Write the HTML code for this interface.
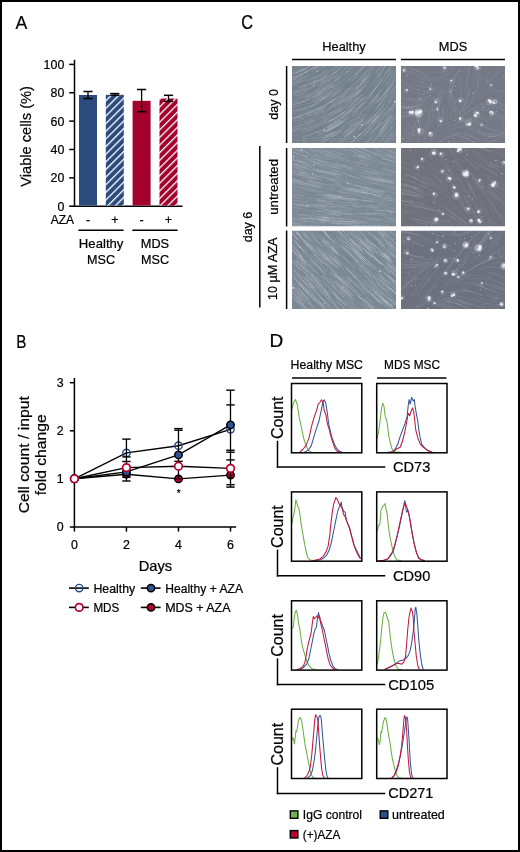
<!DOCTYPE html>
<html><head><meta charset="utf-8"><style>
html,body{margin:0;padding:0;background:#fff;}
body{width:520px;height:852px;overflow:hidden;position:relative;font-family:"Liberation Sans", sans-serif;}
svg{position:absolute;left:0;top:0;will-change:transform;}
.frame{position:absolute;left:0;top:0;width:516px;height:848px;border:2px solid #000;}
</style></head><body>
<svg width="520" height="852" viewBox="0 0 520 852" font-family='"Liberation Sans", sans-serif'>
<text x="15.6" y="28.8" font-size="19" text-anchor="start" fill="#000" stroke="#000" stroke-width="0.22" textLength="11.8" lengthAdjust="spacingAndGlyphs" >A</text>
<line x1="74.5" y1="59.8" x2="74.5" y2="206.95" stroke="#000" stroke-width="1.5" />
<line x1="73.75" y1="206.2" x2="182.5" y2="206.2" stroke="#000" stroke-width="1.5" />
<line x1="69.2" y1="206.2" x2="74.5" y2="206.2" stroke="#000" stroke-width="1.5" />
<text x="64.3" y="210.6" font-size="12.4" text-anchor="end" fill="#000" stroke="#000" stroke-width="0.22" >0</text>
<line x1="69.2" y1="177.83999999999997" x2="74.5" y2="177.83999999999997" stroke="#000" stroke-width="1.5" />
<text x="64.3" y="182.23999999999998" font-size="12.4" text-anchor="end" fill="#000" stroke="#000" stroke-width="0.22" >20</text>
<line x1="69.2" y1="149.48" x2="74.5" y2="149.48" stroke="#000" stroke-width="1.5" />
<text x="64.3" y="153.88" font-size="12.4" text-anchor="end" fill="#000" stroke="#000" stroke-width="0.22" >40</text>
<line x1="69.2" y1="121.11999999999999" x2="74.5" y2="121.11999999999999" stroke="#000" stroke-width="1.5" />
<text x="64.3" y="125.52" font-size="12.4" text-anchor="end" fill="#000" stroke="#000" stroke-width="0.22" >60</text>
<line x1="69.2" y1="92.75999999999999" x2="74.5" y2="92.75999999999999" stroke="#000" stroke-width="1.5" />
<text x="64.3" y="97.16" font-size="12.4" text-anchor="end" fill="#000" stroke="#000" stroke-width="0.22" >80</text>
<line x1="69.2" y1="64.4" x2="74.5" y2="64.4" stroke="#000" stroke-width="1.5" />
<text x="64.3" y="68.80000000000001" font-size="12.4" text-anchor="end" fill="#000" stroke="#000" stroke-width="0.22" >100</text>
<text transform="translate(31,136.4) rotate(-90)" x="0" y="0" font-size="15.5" text-anchor="middle" fill="#000" stroke="#000" stroke-width="0.22" textLength="100.7" lengthAdjust="spacingAndGlyphs" >Viable cells (%)</text>
<defs>
<pattern id="hb" patternUnits="userSpaceOnUse" width="5.4" height="5.4" patternTransform="translate(0,-0.6) rotate(45)">
<rect width="5.4" height="5.4" fill="#2b4a7e"/><rect x="0" y="0" width="1.3" height="5.4" fill="#fff"/></pattern>
<pattern id="hr" patternUnits="userSpaceOnUse" width="5.4" height="5.4" patternTransform="translate(0,-1.7) rotate(45)">
<rect width="5.4" height="5.4" fill="#a3002b"/><rect x="0" y="0" width="1.3" height="5.4" fill="#fff"/></pattern>
<filter id="soft" x="-5%" y="-5%" width="110%" height="110%"><feGaussianBlur stdDeviation="0.45"/></filter>
<radialGradient id="blob"><stop offset="0" stop-color="#ffffff" stop-opacity="1"/><stop offset="0.55" stop-color="#eef2f7" stop-opacity="0.8"/><stop offset="1" stop-color="#dde3ea" stop-opacity="0"/></radialGradient>
</defs>
<rect x="79.0" y="95.0" width="18" height="110.44999999999999" fill="#2b4a7e"/>
<line x1="88.0" y1="91.5" x2="88.0" y2="98.5" stroke="#000" stroke-width="1.3" />
<line x1="83.4" y1="91.5" x2="92.6" y2="91.5" stroke="#000" stroke-width="1.5" />
<line x1="83.4" y1="98.5" x2="92.6" y2="98.5" stroke="#000" stroke-width="1.5" />
<rect x="105.8" y="94.8" width="18" height="110.64999999999999" fill="url(#hb)"/>
<line x1="114.8" y1="93.6" x2="114.8" y2="95.3" stroke="#000" stroke-width="1.3" />
<line x1="110.2" y1="93.6" x2="119.39999999999999" y2="93.6" stroke="#000" stroke-width="1.5" />
<line x1="110.2" y1="95.3" x2="119.39999999999999" y2="95.3" stroke="#000" stroke-width="1.5" />
<rect x="132.6" y="100.8" width="18" height="104.64999999999999" fill="#a3002b"/>
<line x1="141.6" y1="89.5" x2="141.6" y2="111.7" stroke="#000" stroke-width="1.3" />
<line x1="137.0" y1="89.5" x2="146.2" y2="89.5" stroke="#000" stroke-width="1.5" />
<line x1="137.0" y1="111.7" x2="146.2" y2="111.7" stroke="#000" stroke-width="1.5" />
<rect x="159.5" y="98.5" width="18" height="106.94999999999999" fill="url(#hr)"/>
<line x1="168.5" y1="95.3" x2="168.5" y2="101.3" stroke="#000" stroke-width="1.3" />
<line x1="163.9" y1="95.3" x2="173.1" y2="95.3" stroke="#000" stroke-width="1.5" />
<line x1="163.9" y1="101.3" x2="173.1" y2="101.3" stroke="#000" stroke-width="1.5" />
<text x="50.7" y="223.6" font-size="12" text-anchor="start" fill="#000" stroke="#000" stroke-width="0.22" textLength="23.3" lengthAdjust="spacingAndGlyphs" >AZA</text>
<text x="88.0" y="223.6" font-size="12.5" text-anchor="middle" fill="#000" stroke="#000" stroke-width="0.22" >-</text>
<text x="114.8" y="223.6" font-size="12.5" text-anchor="middle" fill="#000" stroke="#000" stroke-width="0.22" >+</text>
<text x="141.6" y="223.6" font-size="12.5" text-anchor="middle" fill="#000" stroke="#000" stroke-width="0.22" >-</text>
<text x="168.5" y="223.6" font-size="12.5" text-anchor="middle" fill="#000" stroke="#000" stroke-width="0.22" >+</text>
<line x1="78.4" y1="230.3" x2="123.6" y2="230.3" stroke="#000" stroke-width="1.5" />
<line x1="132.3" y1="230.3" x2="177.6" y2="230.3" stroke="#000" stroke-width="1.5" />
<text x="101.15" y="248.2" font-size="12.6" text-anchor="middle" fill="#000" stroke="#000" stroke-width="0.22" textLength="44.6" lengthAdjust="spacingAndGlyphs" >Healthy</text>
<text x="101.1" y="264.3" font-size="12.6" text-anchor="middle" fill="#000" stroke="#000" stroke-width="0.22" >MSC</text>
<text x="154.95" y="248.2" font-size="12.6" text-anchor="middle" fill="#000" stroke="#000" stroke-width="0.22" textLength="28.4" lengthAdjust="spacingAndGlyphs" >MDS</text>
<text x="155" y="264.3" font-size="12.6" text-anchor="middle" fill="#000" stroke="#000" stroke-width="0.22" >MSC</text>
<text x="16.2" y="347.5" font-size="19" text-anchor="start" fill="#000" stroke="#000" stroke-width="0.22" textLength="10.2" lengthAdjust="spacingAndGlyphs" >B</text>
<line x1="74.4" y1="378" x2="74.4" y2="527.75" stroke="#000" stroke-width="1.5" />
<line x1="73.65" y1="527.0" x2="236.1" y2="527.0" stroke="#000" stroke-width="1.5" />
<line x1="69.8" y1="527.0" x2="74.4" y2="527.0" stroke="#000" stroke-width="1.5" />
<text x="63.6" y="531.4" font-size="12.4" text-anchor="end" fill="#000" stroke="#000" stroke-width="0.22" >0</text>
<line x1="69.8" y1="478.9" x2="74.4" y2="478.9" stroke="#000" stroke-width="1.5" />
<text x="63.6" y="483.29999999999995" font-size="12.4" text-anchor="end" fill="#000" stroke="#000" stroke-width="0.22" >1</text>
<line x1="69.8" y1="430.8" x2="74.4" y2="430.8" stroke="#000" stroke-width="1.5" />
<text x="63.6" y="435.2" font-size="12.4" text-anchor="end" fill="#000" stroke="#000" stroke-width="0.22" >2</text>
<line x1="69.8" y1="382.7" x2="74.4" y2="382.7" stroke="#000" stroke-width="1.5" />
<text x="63.6" y="387.09999999999997" font-size="12.4" text-anchor="end" fill="#000" stroke="#000" stroke-width="0.22" >3</text>
<line x1="74.4" y1="527.0" x2="74.4" y2="531.6" stroke="#000" stroke-width="1.5" />
<text x="74.4" y="549.0" font-size="12.4" text-anchor="middle" fill="#000" stroke="#000" stroke-width="0.22" >0</text>
<line x1="126.434" y1="527.0" x2="126.434" y2="531.6" stroke="#000" stroke-width="1.5" />
<text x="126.434" y="549.0" font-size="12.4" text-anchor="middle" fill="#000" stroke="#000" stroke-width="0.22" >2</text>
<line x1="178.46800000000002" y1="527.0" x2="178.46800000000002" y2="531.6" stroke="#000" stroke-width="1.5" />
<text x="178.46800000000002" y="549.0" font-size="12.4" text-anchor="middle" fill="#000" stroke="#000" stroke-width="0.22" >4</text>
<line x1="230.502" y1="527.0" x2="230.502" y2="531.6" stroke="#000" stroke-width="1.5" />
<text x="230.502" y="549.0" font-size="12.4" text-anchor="middle" fill="#000" stroke="#000" stroke-width="0.22" >6</text>
<text transform="translate(29.1,454.7) rotate(-90)" x="0" y="0" font-size="15.5" text-anchor="middle" fill="#000" stroke="#000" stroke-width="0.22" textLength="117.2" lengthAdjust="spacingAndGlyphs" >Cell count / input</text>
<text transform="translate(46.3,454.85) rotate(-90)" x="0" y="0" font-size="15.5" text-anchor="middle" fill="#000" stroke="#000" stroke-width="0.22" textLength="80.9" lengthAdjust="spacingAndGlyphs" >fold change</text>
<text x="155.35" y="571.3" font-size="14.2" text-anchor="middle" fill="#000" stroke="#000" stroke-width="0.22" textLength="33.4" lengthAdjust="spacingAndGlyphs" >Days</text>
<polyline points="74.40,478.80 126.43,452.90 178.47,445.70 230.50,429.30" fill="none" stroke="#000" stroke-width="1.4"/>
<polyline points="74.40,478.80 126.43,471.90 178.47,454.90 230.50,424.90" fill="none" stroke="#000" stroke-width="1.4"/>
<polyline points="74.40,478.80 126.43,467.60 178.47,466.20 230.50,468.40" fill="none" stroke="#000" stroke-width="1.4"/>
<polyline points="74.40,478.80 126.43,474.20 178.47,478.90 230.50,475.10" fill="none" stroke="#000" stroke-width="1.4"/>
<circle cx="74.40" cy="478.80" r="3.7" fill="none" stroke="#26498c" stroke-width="1.4"/>
<circle cx="126.43" cy="452.90" r="3.7" fill="none" stroke="#26498c" stroke-width="1.4"/>
<circle cx="178.47" cy="445.70" r="3.7" fill="none" stroke="#26498c" stroke-width="1.4"/>
<circle cx="230.50" cy="429.30" r="3.7" fill="none" stroke="#26498c" stroke-width="1.4"/>
<circle cx="74.40" cy="478.80" r="3.7" fill="#b3002d" stroke="#000" stroke-width="1.5"/>
<circle cx="126.43" cy="474.20" r="3.7" fill="#b3002d" stroke="#000" stroke-width="1.5"/>
<circle cx="178.47" cy="478.90" r="3.7" fill="#b3002d" stroke="#000" stroke-width="1.5"/>
<circle cx="230.50" cy="475.10" r="3.7" fill="#b3002d" stroke="#000" stroke-width="1.5"/>
<line x1="126.434" y1="439.1" x2="126.434" y2="481.0" stroke="#000" stroke-width="1.3" />
<line x1="122.234" y1="439.1" x2="130.634" y2="439.1" stroke="#000" stroke-width="1.4" />
<line x1="122.234" y1="456.9" x2="130.634" y2="456.9" stroke="#000" stroke-width="1.4" />
<line x1="122.234" y1="461.5" x2="130.634" y2="461.5" stroke="#000" stroke-width="1.4" />
<line x1="122.234" y1="477.3" x2="130.634" y2="477.3" stroke="#000" stroke-width="1.4" />
<line x1="122.234" y1="481.0" x2="130.634" y2="481.0" stroke="#000" stroke-width="1.4" />
<line x1="178.46800000000002" y1="429.4" x2="178.46800000000002" y2="479.0" stroke="#000" stroke-width="1.3" />
<line x1="174.26800000000003" y1="428.6" x2="182.668" y2="428.6" stroke="#000" stroke-width="1.4" />
<line x1="174.26800000000003" y1="430.2" x2="182.668" y2="430.2" stroke="#000" stroke-width="1.4" />
<line x1="174.26800000000003" y1="461.3" x2="182.668" y2="461.3" stroke="#000" stroke-width="1.4" />
<line x1="230.502" y1="390.2" x2="230.502" y2="487.1" stroke="#000" stroke-width="1.3" />
<line x1="226.30200000000002" y1="390.2" x2="234.702" y2="390.2" stroke="#000" stroke-width="1.4" />
<line x1="226.30200000000002" y1="404.9" x2="234.702" y2="404.9" stroke="#000" stroke-width="1.4" />
<line x1="226.30200000000002" y1="450.2" x2="234.702" y2="450.2" stroke="#000" stroke-width="1.4" />
<line x1="226.30200000000002" y1="452.2" x2="234.702" y2="452.2" stroke="#000" stroke-width="1.4" />
<line x1="226.30200000000002" y1="459.9" x2="234.702" y2="459.9" stroke="#000" stroke-width="1.4" />
<line x1="226.30200000000002" y1="484.7" x2="234.702" y2="484.7" stroke="#000" stroke-width="1.4" />
<line x1="226.30200000000002" y1="487.1" x2="234.702" y2="487.1" stroke="#000" stroke-width="1.4" />
<line x1="175.8" y1="479.0" x2="181.4" y2="479.0" stroke="#2a0008" stroke-width="0.9" />
<circle cx="74.40" cy="478.80" r="3.7" fill="#2f5597" stroke="#000" stroke-width="1.5"/>
<circle cx="126.43" cy="471.90" r="3.7" fill="#2f5597" stroke="#000" stroke-width="1.5"/>
<circle cx="178.47" cy="454.90" r="3.7" fill="#2f5597" stroke="#000" stroke-width="1.5"/>
<circle cx="230.50" cy="424.90" r="3.7" fill="#2f5597" stroke="#000" stroke-width="1.5"/>
<circle cx="74.40" cy="478.80" r="3.8" fill="#fff" stroke="#b8002e" stroke-width="1.7"/>
<circle cx="126.43" cy="467.60" r="3.8" fill="#fff" stroke="#b8002e" stroke-width="1.7"/>
<circle cx="178.47" cy="466.20" r="3.8" fill="#fff" stroke="#b8002e" stroke-width="1.7"/>
<circle cx="230.50" cy="468.40" r="3.8" fill="#fff" stroke="#b8002e" stroke-width="1.7"/>
<text x="178.6" y="496.6" font-size="10" text-anchor="middle" fill="#000" stroke="#000" stroke-width="0.22" >*</text>
<line x1="69" y1="588.1" x2="88.8" y2="588.1" stroke="#000" stroke-width="1.6" />
<circle cx="79.20" cy="588.10" r="3.7" fill="none" stroke="#26498c" stroke-width="1.4"/>
<text x="93.4" y="592.5" font-size="12.2" text-anchor="start" fill="#000" stroke="#000" stroke-width="0.22" textLength="41.8" lengthAdjust="spacingAndGlyphs" >Healthy</text>
<line x1="140.8" y1="588.1" x2="160.60000000000002" y2="588.1" stroke="#000" stroke-width="1.6" />
<circle cx="151.00" cy="588.10" r="3.7" fill="#2f5597" stroke="#000" stroke-width="1.5"/>
<text x="165.20000000000002" y="592.5" font-size="12.2" text-anchor="start" fill="#000" stroke="#000" stroke-width="0.22" textLength="77.8" lengthAdjust="spacingAndGlyphs" >Healthy + AZA</text>
<line x1="69" y1="607.4" x2="88.8" y2="607.4" stroke="#000" stroke-width="1.6" />
<circle cx="79.20" cy="607.40" r="3.8" fill="#fff" stroke="#b8002e" stroke-width="1.7"/>
<text x="93.4" y="611.8" font-size="12.2" text-anchor="start" fill="#000" stroke="#000" stroke-width="0.22" textLength="25.900000000000002" lengthAdjust="spacingAndGlyphs" >MDS</text>
<line x1="140.8" y1="607.4" x2="160.60000000000002" y2="607.4" stroke="#000" stroke-width="1.6" />
<circle cx="151.00" cy="607.40" r="3.7" fill="#b3002d" stroke="#000" stroke-width="1.5"/>
<text x="165.20000000000002" y="611.8" font-size="12.2" text-anchor="start" fill="#000" stroke="#000" stroke-width="0.22" textLength="65.3" lengthAdjust="spacingAndGlyphs" >MDS + AZA</text>
<text x="241.2" y="29.4" font-size="19.5" text-anchor="start" fill="#000" stroke="#000" stroke-width="0.22" textLength="11.8" lengthAdjust="spacingAndGlyphs" >C</text>
<text x="344" y="51" font-size="12.8" text-anchor="middle" fill="#000" stroke="#000" stroke-width="0.22" textLength="43.3" lengthAdjust="spacingAndGlyphs" >Healthy</text>
<text x="453" y="51" font-size="12.8" text-anchor="middle" fill="#000" stroke="#000" stroke-width="0.22" textLength="28.4" lengthAdjust="spacingAndGlyphs" >MDS</text>
<line x1="292" y1="59.6" x2="396" y2="59.6" stroke="#000" stroke-width="1.5" />
<line x1="401" y1="59.6" x2="505" y2="59.6" stroke="#000" stroke-width="1.5" />
<line x1="286.6" y1="66" x2="286.6" y2="143" stroke="#000" stroke-width="1.5" />
<text transform="translate(278.1,104.35) rotate(-90)" x="0" y="0" font-size="13.2" text-anchor="middle" fill="#000" stroke="#000" stroke-width="0.22" textLength="30.7" lengthAdjust="spacingAndGlyphs" >day 0</text>
<clipPath id="c00"><rect x="292" y="66" width="104" height="77"/></clipPath><g clip-path="url(#c00)"><rect x="292" y="66" width="104" height="77" fill="#77828f"/><g fill="none" stroke="#e0e9ef" stroke-linecap="round" filter="url(#soft)"><path d="M345.5,103.9Q351.5,99.1 357.2,94.0" stroke-opacity="0.13" stroke-width="0.8"/><path d="M374.9,119.6Q377.7,116.3 380.4,113.0" stroke-opacity="0.20" stroke-width="0.6"/><path d="M307.7,143.2Q318.1,139.7 328.0,134.8" stroke-opacity="0.09" stroke-width="0.8"/><path d="M350.8,98.9Q354.8,95.4 358.6,91.8" stroke-opacity="0.24" stroke-width="0.7"/><path d="M360.4,119.8Q363.4,117.0 366.2,114.1" stroke-opacity="0.26" stroke-width="0.9"/><path d="M391.0,116.0Q392.8,113.2 394.6,110.4" stroke-opacity="0.08" stroke-width="0.6"/><path d="M386.5,94.2Q389.9,89.3 393.2,84.4" stroke-opacity="0.30" stroke-width="0.6"/><path d="M346.4,101.8Q349.1,99.6 351.8,97.3" stroke-opacity="0.22" stroke-width="0.8"/><path d="M302.5,85.9Q308.3,83.4 313.9,80.5" stroke-opacity="0.09" stroke-width="0.7"/><path d="M372.3,122.2Q377.1,116.7 381.7,111.0" stroke-opacity="0.29" stroke-width="0.6"/><path d="M345.0,99.8Q351.1,94.9 356.8,89.6" stroke-opacity="0.11" stroke-width="0.8"/><path d="M293.3,82.4Q302.1,79.0 310.6,74.8" stroke-opacity="0.31" stroke-width="0.7"/><path d="M330.8,87.8Q335.1,85.0 339.3,81.9" stroke-opacity="0.23" stroke-width="0.6"/><path d="M300.4,102.6Q304.4,101.1 308.4,99.5" stroke-opacity="0.24" stroke-width="0.8"/><path d="M369.0,107.3Q372.9,103.0 376.6,98.6" stroke-opacity="0.18" stroke-width="0.5"/><path d="M362.2,95.5Q366.2,91.6 369.9,87.5" stroke-opacity="0.10" stroke-width="0.7"/><path d="M345.0,102.4Q352.8,96.2 360.0,89.4" stroke-opacity="0.24" stroke-width="0.6"/><path d="M340.7,140.2Q346.7,136.2 352.4,131.8" stroke-opacity="0.22" stroke-width="0.5"/><path d="M337.9,105.2Q343.0,101.6 347.8,97.7" stroke-opacity="0.18" stroke-width="0.7"/><path d="M344.6,106.4Q348.0,103.8 351.4,101.0" stroke-opacity="0.19" stroke-width="0.9"/><path d="M332.7,70.5Q335.2,68.7 337.6,66.9" stroke-opacity="0.21" stroke-width="0.5"/><path d="M295.5,77.0Q301.7,74.5 307.7,71.6" stroke-opacity="0.32" stroke-width="0.7"/><path d="M333.9,103.6Q339.8,99.7 345.3,95.4" stroke-opacity="0.19" stroke-width="0.8"/><path d="M381.5,124.8Q385.4,119.8 389.1,114.6" stroke-opacity="0.24" stroke-width="0.9"/><path d="M300.7,87.5Q308.0,84.4 315.1,80.8" stroke-opacity="0.24" stroke-width="0.8"/><path d="M347.8,134.1Q353.3,130.0 358.4,125.5" stroke-opacity="0.27" stroke-width="0.9"/><path d="M329.7,136.6Q337.4,132.3 344.6,127.3" stroke-opacity="0.29" stroke-width="0.5"/><path d="M380.5,133.6Q387.1,125.2 393.1,116.3" stroke-opacity="0.32" stroke-width="0.6"/><path d="M356.2,82.3Q361.8,77.0 367.0,71.3" stroke-opacity="0.30" stroke-width="0.6"/><path d="M324.6,74.6Q328.4,72.2 332.1,69.6" stroke-opacity="0.13" stroke-width="0.5"/><path d="M392.4,140.0Q396.0,134.4 399.5,128.6" stroke-opacity="0.26" stroke-width="0.8"/><path d="M339.7,103.6Q346.4,98.7 352.8,93.3" stroke-opacity="0.21" stroke-width="0.6"/><path d="M322.9,118.2Q330.0,114.4 336.7,110.1" stroke-opacity="0.13" stroke-width="0.7"/><path d="M377.9,139.5Q383.1,133.2 387.9,126.5" stroke-opacity="0.10" stroke-width="0.7"/><path d="M296.7,72.3Q301.3,70.3 305.8,68.1" stroke-opacity="0.19" stroke-width="0.8"/><path d="M351.1,93.5Q357.5,87.9 363.5,81.8" stroke-opacity="0.20" stroke-width="0.7"/><path d="M314.3,102.6Q319.5,100.1 324.5,97.3" stroke-opacity="0.25" stroke-width="0.7"/><path d="M332.8,106.5Q338.5,102.8 344.0,98.7" stroke-opacity="0.25" stroke-width="0.8"/><path d="M369.2,104.2Q375.4,97.3 381.2,90.0" stroke-opacity="0.31" stroke-width="0.9"/><path d="M360.2,78.2Q367.1,71.2 373.4,63.7" stroke-opacity="0.28" stroke-width="0.5"/><path d="M318.3,95.2Q326.2,91.0 333.6,86.0" stroke-opacity="0.23" stroke-width="0.6"/><path d="M308.0,80.7Q311.4,79.0 314.7,77.2" stroke-opacity="0.27" stroke-width="0.9"/><path d="M305.0,127.2Q315.0,123.7 324.5,118.9" stroke-opacity="0.13" stroke-width="0.7"/><path d="M329.0,146.0Q337.8,141.3 346.0,135.7" stroke-opacity="0.08" stroke-width="0.6"/><path d="M375.6,115.8Q380.3,110.3 384.6,104.5" stroke-opacity="0.27" stroke-width="0.8"/><path d="M389.4,94.0Q391.3,91.2 393.2,88.3" stroke-opacity="0.25" stroke-width="0.5"/><path d="M345.8,135.9Q350.8,132.3 355.6,128.3" stroke-opacity="0.22" stroke-width="0.6"/><path d="M299.1,116.0Q308.5,112.9 317.5,108.8" stroke-opacity="0.32" stroke-width="0.5"/><path d="M384.4,110.1Q387.8,105.4 391.1,100.6" stroke-opacity="0.18" stroke-width="0.7"/><path d="M319.7,82.5Q328.3,77.4 336.3,71.6" stroke-opacity="0.25" stroke-width="0.7"/><path d="M364.0,145.0Q367.2,142.0 370.2,138.8" stroke-opacity="0.28" stroke-width="0.8"/><path d="M321.9,112.3Q327.8,109.1 333.4,105.6" stroke-opacity="0.13" stroke-width="0.7"/><path d="M303.6,139.1Q307.9,137.8 312.1,136.3" stroke-opacity="0.23" stroke-width="0.7"/><path d="M390.1,132.0Q393.4,127.1 396.5,122.2" stroke-opacity="0.17" stroke-width="0.5"/><path d="M287.4,93.3Q297.5,90.2 307.2,86.0" stroke-opacity="0.09" stroke-width="0.6"/><path d="M354.9,96.8Q358.2,93.8 361.4,90.6" stroke-opacity="0.31" stroke-width="0.5"/><path d="M349.8,102.8Q354.2,99.1 358.5,95.1" stroke-opacity="0.13" stroke-width="0.6"/><path d="M328.4,127.3Q334.2,124.0 339.9,120.3" stroke-opacity="0.27" stroke-width="0.9"/><path d="M302.7,136.1Q310.1,133.9 317.2,131.0" stroke-opacity="0.18" stroke-width="0.7"/><path d="M382.3,99.2Q384.6,96.2 386.8,93.1" stroke-opacity="0.31" stroke-width="0.5"/><path d="M297.9,123.2Q303.1,121.7 308.3,119.8" stroke-opacity="0.15" stroke-width="0.8"/><path d="M378.5,100.8Q384.8,92.7 390.7,84.3" stroke-opacity="0.23" stroke-width="0.7"/><path d="M344.1,69.7Q347.4,67.0 350.6,64.1" stroke-opacity="0.24" stroke-width="0.8"/><path d="M295.6,117.1Q302.1,115.2 308.5,112.8" stroke-opacity="0.22" stroke-width="0.7"/><path d="M304.9,97.9Q314.8,93.6 324.1,88.3" stroke-opacity="0.13" stroke-width="0.8"/><path d="M339.9,77.8Q347.4,71.9 354.3,65.4" stroke-opacity="0.08" stroke-width="0.8"/><path d="M319.2,140.5Q327.3,136.9 335.0,132.5" stroke-opacity="0.17" stroke-width="0.8"/><path d="M392.1,83.1Q394.6,79.2 397.1,75.2" stroke-opacity="0.15" stroke-width="0.8"/><path d="M310.7,88.6Q317.8,85.1 324.6,81.0" stroke-opacity="0.22" stroke-width="0.7"/><path d="M347.0,70.4Q349.3,68.4 351.6,66.4" stroke-opacity="0.09" stroke-width="0.5"/><path d="M369.4,144.3Q372.2,141.4 374.9,138.4" stroke-opacity="0.17" stroke-width="0.5"/><path d="M330.3,121.2Q337.2,117.1 343.7,112.4" stroke-opacity="0.30" stroke-width="0.7"/><path d="M291.2,97.1Q297.5,95.1 303.7,92.6" stroke-opacity="0.16" stroke-width="0.5"/><path d="M350.7,109.4Q357.4,103.8 363.6,97.7" stroke-opacity="0.17" stroke-width="0.5"/><path d="M313.7,82.8Q319.6,79.7 325.3,76.1" stroke-opacity="0.12" stroke-width="0.5"/><path d="M343.6,79.3Q346.6,76.9 349.5,74.3" stroke-opacity="0.11" stroke-width="0.8"/><path d="M370.8,134.0Q376.0,128.4 380.8,122.5" stroke-opacity="0.23" stroke-width="0.8"/><path d="M329.1,109.9Q336.6,105.4 343.6,100.2" stroke-opacity="0.23" stroke-width="0.7"/><path d="M355.7,110.4Q359.2,107.3 362.6,104.0" stroke-opacity="0.15" stroke-width="0.8"/><path d="M330.4,135.1Q335.6,132.2 340.6,128.9" stroke-opacity="0.24" stroke-width="0.5"/><path d="M319.2,133.4Q323.2,131.6 327.1,129.6" stroke-opacity="0.23" stroke-width="0.5"/><path d="M347.6,107.4Q355.5,100.9 362.8,93.8" stroke-opacity="0.28" stroke-width="0.8"/><path d="M323.5,119.5Q327.2,117.6 330.9,115.4" stroke-opacity="0.20" stroke-width="0.7"/><path d="M337.1,89.9Q340.9,87.1 344.6,84.2" stroke-opacity="0.20" stroke-width="0.8"/><path d="M344.5,143.8Q350.6,139.5 356.4,134.8" stroke-opacity="0.12" stroke-width="0.8"/><path d="M321.3,140.0Q324.9,138.3 328.5,136.5" stroke-opacity="0.19" stroke-width="0.8"/><path d="M389.5,111.2Q392.9,106.2 396.1,101.1" stroke-opacity="0.27" stroke-width="0.8"/><path d="M384.6,124.8Q387.0,121.6 389.4,118.3" stroke-opacity="0.32" stroke-width="0.9"/><path d="M329.0,121.9Q337.4,117.0 345.2,111.3" stroke-opacity="0.30" stroke-width="0.8"/><path d="M296.0,73.6Q301.5,71.3 306.8,68.7" stroke-opacity="0.19" stroke-width="0.6"/><path d="M365.6,129.3Q370.0,124.9 374.1,120.2" stroke-opacity="0.25" stroke-width="0.6"/><path d="M388.6,88.1Q391.0,84.6 393.3,81.1" stroke-opacity="0.17" stroke-width="0.8"/><path d="M346.8,124.8Q354.4,119.0 361.4,112.5" stroke-opacity="0.17" stroke-width="0.9"/><path d="M389.7,114.7Q394.8,107.3 399.4,99.6" stroke-opacity="0.28" stroke-width="0.7"/><path d="M299.2,118.7Q305.6,116.7 311.7,114.2" stroke-opacity="0.29" stroke-width="0.6"/><path d="M289.1,81.2Q293.2,79.8 297.3,78.2" stroke-opacity="0.17" stroke-width="0.6"/><path d="M323.0,113.4Q326.8,111.4 330.4,109.2" stroke-opacity="0.20" stroke-width="0.6"/><path d="M285.7,119.5Q292.5,118.1 299.3,116.1" stroke-opacity="0.27" stroke-width="0.9"/><path d="M290.5,122.6Q297.0,121.1 303.4,119.1" stroke-opacity="0.29" stroke-width="0.5"/><path d="M376.9,102.0Q379.3,99.1 381.6,96.1" stroke-opacity="0.19" stroke-width="0.9"/><path d="M296.2,96.4Q299.6,95.2 303.0,93.9" stroke-opacity="0.08" stroke-width="0.8"/><path d="M341.2,116.1Q349.4,110.1 357.1,103.4" stroke-opacity="0.10" stroke-width="0.9"/><path d="M363.6,138.3Q370.5,131.7 376.7,124.5" stroke-opacity="0.17" stroke-width="0.5"/><path d="M391.0,122.0Q395.8,114.8 400.3,107.3" stroke-opacity="0.25" stroke-width="0.6"/><path d="M356.8,104.0Q360.4,100.7 363.8,97.3" stroke-opacity="0.20" stroke-width="0.7"/><path d="M314.1,128.0Q323.5,124.0 332.4,118.8" stroke-opacity="0.22" stroke-width="0.5"/><path d="M341.0,120.3Q348.8,114.8 356.0,108.5" stroke-opacity="0.15" stroke-width="0.6"/><path d="M323.1,83.4Q331.0,78.5 338.4,73.0" stroke-opacity="0.09" stroke-width="0.7"/><path d="M376.0,71.9Q378.7,68.5 381.3,65.1" stroke-opacity="0.32" stroke-width="0.6"/><path d="M367.4,73.3Q371.9,68.2 376.2,63.0" stroke-opacity="0.09" stroke-width="0.6"/><path d="M287.3,119.9Q293.8,118.4 300.2,116.5" stroke-opacity="0.16" stroke-width="0.7"/><path d="M359.7,88.9Q362.8,86.0 365.7,82.9" stroke-opacity="0.09" stroke-width="0.8"/><path d="M356.0,89.4Q361.2,84.5 366.1,79.3" stroke-opacity="0.31" stroke-width="0.7"/><path d="M366.7,98.5Q371.8,93.1 376.5,87.4" stroke-opacity="0.27" stroke-width="0.8"/><path d="M351.5,91.0Q354.1,88.7 356.7,86.4" stroke-opacity="0.20" stroke-width="0.8"/><path d="M323.5,125.1Q329.5,122.1 335.2,118.5" stroke-opacity="0.10" stroke-width="0.7"/><path d="M345.6,93.7Q349.1,90.8 352.6,87.8" stroke-opacity="0.32" stroke-width="0.7"/><path d="M361.3,75.7Q367.4,69.3 373.2,62.6" stroke-opacity="0.12" stroke-width="0.7"/><path d="M325.0,100.9Q333.1,96.1 340.6,90.6" stroke-opacity="0.13" stroke-width="0.9"/><path d="M374.1,111.6Q380.5,103.9 386.5,95.9" stroke-opacity="0.21" stroke-width="0.9"/><path d="M335.2,146.0Q342.9,141.5 350.1,136.1" stroke-opacity="0.24" stroke-width="0.9"/><path d="M358.6,90.7Q364.4,84.9 369.9,78.9" stroke-opacity="0.12" stroke-width="0.7"/><path d="M360.7,85.3Q365.2,80.7 369.5,76.0" stroke-opacity="0.14" stroke-width="0.7"/><path d="M307.1,123.8Q316.2,120.4 324.8,116.0" stroke-opacity="0.20" stroke-width="0.8"/><path d="M363.9,134.9Q370.6,128.3 376.8,121.2" stroke-opacity="0.24" stroke-width="0.8"/><path d="M361.3,112.9Q368.0,106.4 374.2,99.3" stroke-opacity="0.13" stroke-width="0.8"/><path d="M352.5,112.8Q358.5,107.7 364.1,102.2" stroke-opacity="0.30" stroke-width="0.8"/><path d="M356.4,142.0Q364.0,135.5 370.9,128.3" stroke-opacity="0.16" stroke-width="0.8"/><path d="M377.8,119.0Q384.3,111.0 390.3,102.4" stroke-opacity="0.12" stroke-width="0.8"/><path d="M310.9,99.9Q317.3,96.9 323.5,93.4" stroke-opacity="0.18" stroke-width="0.7"/><path d="M293.6,74.0Q301.7,70.7 309.5,66.7" stroke-opacity="0.14" stroke-width="0.6"/><path d="M359.6,129.3Q364.9,124.3 369.9,119.1" stroke-opacity="0.28" stroke-width="0.6"/><path d="M378.6,122.9Q384.7,115.2 390.3,107.2" stroke-opacity="0.28" stroke-width="0.8"/><path d="M384.2,129.4Q388.2,124.1 391.9,118.7" stroke-opacity="0.11" stroke-width="0.7"/><path d="M350.2,73.1Q355.9,67.9 361.3,62.3" stroke-opacity="0.18" stroke-width="0.7"/><path d="M291.3,75.1Q299.0,72.2 306.3,68.6" stroke-opacity="0.14" stroke-width="0.6"/><path d="M376.9,77.2Q382.2,70.5 387.2,63.4" stroke-opacity="0.28" stroke-width="0.9"/><path d="M356.0,74.7Q360.6,70.2 365.1,65.4" stroke-opacity="0.29" stroke-width="0.7"/><path d="M341.5,127.7Q347.8,123.3 353.7,118.5" stroke-opacity="0.17" stroke-width="0.7"/><path d="M337.4,93.7Q340.3,91.6 343.1,89.5" stroke-opacity="0.14" stroke-width="0.9"/><path d="M312.9,97.9Q322.6,93.1 331.7,87.2" stroke-opacity="0.10" stroke-width="0.6"/><path d="M325.8,105.0Q331.2,101.8 336.4,98.3" stroke-opacity="0.15" stroke-width="0.6"/><path d="M347.5,81.0Q349.8,79.0 352.0,77.0" stroke-opacity="0.26" stroke-width="0.8"/><path d="M325.8,135.9Q329.6,134.0 333.3,131.8" stroke-opacity="0.30" stroke-width="0.8"/><path d="M355.3,76.3Q361.8,70.0 367.9,63.2" stroke-opacity="0.12" stroke-width="0.7"/><path d="M345.2,74.2Q349.3,70.7 353.2,67.1" stroke-opacity="0.30" stroke-width="0.8"/><path d="M320.8,142.7Q324.0,141.3 327.2,139.7" stroke-opacity="0.24" stroke-width="0.8"/><path d="M374.5,122.7Q380.3,115.9 385.6,108.8" stroke-opacity="0.14" stroke-width="0.8"/><path d="M359.1,113.7Q362.8,110.2 366.4,106.6" stroke-opacity="0.24" stroke-width="0.5"/><path d="M339.6,119.9Q344.3,116.7 348.8,113.2" stroke-opacity="0.22" stroke-width="0.5"/><path d="M318.3,108.4Q326.9,104.0 335.0,98.8" stroke-opacity="0.21" stroke-width="0.9"/><path d="M324.0,138.2Q330.9,134.8 337.4,130.9" stroke-opacity="0.19" stroke-width="0.6"/><path d="M374.0,131.9Q378.0,127.3 381.8,122.5" stroke-opacity="0.16" stroke-width="0.6"/><path d="M319.1,78.2Q327.5,73.2 335.5,67.4" stroke-opacity="0.18" stroke-width="0.6"/><path d="M355.8,86.6Q363.0,79.6 369.7,72.2" stroke-opacity="0.08" stroke-width="0.7"/><path d="M355.3,95.5Q358.6,92.4 361.9,89.2" stroke-opacity="0.30" stroke-width="0.7"/><path d="M362.2,81.0Q364.3,78.8 366.4,76.5" stroke-opacity="0.30" stroke-width="0.6"/><path d="M290.4,127.7Q297.8,126.0 304.9,123.7" stroke-opacity="0.08" stroke-width="0.7"/><path d="M338.5,141.4Q345.0,137.2 351.2,132.5" stroke-opacity="0.12" stroke-width="0.8"/><path d="M371.6,144.6Q375.3,140.5 378.8,136.4" stroke-opacity="0.22" stroke-width="0.5"/><path d="M386.7,83.8Q391.4,77.1 395.8,70.1" stroke-opacity="0.29" stroke-width="0.7"/><path d="M389.5,103.6Q393.8,97.4 397.7,91.0" stroke-opacity="0.28" stroke-width="0.5"/><path d="M379.1,134.5Q381.8,131.2 384.4,127.7" stroke-opacity="0.25" stroke-width="0.6"/><path d="M303.9,108.7Q312.0,105.5 319.8,101.6" stroke-opacity="0.17" stroke-width="0.6"/><path d="M308.3,113.3Q315.4,110.4 322.2,106.9" stroke-opacity="0.29" stroke-width="0.8"/><path d="M289.0,78.7Q292.9,77.3 296.6,75.8" stroke-opacity="0.15" stroke-width="0.8"/><path d="M334.8,127.6Q343.0,122.4 350.7,116.4" stroke-opacity="0.17" stroke-width="0.5"/><path d="M307.2,116.4Q314.2,113.7 321.0,110.3" stroke-opacity="0.13" stroke-width="0.8"/><path d="M288.3,80.4Q295.1,78.0 301.6,75.2" stroke-opacity="0.23" stroke-width="0.9"/><path d="M326.0,131.8Q332.0,128.7 337.8,125.1" stroke-opacity="0.15" stroke-width="0.9"/><path d="M339.2,123.5Q343.6,120.5 347.9,117.3" stroke-opacity="0.29" stroke-width="0.7"/><path d="M291.5,73.4Q296.9,71.3 302.2,68.8" stroke-opacity="0.18" stroke-width="0.5"/><path d="M373.5,117.0Q380.4,109.0 386.7,100.5" stroke-opacity="0.24" stroke-width="0.8"/><path d="M305.4,71.6Q309.8,69.4 314.0,67.1" stroke-opacity="0.18" stroke-width="0.5"/><path d="M383.0,96.6Q388.6,89.1 393.7,81.3" stroke-opacity="0.09" stroke-width="0.8"/><path d="M319.8,109.4Q326.7,105.8 333.4,101.6" stroke-opacity="0.23" stroke-width="0.6"/><path d="M311.8,99.2Q318.5,96.0 324.9,92.3" stroke-opacity="0.08" stroke-width="0.6"/><path d="M290.9,132.2Q299.3,130.4 307.5,127.7" stroke-opacity="0.28" stroke-width="0.8"/><path d="M286.1,94.3Q295.8,91.5 305.0,87.6" stroke-opacity="0.19" stroke-width="0.6"/><path d="M304.9,137.4Q308.5,136.3 312.0,135.1" stroke-opacity="0.17" stroke-width="0.6"/><path d="M351.4,141.9Q358.4,136.3 364.9,130.2" stroke-opacity="0.31" stroke-width="0.6"/><path d="M367.2,123.4Q369.6,120.9 371.9,118.4" stroke-opacity="0.22" stroke-width="0.9"/><path d="M288.3,85.9Q295.2,83.6 301.9,80.8" stroke-opacity="0.23" stroke-width="0.7"/><path d="M378.8,101.8Q383.9,95.3 388.7,88.5" stroke-opacity="0.21" stroke-width="0.8"/><path d="M324.0,141.3Q332.8,137.0 341.0,131.7" stroke-opacity="0.25" stroke-width="0.9"/><path d="M353.2,96.0Q361.1,88.8 368.4,81.0" stroke-opacity="0.16" stroke-width="0.6"/><path d="M348.9,111.7Q357.4,104.7 365.1,97.0" stroke-opacity="0.18" stroke-width="0.9"/><path d="M333.0,87.6Q338.9,83.5 344.6,78.9" stroke-opacity="0.24" stroke-width="0.6"/><path d="M350.6,101.7Q353.1,99.7 355.4,97.6" stroke-opacity="0.10" stroke-width="0.7"/><path d="M357.4,85.8Q365.0,78.3 372.1,70.3" stroke-opacity="0.17" stroke-width="0.5"/><path d="M302.1,139.9Q311.5,137.2 320.5,133.3" stroke-opacity="0.24" stroke-width="0.5"/><path d="M355.3,71.2Q358.8,67.8 362.2,64.3" stroke-opacity="0.10" stroke-width="0.8"/><path d="M370.1,94.5Q377.4,86.3 384.0,77.5" stroke-opacity="0.21" stroke-width="0.8"/><path d="M304.9,130.1Q312.5,127.5 319.9,124.2" stroke-opacity="0.10" stroke-width="0.8"/><path d="M368.0,98.9Q371.5,95.1 374.8,91.2" stroke-opacity="0.10" stroke-width="0.7"/><path d="M317.4,87.3Q323.2,84.1 328.7,80.5" stroke-opacity="0.11" stroke-width="0.8"/><path d="M320.1,91.9Q325.8,88.7 331.2,85.2" stroke-opacity="0.18" stroke-width="0.7"/><path d="M309.0,127.9Q318.5,124.3 327.5,119.5" stroke-opacity="0.22" stroke-width="0.8"/><path d="M369.8,95.6Q376.4,88.1 382.5,80.2" stroke-opacity="0.22" stroke-width="0.8"/><path d="M343.9,138.2Q349.6,134.2 355.0,129.8" stroke-opacity="0.25" stroke-width="0.6"/><path d="M299.7,110.9Q308.7,107.8 317.4,103.6" stroke-opacity="0.11" stroke-width="0.8"/><path d="M312.2,79.3Q320.6,74.8 328.5,69.5" stroke-opacity="0.09" stroke-width="0.7"/><path d="M353.4,126.1Q360.3,120.2 366.8,113.8" stroke-opacity="0.10" stroke-width="0.6"/><path d="M314.6,135.1Q324.0,131.2 332.8,126.2" stroke-opacity="0.18" stroke-width="0.6"/><path d="M353.6,101.2Q355.9,99.1 358.3,97.0" stroke-opacity="0.23" stroke-width="0.9"/><path d="M358.6,124.2Q361.3,121.8 363.9,119.3" stroke-opacity="0.23" stroke-width="0.9"/><path d="M315.9,93.1Q320.3,90.7 324.6,88.2" stroke-opacity="0.22" stroke-width="0.6"/><path d="M375.6,123.8Q380.4,118.1 384.8,112.3" stroke-opacity="0.26" stroke-width="0.6"/><path d="M312.6,101.3Q318.1,98.7 323.5,95.7" stroke-opacity="0.19" stroke-width="0.9"/><path d="M316.9,135.4Q325.8,131.6 334.2,126.7" stroke-opacity="0.16" stroke-width="0.7"/><path d="M287.7,121.1Q294.4,119.7 301.0,117.6" stroke-opacity="0.12" stroke-width="0.9"/><path d="M333.1,88.6Q338.7,84.7 344.1,80.5" stroke-opacity="0.12" stroke-width="0.6"/><path d="M356.3,119.1Q359.2,116.5 362.0,113.9" stroke-opacity="0.26" stroke-width="0.8"/><path d="M341.6,117.6Q348.0,113.0 354.0,107.9" stroke-opacity="0.27" stroke-width="0.8"/><path d="M369.2,110.8Q373.7,105.8 378.0,100.6" stroke-opacity="0.11" stroke-width="0.8"/><path d="M352.6,130.7Q358.9,125.5 364.7,119.8" stroke-opacity="0.20" stroke-width="0.5"/><path d="M356.5,120.7Q359.6,118.0 362.5,115.2" stroke-opacity="0.14" stroke-width="0.7"/><path d="M300.7,143.5Q304.2,142.6 307.6,141.5" stroke-opacity="0.25" stroke-width="0.8"/><path d="M292.1,104.9Q298.4,103.0 304.5,100.7" stroke-opacity="0.31" stroke-width="0.9"/><path d="M344.8,129.8Q352.8,123.9 360.2,117.3" stroke-opacity="0.11" stroke-width="0.5"/><path d="M351.9,141.4Q358.7,136.0 365.0,130.0" stroke-opacity="0.30" stroke-width="0.6"/><path d="M314.2,84.1Q320.7,80.7 326.8,76.8" stroke-opacity="0.31" stroke-width="0.6"/><path d="M332.3,106.1Q338.5,102.1 344.4,97.6" stroke-opacity="0.15" stroke-width="0.7"/><path d="M285.3,68.8Q292.1,66.3 298.7,63.4" stroke-opacity="0.11" stroke-width="0.7"/><path d="M330.2,102.1Q334.8,99.3 339.2,96.2" stroke-opacity="0.29" stroke-width="0.6"/><path d="M377.0,77.5Q382.0,71.1 386.7,64.6" stroke-opacity="0.12" stroke-width="0.9"/><path d="M287.7,132.1Q296.7,130.3 305.4,127.6" stroke-opacity="0.18" stroke-width="0.5"/><path d="M358.8,128.3Q365.7,122.0 372.0,115.1" stroke-opacity="0.24" stroke-width="0.8"/><path d="M324.5,121.0Q333.5,116.1 341.9,110.3" stroke-opacity="0.15" stroke-width="0.6"/><path d="M315.2,72.5Q323.7,67.6 331.6,61.9" stroke-opacity="0.12" stroke-width="0.5"/><path d="M310.1,106.6Q319.4,102.4 328.2,97.3" stroke-opacity="0.16" stroke-width="0.8"/><path d="M384.2,148.3Q388.9,142.1 393.1,135.7" stroke-opacity="0.24" stroke-width="0.7"/><path d="M371.5,121.8Q374.0,119.0 376.5,116.0" stroke-opacity="0.18" stroke-width="0.8"/><path d="M327.4,131.6Q335.9,126.9 344.0,121.4" stroke-opacity="0.27" stroke-width="0.8"/><path d="M318.1,109.3Q326.8,104.9 334.9,99.6" stroke-opacity="0.18" stroke-width="0.7"/><path d="M290.5,101.8Q297.2,99.8 303.7,97.3" stroke-opacity="0.12" stroke-width="0.7"/><path d="M296.0,141.5Q300.0,140.6 304.0,139.5" stroke-opacity="0.25" stroke-width="0.6"/><path d="M390.0,138.3Q394.1,132.3 397.9,126.2" stroke-opacity="0.14" stroke-width="0.5"/><path d="M332.5,94.5Q336.4,91.8 340.2,89.1" stroke-opacity="0.30" stroke-width="0.7"/><path d="M298.9,103.7Q304.2,101.8 309.4,99.6" stroke-opacity="0.27" stroke-width="0.7"/><path d="M287.2,108.7Q293.8,107.0 300.3,104.8" stroke-opacity="0.14" stroke-width="0.7"/><path d="M314.4,78.8Q319.1,76.3 323.7,73.4" stroke-opacity="0.32" stroke-width="0.5"/><path d="M343.5,135.0Q351.6,129.3 359.1,122.7" stroke-opacity="0.19" stroke-width="0.8"/><path d="M337.9,112.1Q341.4,109.7 344.8,107.2" stroke-opacity="0.28" stroke-width="0.8"/><path d="M315.6,114.8Q319.8,112.9 323.9,110.7" stroke-opacity="0.27" stroke-width="0.6"/><path d="M307.4,104.3Q312.5,102.2 317.5,99.7" stroke-opacity="0.19" stroke-width="0.5"/><path d="M362.7,81.1Q365.3,78.4 367.9,75.6" stroke-opacity="0.21" stroke-width="0.8"/><path d="M357.0,125.6Q360.8,122.2 364.4,118.7" stroke-opacity="0.17" stroke-width="0.7"/><path d="M315.8,98.6Q324.0,94.4 331.7,89.5" stroke-opacity="0.10" stroke-width="0.8"/><path d="M314.4,90.9Q322.8,86.5 330.8,81.4" stroke-opacity="0.28" stroke-width="0.5"/><path d="M295.4,95.9Q301.6,93.8 307.6,91.2" stroke-opacity="0.18" stroke-width="0.8"/><path d="M321.6,89.5Q330.9,84.0 339.6,77.5" stroke-opacity="0.32" stroke-width="0.8"/><path d="M373.8,148.5Q380.0,141.6 385.6,134.2" stroke-opacity="0.22" stroke-width="0.5"/><path d="M307.0,114.3Q313.5,111.7 319.7,108.7" stroke-opacity="0.28" stroke-width="0.5"/><path d="M331.6,75.1Q335.8,72.0 340.0,68.8" stroke-opacity="0.17" stroke-width="0.8"/><path d="M366.1,124.3Q370.6,119.7 374.9,114.8" stroke-opacity="0.21" stroke-width="0.8"/><path d="M357.4,87.6Q364.5,80.7 371.0,73.3" stroke-opacity="0.28" stroke-width="0.8"/><path d="M356.1,110.8Q359.4,107.8 362.6,104.7" stroke-opacity="0.10" stroke-width="0.5"/><path d="M285.9,86.9Q296.3,83.6 306.3,79.1" stroke-opacity="0.22" stroke-width="0.5"/><path d="M375.2,75.2Q379.2,70.3 383.0,65.2" stroke-opacity="0.22" stroke-width="0.6"/><path d="M377.0,107.5Q382.0,101.4 386.6,95.0" stroke-opacity="0.29" stroke-width="0.6"/><path d="M367.8,129.4Q372.9,124.1 377.6,118.6" stroke-opacity="0.16" stroke-width="0.9"/><path d="M332.3,103.2Q338.9,98.9 345.2,94.1" stroke-opacity="0.14" stroke-width="0.7"/><path d="M317.3,110.6Q321.0,108.7 324.6,106.8" stroke-opacity="0.09" stroke-width="0.8"/><path d="M313.7,69.1Q317.4,67.1 321.0,64.8" stroke-opacity="0.27" stroke-width="0.9"/><path d="M388.0,102.3Q391.8,96.9 395.4,91.3" stroke-opacity="0.22" stroke-width="0.9"/><path d="M366.8,132.7Q369.4,130.0 372.0,127.3" stroke-opacity="0.21" stroke-width="0.8"/><path d="M314.3,97.2Q317.6,95.6 320.7,93.9" stroke-opacity="0.26" stroke-width="0.7"/><path d="M294.3,127.2Q304.6,124.5 314.4,120.6" stroke-opacity="0.19" stroke-width="0.9"/><path d="M349.6,97.8Q354.7,93.5 359.6,88.8" stroke-opacity="0.31" stroke-width="0.8"/><path d="M332.3,114.5Q337.1,111.5 341.7,108.2" stroke-opacity="0.28" stroke-width="0.8"/><path d="M318.0,98.3Q327.4,93.3 336.1,87.3" stroke-opacity="0.21" stroke-width="0.5"/><path d="M296.5,135.3Q306.6,132.7 316.3,128.9" stroke-opacity="0.11" stroke-width="0.8"/><path d="M294.0,93.4Q300.1,91.3 306.1,88.8" stroke-opacity="0.29" stroke-width="0.7"/><path d="M328.5,107.7Q331.5,105.9 334.5,104.0" stroke-opacity="0.20" stroke-width="0.6"/><path d="M299.1,74.8Q308.4,70.7 317.2,65.6" stroke-opacity="0.14" stroke-width="0.8"/><path d="M325.5,101.6Q333.7,96.7 341.5,91.0" stroke-opacity="0.14" stroke-width="0.7"/><path d="M329.6,130.5Q338.6,125.4 346.9,119.3" stroke-opacity="0.17" stroke-width="0.5"/><path d="M290.9,118.9Q299.3,116.8 307.5,113.8" stroke-opacity="0.09" stroke-width="0.9"/><path d="M346.5,82.3Q348.9,80.3 351.3,78.2" stroke-opacity="0.17" stroke-width="0.6"/><path d="M382.2,84.1Q387.3,77.2 392.1,70.1" stroke-opacity="0.19" stroke-width="0.9"/><path d="M333.1,122.0Q342.4,116.2 350.9,109.4" stroke-opacity="0.17" stroke-width="0.7"/><path d="M335.5,125.6Q339.7,122.9 343.7,120.0" stroke-opacity="0.10" stroke-width="0.8"/><path d="M350.4,106.4Q355.5,102.2 360.2,97.7" stroke-opacity="0.29" stroke-width="0.6"/><path d="M315.2,133.1Q320.3,131.0 325.2,128.6" stroke-opacity="0.28" stroke-width="0.5"/><path d="M317.0,94.6Q325.6,90.0 333.7,84.5" stroke-opacity="0.19" stroke-width="0.9"/><path d="M367.5,123.6Q371.5,119.5 375.3,115.1" stroke-opacity="0.21" stroke-width="0.7"/><path d="M334.9,77.8Q339.4,74.5 343.7,71.0" stroke-opacity="0.20" stroke-width="0.6"/><path d="M343.0,93.7Q350.6,87.7 357.6,81.1" stroke-opacity="0.13" stroke-width="0.8"/><path d="M363.0,146.1Q369.8,139.7 375.9,132.8" stroke-opacity="0.20" stroke-width="0.6"/><path d="M287.4,112.5Q296.9,110.2 306.0,106.8" stroke-opacity="0.23" stroke-width="0.7"/><path d="M382.2,128.3Q387.2,121.8 391.9,114.9" stroke-opacity="0.29" stroke-width="0.7"/><path d="M384.2,74.2Q389.5,66.8 394.4,59.2" stroke-opacity="0.14" stroke-width="0.9"/><path d="M378.8,136.3Q384.9,128.8 390.4,120.9" stroke-opacity="0.10" stroke-width="0.5"/><path d="M324.4,74.0Q333.4,68.1 341.8,61.3" stroke-opacity="0.10" stroke-width="0.6"/><path d="M312.1,111.3Q320.8,107.4 329.1,102.6" stroke-opacity="0.10" stroke-width="0.7"/><path d="M297.9,114.9Q304.9,112.7 311.6,109.9" stroke-opacity="0.11" stroke-width="0.8"/><path d="M301.4,82.1Q309.8,78.3 317.9,73.8" stroke-opacity="0.11" stroke-width="0.7"/><path d="M360.5,81.5Q367.4,74.4 373.8,66.8" stroke-opacity="0.15" stroke-width="0.7"/><path d="M322.5,146.5Q331.7,142.2 340.4,136.8" stroke-opacity="0.17" stroke-width="0.6"/><path d="M381.2,141.3Q387.1,133.7 392.5,125.8" stroke-opacity="0.30" stroke-width="0.9"/><path d="M310.2,141.2Q317.3,138.7 324.2,135.5" stroke-opacity="0.20" stroke-width="0.6"/><path d="M373.6,121.6Q375.6,119.3 377.6,116.9" stroke-opacity="0.30" stroke-width="0.7"/><path d="M311.1,115.3Q317.0,112.8 322.8,109.8" stroke-opacity="0.16" stroke-width="0.7"/><path d="M387.1,86.9Q391.2,81.0 395.1,74.9" stroke-opacity="0.19" stroke-width="0.5"/><path d="M341.6,114.5Q348.5,109.5 355.0,104.0" stroke-opacity="0.22" stroke-width="0.6"/><path d="M293.4,129.5Q303.0,127.2 312.2,123.7" stroke-opacity="0.15" stroke-width="0.7"/><path d="M366.7,109.8Q373.0,103.2 378.7,96.1" stroke-opacity="0.30" stroke-width="0.7"/><path d="M389.0,90.6Q391.5,87.0 393.9,83.3" stroke-opacity="0.14" stroke-width="0.5"/><path d="M345.5,134.1Q354.3,127.6 362.3,120.2" stroke-opacity="0.19" stroke-width="0.8"/><path d="M358.7,103.9Q362.7,100.1 366.5,96.2" stroke-opacity="0.18" stroke-width="0.8"/><path d="M318.4,86.2Q322.4,84.0 326.4,81.5" stroke-opacity="0.16" stroke-width="0.6"/><path d="M311.6,71.9Q319.8,67.4 327.5,62.1" stroke-opacity="0.16" stroke-width="0.6"/><path d="M315.9,76.7Q320.8,74.0 325.5,70.9" stroke-opacity="0.19" stroke-width="0.9"/><path d="M320.3,101.0Q325.7,98.0 330.9,94.7" stroke-opacity="0.19" stroke-width="0.7"/><path d="M356.9,94.1Q361.4,89.9 365.7,85.5" stroke-opacity="0.24" stroke-width="0.8"/><path d="M312.7,73.6Q322.2,68.3 331.1,62.0" stroke-opacity="0.22" stroke-width="0.7"/><path d="M325.7,127.2Q331.1,124.3 336.2,121.1" stroke-opacity="0.31" stroke-width="0.6"/><path d="M386.5,73.7Q390.0,68.7 393.3,63.6" stroke-opacity="0.19" stroke-width="0.7"/><path d="M304.7,123.0Q308.7,121.6 312.6,120.0" stroke-opacity="0.11" stroke-width="0.9"/><path d="M332.5,136.4Q337.6,133.5 342.5,130.2" stroke-opacity="0.29" stroke-width="0.5"/><path d="M382.6,147.2Q387.6,140.7 392.3,133.9" stroke-opacity="0.13" stroke-width="0.9"/><path d="M313.9,113.1Q320.1,110.3 326.0,107.0" stroke-opacity="0.31" stroke-width="0.8"/><path d="M372.6,101.5Q376.0,97.6 379.2,93.6" stroke-opacity="0.16" stroke-width="0.7"/><path d="M364.5,131.2Q371.6,124.1 378.0,116.5" stroke-opacity="0.22" stroke-width="0.7"/><path d="M329.0,93.7Q336.5,88.8 343.6,83.3" stroke-opacity="0.10" stroke-width="0.8"/><path d="M303.6,73.0Q310.0,69.9 316.1,66.4" stroke-opacity="0.26" stroke-width="0.7"/><path d="M380.6,136.5Q386.0,129.7 391.0,122.5" stroke-opacity="0.25" stroke-width="0.8"/><path d="M326.4,128.0Q329.3,126.5 332.1,124.9" stroke-opacity="0.32" stroke-width="0.6"/><path d="M329.7,97.0Q334.2,94.1 338.6,91.0" stroke-opacity="0.10" stroke-width="0.9"/><path d="M385.1,143.8Q389.8,137.5 394.1,130.9" stroke-opacity="0.12" stroke-width="0.8"/><path d="M383.7,94.5Q385.9,91.6 388.0,88.6" stroke-opacity="0.25" stroke-width="0.8"/><path d="M328.6,114.4Q336.0,110.0 342.9,105.0" stroke-opacity="0.21" stroke-width="0.9"/><path d="M311.4,84.5Q319.3,80.5 326.7,75.8" stroke-opacity="0.29" stroke-width="0.9"/><path d="M302.0,96.5Q306.5,94.7 310.9,92.7" stroke-opacity="0.21" stroke-width="0.6"/><path d="M358.1,109.0Q364.7,102.8 370.8,96.2" stroke-opacity="0.23" stroke-width="0.9"/><path d="M321.0,124.9Q327.8,121.5 334.3,117.6" stroke-opacity="0.20" stroke-width="0.6"/><path d="M324.6,132.2Q332.1,128.4 339.2,123.9" stroke-opacity="0.24" stroke-width="0.8"/><path d="M326.0,130.9Q333.9,126.7 341.3,121.8" stroke-opacity="0.29" stroke-width="0.8"/><path d="M350.0,125.7Q352.8,123.5 355.5,121.2" stroke-opacity="0.31" stroke-width="0.7"/><path d="M302.0,73.7Q309.6,70.1 316.9,65.9" stroke-opacity="0.13" stroke-width="0.8"/><path d="M321.0,99.6Q326.2,96.7 331.1,93.6" stroke-opacity="0.26" stroke-width="0.9"/><path d="M384.9,74.9Q387.2,71.7 389.5,68.5" stroke-opacity="0.22" stroke-width="0.8"/><path d="M371.1,123.8Q377.7,116.5 383.7,108.7" stroke-opacity="0.22" stroke-width="0.7"/><path d="M289.7,130.5Q294.1,129.6 298.4,128.5" stroke-opacity="0.16" stroke-width="0.7"/><path d="M312.3,143.4Q322.5,139.5 332.1,134.4" stroke-opacity="0.11" stroke-width="0.8"/><path d="M324.6,96.6Q329.7,93.6 334.6,90.3" stroke-opacity="0.29" stroke-width="0.6"/><path d="M382.9,124.6Q385.7,120.9 388.5,117.0" stroke-opacity="0.08" stroke-width="0.8"/><path d="M350.5,81.9Q353.4,79.3 356.2,76.7" stroke-opacity="0.31" stroke-width="0.7"/><path d="M368.6,71.4Q372.0,67.5 375.3,63.6" stroke-opacity="0.18" stroke-width="0.6"/><path d="M350.4,142.9Q356.1,138.5 361.4,133.8" stroke-opacity="0.30" stroke-width="0.7"/><path d="M369.4,87.1Q373.6,82.4 377.6,77.5" stroke-opacity="0.21" stroke-width="0.5"/><path d="M366.9,89.9Q374.1,81.9 380.7,73.5" stroke-opacity="0.12" stroke-width="0.7"/><path d="M385.9,116.3Q389.8,110.8 393.5,105.2" stroke-opacity="0.28" stroke-width="0.7"/><path d="M345.8,131.4Q349.2,129.0 352.4,126.4" stroke-opacity="0.13" stroke-width="0.5"/><path d="M352.1,134.8Q358.2,129.8 364.0,124.4" stroke-opacity="0.21" stroke-width="0.8"/><path d="M287.3,73.1Q292.1,71.4 296.7,69.5" stroke-opacity="0.14" stroke-width="0.5"/><path d="M391.1,124.4Q395.9,117.2 400.4,109.7" stroke-opacity="0.26" stroke-width="0.5"/><path d="M293.7,74.0Q303.4,70.0 312.6,65.0" stroke-opacity="0.28" stroke-width="0.8"/><path d="M339.4,144.6Q346.6,140.1 353.2,134.9" stroke-opacity="0.09" stroke-width="0.7"/><path d="M323.6,89.0Q332.9,83.3 341.5,76.7" stroke-opacity="0.19" stroke-width="0.8"/><path d="M298.5,87.3Q301.6,86.1 304.6,84.8" stroke-opacity="0.25" stroke-width="0.8"/><path d="M323.9,137.6Q330.1,134.6 336.0,131.0" stroke-opacity="0.23" stroke-width="0.6"/><path d="M289.8,135.9Q300.2,133.8 310.2,130.4" stroke-opacity="0.12" stroke-width="0.6"/><path d="M328.4,128.0Q334.5,124.6 340.3,120.8" stroke-opacity="0.31" stroke-width="0.8"/><path d="M333.3,73.4Q340.6,68.1 347.4,62.2" stroke-opacity="0.21" stroke-width="0.9"/><path d="M304.0,86.9Q311.2,83.7 318.1,79.9" stroke-opacity="0.19" stroke-width="0.8"/><path d="M304.5,97.4Q312.6,94.0 320.4,89.8" stroke-opacity="0.29" stroke-width="0.7"/><path d="M358.7,81.0Q363.7,76.1 368.4,70.9" stroke-opacity="0.09" stroke-width="0.6"/><path d="M373.3,101.5Q376.1,98.2 378.8,94.8" stroke-opacity="0.18" stroke-width="0.7"/><path d="M373.9,86.4Q378.2,81.3 382.3,75.9" stroke-opacity="0.30" stroke-width="0.7"/><path d="M341.4,104.1Q345.0,101.5 348.4,98.7" stroke-opacity="0.10" stroke-width="0.8"/><path d="M303.2,141.0Q313.1,138.1 322.5,133.9" stroke-opacity="0.21" stroke-width="0.6"/><path d="M368.9,146.1Q376.1,138.6 382.6,130.4" stroke-opacity="0.21" stroke-width="0.7"/><path d="M325.1,77.1Q328.7,74.8 332.2,72.3" stroke-opacity="0.09" stroke-width="0.7"/><path d="M299.7,132.4Q306.5,130.4 313.1,127.9" stroke-opacity="0.13" stroke-width="0.7"/><path d="M328.0,117.7Q335.4,113.4 342.4,108.5" stroke-opacity="0.11" stroke-width="0.7"/><path d="M355.1,142.9Q362.4,136.8 369.1,130.0" stroke-opacity="0.08" stroke-width="0.7"/><path d="M294.3,112.4Q304.6,109.3 314.4,104.9" stroke-opacity="0.13" stroke-width="0.7"/><path d="M318.9,100.4Q322.4,98.5 325.8,96.6" stroke-opacity="0.16" stroke-width="0.6"/><path d="M295.5,72.7Q300.3,70.8 304.9,68.5" stroke-opacity="0.25" stroke-width="0.5"/><path d="M372.6,107.1Q378.7,100.1 384.3,92.7" stroke-opacity="0.13" stroke-width="0.8"/><path d="M283.1,83.6Q293.2,80.6 302.8,76.4" stroke-opacity="0.20" stroke-width="0.7"/><path d="M317.6,72.9Q320.6,71.2 323.5,69.3" stroke-opacity="0.08" stroke-width="0.8"/><path d="M339.7,98.3Q343.9,95.3 347.9,92.0" stroke-opacity="0.32" stroke-width="0.5"/><path d="M306.0,99.6Q313.7,96.3 321.1,92.3" stroke-opacity="0.25" stroke-width="0.9"/><path d="M344.9,98.7Q351.6,93.3 357.8,87.5" stroke-opacity="0.17" stroke-width="0.7"/><path d="M368.4,137.3Q373.9,131.6 378.9,125.6" stroke-opacity="0.11" stroke-width="0.8"/><path d="M370.9,133.0Q375.3,128.2 379.5,123.2" stroke-opacity="0.21" stroke-width="0.6"/><path d="M286.0,104.6Q292.1,103.0 298.1,101.0" stroke-opacity="0.14" stroke-width="0.8"/><path d="M311.1,117.4Q314.3,116.1 317.3,114.6" stroke-opacity="0.21" stroke-width="0.6"/><path d="M387.6,97.9Q391.5,92.4 395.1,86.8" stroke-opacity="0.11" stroke-width="0.8"/><path d="M324.5,117.0Q332.6,112.6 340.3,107.3" stroke-opacity="0.18" stroke-width="0.5"/><path d="M372.8,90.4Q379.8,82.0 386.2,73.2" stroke-opacity="0.12" stroke-width="0.5"/><path d="M353.2,76.6Q358.3,71.8 363.1,66.7" stroke-opacity="0.29" stroke-width="0.9"/><path d="M302.7,137.1Q312.9,134.0 322.6,129.5" stroke-opacity="0.19" stroke-width="0.7"/><path d="M303.3,90.6Q310.5,87.5 317.4,83.8" stroke-opacity="0.18" stroke-width="0.9"/><path d="M328.1,81.5Q332.5,78.6 336.8,75.5" stroke-opacity="0.31" stroke-width="0.5"/><path d="M308.4,120.7Q317.3,117.1 325.8,112.7" stroke-opacity="0.14" stroke-width="0.6"/><path d="M332.8,94.7Q338.0,91.2 343.0,87.4" stroke-opacity="0.15" stroke-width="0.7"/><path d="M334.1,80.3Q338.8,76.8 343.4,73.1" stroke-opacity="0.22" stroke-width="0.7"/><path d="M334.1,122.7Q343.0,117.1 351.2,110.6" stroke-opacity="0.26" stroke-width="0.6"/><path d="M351.9,116.6Q355.1,113.9 358.2,111.1" stroke-opacity="0.26" stroke-width="0.9"/><path d="M378.1,129.9Q383.5,123.3 388.5,116.3" stroke-opacity="0.22" stroke-width="0.6"/><path d="M357.7,71.9Q360.6,69.0 363.4,66.1" stroke-opacity="0.10" stroke-width="0.6"/><path d="M305.5,132.3Q312.5,129.9 319.4,126.9" stroke-opacity="0.14" stroke-width="0.7"/><path d="M373.1,140.5Q379.2,133.7 384.7,126.5" stroke-opacity="0.19" stroke-width="0.6"/><path d="M381.1,146.5Q386.6,139.4 391.7,132.0" stroke-opacity="0.19" stroke-width="0.8"/><path d="M323.8,82.0Q327.6,79.7 331.3,77.2" stroke-opacity="0.19" stroke-width="0.9"/><path d="M343.2,133.3Q351.1,127.7 358.5,121.3" stroke-opacity="0.32" stroke-width="0.9"/><path d="M304.0,91.3Q307.8,89.7 311.5,87.9" stroke-opacity="0.23" stroke-width="0.9"/><path d="M332.1,145.1Q336.6,142.6 341.0,139.8" stroke-opacity="0.24" stroke-width="0.7"/><path d="M339.6,140.3Q347.2,135.3 354.4,129.6" stroke-opacity="0.10" stroke-width="0.8"/><path d="M381.1,129.9Q386.5,123.0 391.5,115.7" stroke-opacity="0.30" stroke-width="0.7"/><path d="M379.1,77.1Q381.4,74.1 383.7,71.1" stroke-opacity="0.13" stroke-width="0.6"/><path d="M379.8,131.6Q382.0,128.8 384.2,126.0" stroke-opacity="0.31" stroke-width="0.8"/><path d="M319.1,134.4Q325.9,131.3 332.4,127.6" stroke-opacity="0.13" stroke-width="0.6"/><path d="M337.2,97.7Q344.6,92.3 351.6,86.4" stroke-opacity="0.23" stroke-width="0.6"/><path d="M392.3,92.1Q395.5,87.1 398.6,82.1" stroke-opacity="0.20" stroke-width="0.8"/><path d="M368.0,125.4Q373.1,120.1 377.8,114.5" stroke-opacity="0.17" stroke-width="0.6"/></g><g fill="none" stroke="#55606c" stroke-linecap="round" filter="url(#soft)"><path d="M381.2,125.5Q386.3,118.9 391.0,112.0" stroke-opacity="0.21" stroke-width="0.6"/><path d="M351.1,141.5Q358.2,135.8 364.9,129.6" stroke-opacity="0.16" stroke-width="0.6"/><path d="M331.5,144.3Q334.8,142.6 338.0,140.6" stroke-opacity="0.12" stroke-width="0.9"/><path d="M334.5,85.1Q338.8,82.1 342.9,78.9" stroke-opacity="0.21" stroke-width="0.6"/><path d="M329.1,118.9Q336.6,114.5 343.6,109.5" stroke-opacity="0.15" stroke-width="0.5"/><path d="M348.9,71.2Q351.6,68.7 354.3,66.2" stroke-opacity="0.11" stroke-width="0.8"/><path d="M317.7,120.9Q321.5,119.2 325.2,117.3" stroke-opacity="0.10" stroke-width="0.5"/><path d="M362.1,135.3Q365.4,132.2 368.6,128.9" stroke-opacity="0.11" stroke-width="0.5"/><path d="M356.2,91.9Q359.1,89.2 361.9,86.4" stroke-opacity="0.17" stroke-width="0.7"/><path d="M332.5,82.2Q338.6,77.9 344.4,73.2" stroke-opacity="0.16" stroke-width="0.7"/><path d="M300.5,140.2Q309.2,137.8 317.6,134.4" stroke-opacity="0.18" stroke-width="0.9"/><path d="M349.5,95.0Q352.4,92.6 355.2,90.0" stroke-opacity="0.17" stroke-width="0.7"/><path d="M329.7,146.8Q337.5,142.6 344.9,137.7" stroke-opacity="0.10" stroke-width="0.9"/><path d="M287.1,117.4Q292.2,116.2 297.2,114.8" stroke-opacity="0.18" stroke-width="0.9"/><path d="M344.4,126.7Q347.2,124.8 349.8,122.7" stroke-opacity="0.17" stroke-width="0.5"/><path d="M336.5,93.7Q339.4,91.7 342.2,89.6" stroke-opacity="0.18" stroke-width="0.5"/><path d="M312.1,76.4Q318.8,72.7 325.3,68.6" stroke-opacity="0.12" stroke-width="0.5"/><path d="M288.6,85.1Q294.9,83.0 300.9,80.5" stroke-opacity="0.08" stroke-width="0.5"/><path d="M358.5,109.3Q361.3,106.6 364.1,103.8" stroke-opacity="0.12" stroke-width="0.6"/><path d="M316.6,98.0Q320.6,95.9 324.6,93.7" stroke-opacity="0.11" stroke-width="0.6"/><path d="M315.1,112.9Q323.5,108.9 331.3,104.2" stroke-opacity="0.17" stroke-width="0.7"/><path d="M285.3,82.9Q292.4,80.7 299.3,77.9" stroke-opacity="0.14" stroke-width="0.8"/><path d="M383.2,93.3Q386.6,88.9 389.7,84.3" stroke-opacity="0.12" stroke-width="0.8"/><path d="M293.7,90.6Q302.3,87.5 310.6,83.6" stroke-opacity="0.13" stroke-width="0.9"/><path d="M327.7,133.5Q333.2,130.5 338.5,127.2" stroke-opacity="0.09" stroke-width="0.7"/><path d="M306.5,139.3Q314.0,136.9 321.3,133.7" stroke-opacity="0.15" stroke-width="0.9"/><path d="M342.4,145.0Q349.0,140.6 355.2,135.5" stroke-opacity="0.11" stroke-width="0.6"/><path d="M373.8,81.4Q380.1,73.8 385.9,65.8" stroke-opacity="0.09" stroke-width="0.8"/><path d="M350.9,102.0Q356.4,97.4 361.5,92.3" stroke-opacity="0.16" stroke-width="0.6"/><path d="M314.9,73.7Q321.5,70.0 327.8,65.7" stroke-opacity="0.20" stroke-width="0.7"/><path d="M378.3,100.3Q381.3,96.6 384.1,92.8" stroke-opacity="0.19" stroke-width="0.9"/><path d="M296.5,134.4Q301.6,133.2 306.5,131.6" stroke-opacity="0.19" stroke-width="0.6"/><path d="M392.6,95.7Q395.0,91.9 397.3,88.2" stroke-opacity="0.09" stroke-width="0.6"/><path d="M298.5,130.0Q301.5,129.2 304.5,128.2" stroke-opacity="0.10" stroke-width="0.6"/><path d="M303.8,126.7Q306.7,125.7 309.6,124.7" stroke-opacity="0.18" stroke-width="0.6"/><path d="M301.1,86.4Q307.3,83.8 313.3,80.8" stroke-opacity="0.11" stroke-width="0.7"/><path d="M325.6,111.3Q332.5,107.4 339.0,102.9" stroke-opacity="0.12" stroke-width="0.7"/><path d="M360.5,94.8Q366.4,88.9 372.0,82.7" stroke-opacity="0.09" stroke-width="0.7"/><path d="M322.3,79.8Q328.7,75.8 334.9,71.3" stroke-opacity="0.20" stroke-width="0.7"/><path d="M319.8,140.0Q328.9,135.9 337.4,130.8" stroke-opacity="0.17" stroke-width="0.7"/><path d="M352.6,125.2Q358.6,120.2 364.2,114.8" stroke-opacity="0.16" stroke-width="0.8"/><path d="M365.0,120.5Q369.7,115.8 374.1,110.7" stroke-opacity="0.13" stroke-width="0.6"/><path d="M339.8,93.5Q344.9,89.7 349.7,85.7" stroke-opacity="0.11" stroke-width="0.9"/><path d="M298.7,135.7Q305.4,133.9 312.0,131.5" stroke-opacity="0.21" stroke-width="0.9"/><path d="M300.6,91.2Q309.9,87.4 318.7,82.6" stroke-opacity="0.17" stroke-width="0.5"/><path d="M315.0,75.9Q319.5,73.4 323.8,70.7" stroke-opacity="0.09" stroke-width="0.5"/><path d="M289.0,104.7Q296.7,102.6 304.1,99.7" stroke-opacity="0.15" stroke-width="0.8"/><path d="M354.3,81.9Q360.1,76.5 365.5,70.7" stroke-opacity="0.15" stroke-width="0.7"/><path d="M387.6,107.5Q392.1,101.1 396.2,94.5" stroke-opacity="0.19" stroke-width="0.7"/><path d="M303.4,82.7Q308.0,80.7 312.4,78.4" stroke-opacity="0.11" stroke-width="0.7"/><path d="M291.0,127.3Q299.1,125.4 307.1,122.7" stroke-opacity="0.17" stroke-width="0.5"/><path d="M306.0,138.3Q314.7,135.4 323.0,131.7" stroke-opacity="0.18" stroke-width="0.8"/><path d="M308.1,90.9Q313.6,88.3 318.9,85.4" stroke-opacity="0.15" stroke-width="0.6"/><path d="M313.5,130.2Q317.5,128.6 321.4,126.8" stroke-opacity="0.16" stroke-width="0.8"/><path d="M302.5,94.0Q307.7,91.9 312.8,89.4" stroke-opacity="0.12" stroke-width="0.9"/><path d="M381.3,78.7Q383.4,75.9 385.4,73.1" stroke-opacity="0.16" stroke-width="0.7"/><path d="M286.9,134.4Q295.9,132.8 304.6,130.2" stroke-opacity="0.16" stroke-width="0.5"/><path d="M304.6,133.0Q312.0,130.6 319.2,127.5" stroke-opacity="0.14" stroke-width="0.9"/><path d="M288.0,120.8Q296.6,118.9 304.9,116.0" stroke-opacity="0.20" stroke-width="0.5"/><path d="M360.0,114.6Q365.3,109.5 370.4,104.1" stroke-opacity="0.10" stroke-width="0.9"/><path d="M388.9,80.7Q392.7,75.1 396.4,69.3" stroke-opacity="0.16" stroke-width="0.7"/><path d="M320.0,88.5Q327.0,84.4 333.7,79.8" stroke-opacity="0.15" stroke-width="0.7"/><path d="M337.4,93.6Q344.9,88.2 351.9,82.1" stroke-opacity="0.19" stroke-width="0.6"/><path d="M317.4,110.5Q324.0,107.2 330.4,103.4" stroke-opacity="0.21" stroke-width="0.9"/><path d="M295.6,133.4Q298.6,132.7 301.6,131.9" stroke-opacity="0.16" stroke-width="0.8"/><path d="M307.4,85.1Q310.5,83.6 313.7,82.0" stroke-opacity="0.14" stroke-width="0.8"/><path d="M286.5,125.4Q292.1,124.3 297.6,122.8" stroke-opacity="0.21" stroke-width="0.7"/><path d="M332.8,93.3Q340.2,88.2 347.1,82.6" stroke-opacity="0.15" stroke-width="0.8"/><path d="M357.0,132.4Q360.8,129.1 364.4,125.6" stroke-opacity="0.09" stroke-width="0.6"/><path d="M354.3,77.4Q356.7,75.2 359.0,72.9" stroke-opacity="0.13" stroke-width="0.8"/><path d="M307.3,90.2Q310.8,88.6 314.2,86.8" stroke-opacity="0.22" stroke-width="0.9"/><path d="M391.5,119.7Q394.7,115.0 397.6,110.2" stroke-opacity="0.12" stroke-width="0.6"/><path d="M370.6,110.8Q373.2,107.9 375.7,104.9" stroke-opacity="0.20" stroke-width="0.8"/><path d="M287.0,75.4Q293.2,73.2 299.2,70.7" stroke-opacity="0.15" stroke-width="0.8"/><path d="M308.7,143.5Q313.9,141.8 318.9,139.8" stroke-opacity="0.10" stroke-width="0.9"/><path d="M368.4,130.1Q371.3,127.1 374.1,124.0" stroke-opacity="0.22" stroke-width="0.6"/><path d="M337.3,135.2Q340.5,133.2 343.7,131.0" stroke-opacity="0.08" stroke-width="0.7"/><path d="M336.8,144.4Q345.1,139.2 352.9,133.2" stroke-opacity="0.13" stroke-width="0.8"/><path d="M288.5,122.7Q294.5,121.4 300.3,119.6" stroke-opacity="0.12" stroke-width="0.6"/><path d="M336.7,103.9Q340.9,101.0 345.0,97.8" stroke-opacity="0.08" stroke-width="0.5"/><path d="M288.3,132.5Q294.1,131.4 299.9,129.9" stroke-opacity="0.14" stroke-width="0.9"/><path d="M291.9,131.2Q300.9,129.2 309.6,126.1" stroke-opacity="0.14" stroke-width="0.8"/><path d="M291.6,97.3Q294.6,96.4 297.5,95.3" stroke-opacity="0.18" stroke-width="0.9"/><path d="M383.3,113.6Q388.5,106.6 393.3,99.3" stroke-opacity="0.17" stroke-width="0.5"/><path d="M319.6,77.0Q324.8,73.9 329.8,70.5" stroke-opacity="0.13" stroke-width="0.5"/><path d="M286.7,77.4Q293.3,75.1 299.7,72.4" stroke-opacity="0.20" stroke-width="0.8"/><path d="M380.4,87.5Q383.3,83.7 386.1,79.9" stroke-opacity="0.13" stroke-width="0.5"/><path d="M343.7,77.2Q346.4,75.0 349.0,72.8" stroke-opacity="0.20" stroke-width="0.6"/><path d="M336.1,103.5Q338.8,101.6 341.5,99.7" stroke-opacity="0.09" stroke-width="0.8"/><path d="M383.1,129.3Q386.9,124.3 390.4,119.2" stroke-opacity="0.11" stroke-width="0.6"/><path d="M340.6,87.3Q346.4,82.8 351.9,77.9" stroke-opacity="0.22" stroke-width="0.9"/><path d="M314.6,85.9Q317.5,84.4 320.4,82.8" stroke-opacity="0.21" stroke-width="0.9"/><path d="M373.9,127.4Q378.6,122.0 383.0,116.3" stroke-opacity="0.21" stroke-width="0.6"/><path d="M337.1,140.7Q343.3,136.9 349.1,132.6" stroke-opacity="0.13" stroke-width="0.6"/><path d="M314.9,135.2Q321.5,132.5 327.9,129.2" stroke-opacity="0.18" stroke-width="0.8"/><path d="M365.7,109.3Q368.1,106.8 370.4,104.3" stroke-opacity="0.19" stroke-width="0.6"/><path d="M304.9,71.6Q310.7,68.7 316.4,65.4" stroke-opacity="0.17" stroke-width="0.5"/><path d="M296.8,103.5Q303.1,101.4 309.2,98.8" stroke-opacity="0.11" stroke-width="0.9"/><path d="M330.2,90.1Q337.4,85.3 344.1,80.0" stroke-opacity="0.19" stroke-width="0.6"/><path d="M325.3,100.6Q328.3,98.9 331.2,97.1" stroke-opacity="0.21" stroke-width="0.6"/><path d="M308.8,123.9Q314.6,121.7 320.3,119.0" stroke-opacity="0.17" stroke-width="0.6"/><path d="M353.2,146.3Q360.8,140.1 367.8,133.2" stroke-opacity="0.08" stroke-width="0.6"/><path d="M308.6,113.4Q314.7,110.9 320.6,108.0" stroke-opacity="0.15" stroke-width="0.6"/><path d="M299.1,103.2Q303.4,101.6 307.6,99.9" stroke-opacity="0.17" stroke-width="0.9"/><path d="M296.8,137.5Q306.1,135.2 315.0,131.8" stroke-opacity="0.13" stroke-width="0.5"/><path d="M320.8,90.0Q327.8,85.9 334.4,81.4" stroke-opacity="0.22" stroke-width="0.9"/><path d="M309.3,86.2Q314.7,83.6 319.8,80.7" stroke-opacity="0.12" stroke-width="0.8"/><path d="M352.7,70.1Q356.1,66.9 359.4,63.6" stroke-opacity="0.14" stroke-width="0.7"/><path d="M366.8,74.9Q369.2,72.2 371.6,69.5" stroke-opacity="0.14" stroke-width="0.6"/><path d="M297.5,142.8Q305.1,141.0 312.5,138.4" stroke-opacity="0.09" stroke-width="0.8"/><path d="M300.0,139.6Q304.3,138.5 308.6,137.1" stroke-opacity="0.13" stroke-width="0.5"/><path d="M308.8,80.3Q315.9,76.7 322.8,72.6" stroke-opacity="0.21" stroke-width="0.5"/><path d="M311.8,132.8Q318.3,130.3 324.5,127.3" stroke-opacity="0.20" stroke-width="0.6"/><path d="M293.8,102.0Q299.4,100.2 304.9,98.0" stroke-opacity="0.10" stroke-width="0.8"/><path d="M363.1,115.3Q368.6,109.8 373.8,103.9" stroke-opacity="0.18" stroke-width="0.8"/><path d="M359.1,96.7Q365.6,90.3 371.7,83.4" stroke-opacity="0.20" stroke-width="0.8"/><path d="M382.4,73.8Q387.8,66.5 392.8,58.9" stroke-opacity="0.20" stroke-width="0.6"/><path d="M300.9,129.4Q309.6,126.7 317.9,123.1" stroke-opacity="0.14" stroke-width="0.5"/><path d="M300.8,92.2Q307.8,89.3 314.7,85.9" stroke-opacity="0.19" stroke-width="0.5"/><path d="M293.8,116.4Q299.8,114.7 305.6,112.7" stroke-opacity="0.15" stroke-width="0.9"/><path d="M287.9,117.8Q293.5,116.6 298.9,114.9" stroke-opacity="0.16" stroke-width="0.6"/><path d="M373.2,101.9Q377.3,97.1 381.3,92.0" stroke-opacity="0.17" stroke-width="0.7"/><path d="M302.4,107.4Q306.1,106.0 309.7,104.5" stroke-opacity="0.15" stroke-width="0.8"/><path d="M379.6,111.1Q383.8,105.8 387.7,100.3" stroke-opacity="0.16" stroke-width="0.7"/><path d="M314.9,97.2Q318.0,95.6 321.0,93.9" stroke-opacity="0.09" stroke-width="0.8"/><path d="M296.5,73.2Q305.5,69.3 314.1,64.5" stroke-opacity="0.10" stroke-width="0.5"/><path d="M298.8,105.1Q305.3,102.8 311.6,100.0" stroke-opacity="0.12" stroke-width="0.8"/><path d="M369.9,105.1Q372.8,101.9 375.6,98.6" stroke-opacity="0.10" stroke-width="0.9"/><path d="M306.9,138.1Q312.1,136.4 317.2,134.3" stroke-opacity="0.22" stroke-width="0.6"/><path d="M363.6,73.7Q367.2,69.9 370.7,65.9" stroke-opacity="0.19" stroke-width="0.9"/><path d="M378.4,144.8Q384.5,137.4 390.1,129.5" stroke-opacity="0.18" stroke-width="0.7"/><path d="M302.9,117.9Q310.8,115.1 318.5,111.5" stroke-opacity="0.16" stroke-width="0.6"/><path d="M351.3,118.7Q355.9,114.9 360.3,110.8" stroke-opacity="0.11" stroke-width="0.8"/><path d="M302.0,72.9Q309.0,69.6 315.8,65.7" stroke-opacity="0.16" stroke-width="0.9"/><path d="M315.6,97.2Q323.6,93.1 331.1,88.3" stroke-opacity="0.16" stroke-width="0.8"/><path d="M373.6,119.0Q376.7,115.5 379.7,111.8" stroke-opacity="0.15" stroke-width="0.9"/><path d="M284.0,118.9Q293.2,117.1 302.1,114.3" stroke-opacity="0.18" stroke-width="0.7"/><path d="M354.4,108.4Q358.6,104.8 362.5,100.9" stroke-opacity="0.22" stroke-width="0.9"/><path d="M308.6,76.2Q316.2,72.2 323.5,67.7" stroke-opacity="0.15" stroke-width="0.7"/><path d="M304.4,143.9Q313.4,141.2 322.1,137.4" stroke-opacity="0.17" stroke-width="0.9"/><path d="M297.6,113.6Q301.2,112.5 304.7,111.2" stroke-opacity="0.20" stroke-width="0.7"/><path d="M367.6,101.9Q370.3,99.0 372.9,95.9" stroke-opacity="0.12" stroke-width="0.7"/><path d="M358.4,143.8Q364.9,138.1 370.8,131.9" stroke-opacity="0.19" stroke-width="0.8"/><path d="M326.5,112.4Q330.1,110.3 333.7,108.1" stroke-opacity="0.13" stroke-width="0.8"/><path d="M315.9,85.0Q320.6,82.5 325.1,79.7" stroke-opacity="0.08" stroke-width="0.6"/><path d="M301.7,103.9Q306.0,102.4 310.1,100.6" stroke-opacity="0.20" stroke-width="0.7"/><path d="M365.2,94.1Q370.0,89.0 374.5,83.7" stroke-opacity="0.22" stroke-width="0.9"/><path d="M332.1,119.4Q338.4,115.5 344.3,111.2" stroke-opacity="0.10" stroke-width="0.8"/><path d="M318.8,105.3Q322.0,103.7 325.1,101.9" stroke-opacity="0.18" stroke-width="0.8"/><path d="M389.7,90.4Q391.9,87.1 394.1,83.8" stroke-opacity="0.09" stroke-width="0.5"/><path d="M373.4,92.2Q376.0,89.0 378.6,85.9" stroke-opacity="0.15" stroke-width="0.6"/><path d="M381.9,75.8Q387.2,68.7 392.1,61.4" stroke-opacity="0.18" stroke-width="0.9"/><path d="M315.3,119.5Q318.3,118.1 321.3,116.7" stroke-opacity="0.18" stroke-width="0.6"/><path d="M287.1,111.0Q296.1,108.7 304.8,105.5" stroke-opacity="0.18" stroke-width="0.8"/><path d="M359.3,124.8Q365.7,118.8 371.7,112.3" stroke-opacity="0.08" stroke-width="0.6"/><path d="M294.9,74.2Q303.6,70.6 311.9,66.1" stroke-opacity="0.09" stroke-width="0.9"/><path d="M317.0,108.0Q321.7,105.7 326.2,103.2" stroke-opacity="0.17" stroke-width="0.7"/><path d="M307.3,75.3Q315.3,71.1 323.0,66.4" stroke-opacity="0.08" stroke-width="0.8"/><path d="M376.6,70.8Q378.7,68.1 380.8,65.5" stroke-opacity="0.13" stroke-width="0.8"/><path d="M303.1,79.5Q310.2,76.2 317.0,72.4" stroke-opacity="0.20" stroke-width="0.6"/></g><circle cx="348.1" cy="88.3" r="0.72" fill="url(#blob)" opacity="0.66"/><circle cx="313.8" cy="85.8" r="0.94" fill="url(#blob)" opacity="0.66"/><circle cx="394.8" cy="101.5" r="1.3" fill="url(#blob)" opacity="0.8"/><circle cx="317.2" cy="71.6" r="0.8" fill="url(#blob)" opacity="0.74"/><circle cx="354.4" cy="136.6" r="1.28" fill="url(#blob)" opacity="0.66"/><circle cx="347.7" cy="71.2" r="0.71" fill="url(#blob)" opacity="0.72"/><circle cx="361.9" cy="124.8" r="1.04" fill="url(#blob)" opacity="0.67"/><circle cx="358.4" cy="134.9" r="0.77" fill="url(#blob)" opacity="0.6"/><circle cx="324.2" cy="129.9" r="1.23" fill="url(#blob)" opacity="0.5"/></g>
<clipPath id="c01"><rect x="401" y="66" width="104" height="77"/></clipPath><g clip-path="url(#c01)"><rect x="401" y="66" width="104" height="77" fill="#757885"/><g fill="none" stroke="#c0c3cc" stroke-linecap="round" filter="url(#soft)"><path d="M451.3,97.7Q451.7,86.2 456.4,75.8" stroke-opacity="0.13" stroke-width="0.6"/><path d="M495.6,77.8Q501.7,72.3 508.7,68.0" stroke-opacity="0.22" stroke-width="0.5"/><path d="M416.2,144.3Q415.4,129.3 420.8,115.3" stroke-opacity="0.14" stroke-width="0.6"/><path d="M491.3,90.8Q502.5,89.4 512.2,95.7" stroke-opacity="0.20" stroke-width="0.7"/><path d="M484.8,143.4Q496.9,141.6 506.3,133.8" stroke-opacity="0.24" stroke-width="0.7"/><path d="M464.9,105.7Q468.3,99.3 470.1,92.2" stroke-opacity="0.13" stroke-width="0.8"/><path d="M473.3,88.2Q473.5,74.1 475.0,60.1" stroke-opacity="0.13" stroke-width="0.7"/><path d="M446.6,93.5Q448.5,86.6 451.8,80.3" stroke-opacity="0.20" stroke-width="0.6"/><path d="M454.2,125.3Q465.3,117.0 478.9,119.0" stroke-opacity="0.25" stroke-width="0.7"/><path d="M488.7,99.1Q501.6,103.9 514.1,109.9" stroke-opacity="0.24" stroke-width="0.7"/><path d="M404.3,112.6Q414.5,111.1 422.8,104.9" stroke-opacity="0.10" stroke-width="0.6"/><path d="M450.2,68.8Q454.9,66.7 459.1,63.8" stroke-opacity="0.20" stroke-width="0.6"/><path d="M489.8,133.6Q503.5,133.7 514.2,124.9" stroke-opacity="0.24" stroke-width="0.6"/><path d="M476.4,79.9Q476.5,73.5 476.5,67.2" stroke-opacity="0.16" stroke-width="0.6"/><path d="M391.2,99.8Q404.0,109.1 418.8,105.6" stroke-opacity="0.10" stroke-width="0.6"/><path d="M488.5,102.9Q497.5,106.2 505.8,111.3" stroke-opacity="0.16" stroke-width="0.7"/><path d="M449.8,105.7Q449.5,97.0 450.8,88.5" stroke-opacity="0.24" stroke-width="0.5"/><path d="M446.2,120.2Q447.3,115.3 447.6,110.2" stroke-opacity="0.14" stroke-width="0.6"/><path d="M461.6,113.6Q468.1,106.1 474.4,98.3" stroke-opacity="0.14" stroke-width="0.6"/><path d="M493.3,78.9Q497.3,74.6 501.4,70.4" stroke-opacity="0.11" stroke-width="0.5"/><path d="M404.9,84.3Q415.4,91.9 427.9,91.7" stroke-opacity="0.27" stroke-width="0.5"/><path d="M450.7,98.3Q451.4,84.1 458.5,71.7" stroke-opacity="0.28" stroke-width="0.7"/><path d="M395.4,99.9Q403.4,105.2 412.8,105.8" stroke-opacity="0.19" stroke-width="0.6"/><path d="M391.1,109.2Q403.7,115.7 416.5,109.7" stroke-opacity="0.15" stroke-width="0.6"/><path d="M393.5,102.3Q405.3,110.0 418.5,106.0" stroke-opacity="0.18" stroke-width="0.5"/><path d="M411.5,143.5Q411.6,131.2 416.6,120.0" stroke-opacity="0.13" stroke-width="0.7"/><path d="M408.7,110.5Q413.9,109.5 418.6,106.9" stroke-opacity="0.14" stroke-width="0.6"/><path d="M447.4,100.1Q448.3,88.4 453.7,77.9" stroke-opacity="0.13" stroke-width="0.7"/><path d="M473.2,109.2Q488.0,107.4 500.5,116.6" stroke-opacity="0.13" stroke-width="0.8"/><path d="M399.4,107.9Q406.1,110.1 412.9,108.8" stroke-opacity="0.10" stroke-width="0.6"/><path d="M433.3,63.2Q440.3,67.1 448.2,67.0" stroke-opacity="0.26" stroke-width="0.7"/><path d="M461.5,135.8Q470.3,140.2 479.1,144.6" stroke-opacity="0.23" stroke-width="0.8"/><path d="M454.6,110.6Q455.9,104.1 455.9,97.5" stroke-opacity="0.27" stroke-width="0.6"/><path d="M410.1,78.0Q421.0,85.9 434.0,85.5" stroke-opacity="0.14" stroke-width="0.7"/><path d="M454.5,134.8Q467.4,137.3 478.6,144.5" stroke-opacity="0.27" stroke-width="0.6"/><path d="M398.3,70.2Q404.8,67.5 411.9,68.0" stroke-opacity="0.10" stroke-width="0.5"/><path d="M469.1,105.5Q474.2,99.9 479.3,94.3" stroke-opacity="0.18" stroke-width="0.6"/><path d="M436.2,100.9Q438.4,95.8 441.3,91.0" stroke-opacity="0.27" stroke-width="0.8"/><path d="M438.4,119.3Q438.4,114.1 438.5,108.8" stroke-opacity="0.16" stroke-width="0.7"/><path d="M435.6,77.4Q445.5,76.2 453.6,70.3" stroke-opacity="0.13" stroke-width="0.7"/><path d="M461.7,115.8Q472.2,106.4 486.0,104.6" stroke-opacity="0.24" stroke-width="0.5"/><path d="M493.4,112.9Q502.4,118.8 513.0,118.0" stroke-opacity="0.17" stroke-width="0.7"/><path d="M432.0,126.3Q431.8,117.4 432.9,108.6" stroke-opacity="0.19" stroke-width="0.7"/><path d="M453.9,116.6Q456.2,111.7 457.5,106.5" stroke-opacity="0.12" stroke-width="0.6"/><path d="M431.2,101.2Q436.0,94.6 441.2,88.4" stroke-opacity="0.14" stroke-width="0.6"/><path d="M403.9,70.1Q417.4,73.2 429.6,80.5" stroke-opacity="0.21" stroke-width="0.7"/><path d="M431.9,143.0Q436.5,134.8 438.5,125.6" stroke-opacity="0.17" stroke-width="0.5"/><path d="M418.9,126.5Q421.8,114.1 429.0,103.5" stroke-opacity="0.14" stroke-width="0.7"/><path d="M467.9,75.8Q468.6,68.3 471.2,61.3" stroke-opacity="0.28" stroke-width="0.7"/><path d="M392.6,116.9Q401.3,119.1 409.6,115.7" stroke-opacity="0.10" stroke-width="0.8"/><path d="M441.5,126.2Q443.2,118.0 443.1,109.6" stroke-opacity="0.26" stroke-width="0.7"/><path d="M423.7,93.7Q437.4,89.2 447.8,79.0" stroke-opacity="0.21" stroke-width="0.8"/><path d="M407.9,98.4Q420.0,101.4 430.7,94.9" stroke-opacity="0.28" stroke-width="0.7"/><path d="M438.1,142.5Q448.2,134.2 461.0,133.3" stroke-opacity="0.15" stroke-width="0.6"/><path d="M450.3,140.0Q461.7,141.7 471.4,148.4" stroke-opacity="0.16" stroke-width="0.7"/><path d="M400.3,106.6Q411.5,109.6 421.8,104.1" stroke-opacity="0.23" stroke-width="0.8"/><path d="M397.6,116.8Q407.6,116.8 416.0,111.3" stroke-opacity="0.13" stroke-width="0.6"/><path d="M415.6,76.1Q428.0,84.5 442.0,80.2" stroke-opacity="0.20" stroke-width="0.5"/><path d="M428.4,68.3Q436.2,72.7 445.1,72.0" stroke-opacity="0.15" stroke-width="0.5"/><path d="M395.2,93.2Q407.9,102.7 423.0,100.3" stroke-opacity="0.14" stroke-width="0.8"/><path d="M411.7,134.9Q412.7,128.7 415.2,122.9" stroke-opacity="0.22" stroke-width="0.5"/><path d="M488.2,137.2Q495.6,137.5 502.4,134.3" stroke-opacity="0.28" stroke-width="0.7"/><path d="M402.7,141.7Q405.4,132.8 410.4,124.9" stroke-opacity="0.16" stroke-width="0.6"/><path d="M422.9,148.9Q425.9,137.2 425.3,124.9" stroke-opacity="0.23" stroke-width="0.7"/><path d="M427.8,133.1Q427.3,120.5 430.0,108.3" stroke-opacity="0.15" stroke-width="0.7"/><path d="M452.4,133.7Q462.6,132.0 471.6,137.2" stroke-opacity="0.16" stroke-width="0.7"/><path d="M472.5,116.3Q481.4,117.2 489.0,122.3" stroke-opacity="0.20" stroke-width="0.8"/><path d="M462.9,123.1Q469.8,121.9 476.3,124.3" stroke-opacity="0.18" stroke-width="0.7"/><path d="M428.6,114.6Q429.9,108.7 432.3,103.3" stroke-opacity="0.11" stroke-width="0.6"/><path d="M478.3,131.0Q485.0,135.2 492.9,136.1" stroke-opacity="0.26" stroke-width="0.8"/><path d="M440.7,103.7Q441.8,96.3 444.8,89.4" stroke-opacity="0.10" stroke-width="0.7"/><path d="M424.4,76.9Q437.1,81.3 448.8,74.7" stroke-opacity="0.23" stroke-width="0.6"/><path d="M468.0,127.7Q477.3,132.1 486.6,136.8" stroke-opacity="0.24" stroke-width="0.6"/><path d="M472.1,121.2Q483.8,127.3 496.2,131.7" stroke-opacity="0.19" stroke-width="0.6"/><path d="M485.0,127.1Q492.8,131.4 501.7,130.4" stroke-opacity="0.23" stroke-width="0.7"/><path d="M464.7,120.2Q477.0,119.1 487.4,126.3" stroke-opacity="0.17" stroke-width="0.8"/><path d="M463.5,111.7Q468.9,105.8 474.3,99.9" stroke-opacity="0.16" stroke-width="0.8"/><path d="M439.8,102.2Q441.1,96.1 443.7,90.5" stroke-opacity="0.15" stroke-width="0.5"/><path d="M423.4,107.0Q430.5,99.4 437.6,91.6" stroke-opacity="0.10" stroke-width="0.6"/><path d="M491.4,115.9Q504.4,123.6 518.1,117.7" stroke-opacity="0.22" stroke-width="0.6"/><path d="M441.9,90.4Q448.1,81.2 455.3,72.7" stroke-opacity="0.09" stroke-width="0.7"/><path d="M472.9,102.3Q481.7,93.7 492.4,87.7" stroke-opacity="0.11" stroke-width="0.7"/><path d="M470.5,134.7Q481.9,142.8 495.3,140.4" stroke-opacity="0.18" stroke-width="0.6"/><path d="M448.4,104.7Q448.2,96.3 449.9,88.1" stroke-opacity="0.17" stroke-width="0.5"/><path d="M401.8,81.7Q407.3,83.9 412.4,87.0" stroke-opacity="0.10" stroke-width="0.7"/><path d="M414.7,114.3Q422.2,107.7 429.1,100.5" stroke-opacity="0.11" stroke-width="0.7"/><path d="M438.7,109.2Q439.9,96.8 446.0,85.9" stroke-opacity="0.16" stroke-width="0.7"/><path d="M492.8,83.0Q498.3,79.1 504.7,77.0" stroke-opacity="0.16" stroke-width="0.7"/><path d="M470.9,100.8Q478.0,89.9 480.2,77.2" stroke-opacity="0.14" stroke-width="0.8"/><path d="M419.9,95.4Q429.5,94.0 437.4,88.3" stroke-opacity="0.18" stroke-width="0.6"/><path d="M452.8,106.1Q453.0,100.4 452.9,94.7" stroke-opacity="0.25" stroke-width="0.6"/><path d="M461.3,99.6Q461.8,92.3 461.7,85.0" stroke-opacity="0.17" stroke-width="0.6"/><path d="M453.5,128.7Q463.7,123.9 474.4,127.5" stroke-opacity="0.18" stroke-width="0.6"/><path d="M465.3,71.3Q466.8,66.4 469.0,61.8" stroke-opacity="0.10" stroke-width="0.6"/><path d="M471.5,124.9Q481.0,130.0 490.9,134.2" stroke-opacity="0.10" stroke-width="0.6"/><path d="M452.1,137.2Q465.1,139.6 476.5,147.0" stroke-opacity="0.16" stroke-width="0.5"/><path d="M458.9,114.7Q467.3,102.4 469.7,87.7" stroke-opacity="0.28" stroke-width="0.8"/><path d="M487.8,82.8Q493.7,74.5 497.6,65.2" stroke-opacity="0.09" stroke-width="0.6"/><path d="M487.8,136.6Q499.6,136.7 509.1,129.7" stroke-opacity="0.27" stroke-width="0.7"/><path d="M467.8,134.4Q473.9,137.9 480.2,141.0" stroke-opacity="0.24" stroke-width="0.6"/><path d="M403.2,106.5Q415.8,108.0 426.3,100.6" stroke-opacity="0.23" stroke-width="0.7"/><path d="M459.9,93.1Q459.6,84.9 461.0,76.8" stroke-opacity="0.20" stroke-width="0.6"/><path d="M484.9,83.1Q487.6,77.8 489.2,72.0" stroke-opacity="0.23" stroke-width="0.7"/><path d="M411.2,104.8Q426.0,101.5 437.0,90.8" stroke-opacity="0.11" stroke-width="0.7"/><path d="M466.4,127.5Q476.0,131.2 485.1,136.4" stroke-opacity="0.12" stroke-width="0.5"/><path d="M428.7,122.9Q429.2,110.1 435.0,98.7" stroke-opacity="0.16" stroke-width="0.7"/><path d="M476.8,73.7Q476.8,68.7 477.1,63.6" stroke-opacity="0.09" stroke-width="0.7"/><path d="M418.5,149.9Q419.7,141.1 419.5,132.2" stroke-opacity="0.09" stroke-width="0.6"/><path d="M464.4,114.1Q474.8,106.5 487.5,107.6" stroke-opacity="0.13" stroke-width="0.7"/><path d="M418.2,151.4Q419.4,138.1 419.6,124.7" stroke-opacity="0.19" stroke-width="0.8"/><path d="M397.2,117.3Q407.6,117.2 416.3,111.4" stroke-opacity="0.18" stroke-width="0.6"/><path d="M448.1,130.0Q457.2,121.1 468.5,115.5" stroke-opacity="0.15" stroke-width="0.5"/><path d="M472.6,97.9Q479.7,84.5 479.5,69.4" stroke-opacity="0.19" stroke-width="0.7"/><path d="M393.9,79.9Q405.5,80.2 415.2,87.1" stroke-opacity="0.09" stroke-width="0.6"/><path d="M478.4,130.5Q490.7,137.9 504.0,132.9" stroke-opacity="0.14" stroke-width="0.7"/><path d="M436.6,123.1Q436.3,112.8 437.7,102.5" stroke-opacity="0.17" stroke-width="0.6"/><path d="M493.8,102.9Q502.1,107.7 510.9,111.3" stroke-opacity="0.16" stroke-width="0.6"/><path d="M410.9,68.4Q419.6,71.5 427.6,76.4" stroke-opacity="0.24" stroke-width="0.8"/><path d="M479.1,93.9Q484.8,87.0 490.2,79.9" stroke-opacity="0.18" stroke-width="0.7"/><path d="M407.1,147.0Q407.3,139.9 408.9,133.1" stroke-opacity="0.16" stroke-width="0.5"/><path d="M399.5,85.5Q410.9,93.3 424.1,94.8" stroke-opacity="0.15" stroke-width="0.8"/><path d="M450.4,117.1Q452.1,110.6 452.4,103.9" stroke-opacity="0.20" stroke-width="0.6"/><path d="M399.8,107.1Q406.0,109.3 412.4,108.4" stroke-opacity="0.28" stroke-width="0.8"/><path d="M409.1,142.4Q409.7,134.0 412.6,126.1" stroke-opacity="0.25" stroke-width="0.5"/><path d="M434.4,72.4Q445.6,73.8 455.2,67.7" stroke-opacity="0.11" stroke-width="0.8"/><path d="M491.7,113.7Q503.1,121.3 516.2,117.9" stroke-opacity="0.15" stroke-width="0.6"/><path d="M417.5,85.2Q424.1,88.0 431.3,87.2" stroke-opacity="0.22" stroke-width="0.7"/><path d="M402.5,98.5Q410.1,102.5 418.5,101.6" stroke-opacity="0.15" stroke-width="0.7"/><path d="M438.9,125.5Q439.4,115.2 439.6,104.8" stroke-opacity="0.18" stroke-width="0.6"/><path d="M464.3,94.2Q464.5,87.7 464.5,81.2" stroke-opacity="0.09" stroke-width="0.7"/><path d="M411.2,104.2Q421.2,103.1 429.5,97.1" stroke-opacity="0.14" stroke-width="0.6"/><path d="M487.2,115.4Q496.1,121.5 506.7,122.5" stroke-opacity="0.08" stroke-width="0.8"/><path d="M430.5,112.7Q434.6,98.2 443.9,86.2" stroke-opacity="0.10" stroke-width="0.5"/><path d="M434.2,146.2Q444.0,137.3 456.8,134.3" stroke-opacity="0.25" stroke-width="0.7"/><path d="M487.1,84.9Q495.1,75.6 502.1,65.5" stroke-opacity="0.21" stroke-width="0.8"/><path d="M406.3,107.6Q411.8,107.9 417.1,106.1" stroke-opacity="0.15" stroke-width="0.7"/><path d="M478.1,90.2Q481.1,83.6 482.5,76.5" stroke-opacity="0.11" stroke-width="0.6"/><path d="M454.4,120.9Q460.1,114.0 465.1,106.5" stroke-opacity="0.22" stroke-width="0.5"/><path d="M452.1,79.6Q454.8,75.2 457.8,71.0" stroke-opacity="0.20" stroke-width="0.5"/><path d="M480.4,103.7Q494.6,104.8 506.8,113.1" stroke-opacity="0.18" stroke-width="0.7"/><path d="M456.8,81.9Q458.6,75.2 461.9,69.1" stroke-opacity="0.14" stroke-width="0.5"/><path d="M466.7,87.5Q466.7,81.7 466.9,76.0" stroke-opacity="0.25" stroke-width="0.8"/><path d="M486.6,99.8Q494.2,100.0 500.9,103.8" stroke-opacity="0.16" stroke-width="0.6"/><path d="M488.8,118.9Q498.8,125.2 510.3,123.0" stroke-opacity="0.13" stroke-width="0.5"/><path d="M446.5,129.3Q455.4,118.0 460.3,104.4" stroke-opacity="0.15" stroke-width="0.5"/><path d="M404.7,130.3Q408.7,125.0 412.9,119.8" stroke-opacity="0.19" stroke-width="0.6"/><path d="M415.9,121.9Q419.1,115.6 423.2,109.8" stroke-opacity="0.21" stroke-width="0.6"/><path d="M407.3,113.2Q416.8,110.1 424.6,103.6" stroke-opacity="0.22" stroke-width="0.5"/><path d="M423.9,153.8Q431.7,142.9 435.2,130.1" stroke-opacity="0.18" stroke-width="0.6"/><path d="M413.6,135.7Q415.8,121.1 424.1,108.8" stroke-opacity="0.22" stroke-width="0.5"/></g><circle cx="418.3" cy="113.0" r="5.25" fill="#a9adb9" opacity="0.40"/><circle cx="417.4" cy="112.8" r="3.15" fill="url(#blob)" opacity="0.94"/><circle cx="420.4" cy="111.5" r="2.46" fill="url(#blob)" opacity="1.00"/><circle cx="419.2" cy="112.6" r="2.15" fill="url(#blob)" opacity="1.00"/><circle cx="418.3" cy="113.0" r="3.15" fill="none" stroke="#e6e9ef" stroke-width="0.8" opacity="0.70"/><circle cx="411.2" cy="113.0" r="3.75" fill="#a9adb9" opacity="0.36"/><circle cx="412.0" cy="112.6" r="2.25" fill="url(#blob)" opacity="1.00"/><circle cx="412.3" cy="111.8" r="1.62" fill="url(#blob)" opacity="0.89"/><circle cx="410.1" cy="112.3" r="1.81" fill="url(#blob)" opacity="1.00"/><circle cx="436.7" cy="101.1" r="3.00" fill="#a9adb9" opacity="0.36"/><circle cx="435.8" cy="102.1" r="1.80" fill="url(#blob)" opacity="0.87"/><circle cx="460.1" cy="100.3" r="3.00" fill="#a9adb9" opacity="0.36"/><circle cx="460.2" cy="100.9" r="1.80" fill="url(#blob)" opacity="1.00"/><circle cx="476.5" cy="114.0" r="3.75" fill="#a9adb9" opacity="0.40"/><circle cx="475.4" cy="115.4" r="2.25" fill="url(#blob)" opacity="1.00"/><circle cx="477.8" cy="113.1" r="1.37" fill="url(#blob)" opacity="1.00"/><circle cx="476.6" cy="112.7" r="1.47" fill="url(#blob)" opacity="0.93"/><circle cx="489.7" cy="101.7" r="3.75" fill="#a9adb9" opacity="0.40"/><circle cx="490.5" cy="101.8" r="2.25" fill="url(#blob)" opacity="1.00"/><circle cx="488.7" cy="100.5" r="1.45" fill="url(#blob)" opacity="1.00"/><circle cx="489.3" cy="100.5" r="1.39" fill="url(#blob)" opacity="0.93"/><circle cx="494.8" cy="101.7" r="3.00" fill="#a9adb9" opacity="0.36"/><circle cx="493.7" cy="102.8" r="1.80" fill="url(#blob)" opacity="0.88"/><circle cx="494.8" cy="101.7" r="1.80" fill="none" stroke="#e6e9ef" stroke-width="0.8" opacity="0.63"/><circle cx="468.3" cy="123.1" r="3.75" fill="#a9adb9" opacity="0.36"/><circle cx="469.6" cy="124.1" r="2.25" fill="url(#blob)" opacity="1.00"/><circle cx="467.0" cy="124.6" r="1.47" fill="url(#blob)" opacity="0.83"/><circle cx="440.8" cy="120.0" r="3.00" fill="#a9adb9" opacity="0.32"/><circle cx="440.8" cy="121.1" r="1.80" fill="url(#blob)" opacity="0.88"/><circle cx="461.2" cy="119.0" r="3.00" fill="#a9adb9" opacity="0.32"/><circle cx="460.1" cy="118.7" r="1.80" fill="url(#blob)" opacity="0.86"/><circle cx="460.3" cy="117.9" r="1.25" fill="url(#blob)" opacity="0.80"/><circle cx="491.7" cy="113.0" r="3.00" fill="#a9adb9" opacity="0.32"/><circle cx="490.7" cy="112.0" r="1.80" fill="url(#blob)" opacity="0.88"/><circle cx="492.6" cy="113.2" r="1.20" fill="url(#blob)" opacity="0.90"/><circle cx="491.7" cy="113.0" r="1.80" fill="none" stroke="#e6e9ef" stroke-width="0.8" opacity="0.56"/><circle cx="444.4" cy="68.5" r="2.70" fill="#a9adb9" opacity="0.32"/><circle cx="444.6" cy="67.7" r="1.62" fill="url(#blob)" opacity="0.83"/><circle cx="477.5" cy="67.0" r="3.75" fill="#a9adb9" opacity="0.36"/><circle cx="476.1" cy="65.9" r="2.25" fill="url(#blob)" opacity="0.94"/><circle cx="477.2" cy="66.2" r="1.48" fill="url(#blob)" opacity="0.85"/><circle cx="477.8" cy="68.1" r="1.66" fill="url(#blob)" opacity="0.91"/><circle cx="404.0" cy="70.0" r="3.00" fill="#a9adb9" opacity="0.28"/><circle cx="403.9" cy="70.4" r="1.80" fill="url(#blob)" opacity="0.69"/><circle cx="430.6" cy="88.5" r="2.40" fill="#a9adb9" opacity="0.28"/><circle cx="430.3" cy="89.2" r="1.44" fill="url(#blob)" opacity="0.72"/><circle cx="406.0" cy="90.5" r="2.40" fill="#a9adb9" opacity="0.28"/><circle cx="406.9" cy="90.2" r="1.44" fill="url(#blob)" opacity="0.82"/><circle cx="451.0" cy="81.3" r="2.25" fill="#a9adb9" opacity="0.28"/><circle cx="451.5" cy="80.5" r="1.35" fill="url(#blob)" opacity="0.80"/><circle cx="451.1" cy="80.7" r="1.07" fill="url(#blob)" opacity="0.73"/><circle cx="420.4" cy="131.3" r="3.75" fill="#a9adb9" opacity="0.36"/><circle cx="419.1" cy="129.8" r="2.25" fill="url(#blob)" opacity="1.00"/><circle cx="419.1" cy="131.8" r="1.63" fill="url(#blob)" opacity="0.96"/><circle cx="430.6" cy="134.3" r="3.00" fill="#a9adb9" opacity="0.32"/><circle cx="430.1" cy="133.2" r="1.80" fill="url(#blob)" opacity="0.82"/><circle cx="430.3" cy="133.4" r="1.48" fill="url(#blob)" opacity="0.89"/><circle cx="430.6" cy="134.3" r="1.80" fill="none" stroke="#e6e9ef" stroke-width="0.8" opacity="0.56"/><circle cx="436.7" cy="108.9" r="2.40" fill="#a9adb9" opacity="0.28"/><circle cx="437.4" cy="109.6" r="1.44" fill="url(#blob)" opacity="0.68"/><circle cx="437.4" cy="108.1" r="0.96" fill="url(#blob)" opacity="0.82"/><circle cx="481.5" cy="125.2" r="2.40" fill="#a9adb9" opacity="0.28"/><circle cx="481.5" cy="124.8" r="1.44" fill="url(#blob)" opacity="0.67"/><circle cx="490.7" cy="85.4" r="2.25" fill="#a9adb9" opacity="0.24"/><circle cx="491.5" cy="85.2" r="1.35" fill="url(#blob)" opacity="0.60"/><circle cx="491.0" cy="84.8" r="0.90" fill="url(#blob)" opacity="0.55"/><circle cx="433.0" cy="110.5" r="0.66" fill="url(#blob)" opacity="0.44"/><circle cx="449.6" cy="91.6" r="1.04" fill="url(#blob)" opacity="0.44"/><circle cx="490.4" cy="117.3" r="0.61" fill="url(#blob)" opacity="0.32"/><circle cx="425.9" cy="127.1" r="0.51" fill="url(#blob)" opacity="0.44"/><circle cx="418.3" cy="89.6" r="0.88" fill="url(#blob)" opacity="0.4"/><circle cx="454.3" cy="108.8" r="0.85" fill="url(#blob)" opacity="0.38"/><circle cx="412.3" cy="89.2" r="0.51" fill="url(#blob)" opacity="0.37"/><circle cx="431.6" cy="84.6" r="0.66" fill="url(#blob)" opacity="0.48"/><circle cx="414.3" cy="135.4" r="1.04" fill="url(#blob)" opacity="0.26"/><circle cx="487.3" cy="81.1" r="0.89" fill="url(#blob)" opacity="0.24"/><circle cx="434.1" cy="104.0" r="0.73" fill="url(#blob)" opacity="0.45"/><circle cx="468.2" cy="68.6" r="0.83" fill="url(#blob)" opacity="0.23"/><circle cx="419.2" cy="96.0" r="0.69" fill="url(#blob)" opacity="0.37"/><circle cx="503.2" cy="126.0" r="0.83" fill="url(#blob)" opacity="0.45"/><circle cx="418.5" cy="121.1" r="1.08" fill="url(#blob)" opacity="0.48"/><circle cx="454.1" cy="111.6" r="0.73" fill="url(#blob)" opacity="0.33"/><circle cx="503.9" cy="76.2" r="1.01" fill="url(#blob)" opacity="0.27"/><circle cx="458.8" cy="108.2" r="0.53" fill="url(#blob)" opacity="0.34"/><circle cx="402.7" cy="138.5" r="1.06" fill="url(#blob)" opacity="0.37"/><circle cx="481.0" cy="122.2" r="0.62" fill="url(#blob)" opacity="0.22"/><circle cx="440.0" cy="98.4" r="0.8" fill="url(#blob)" opacity="0.4"/><circle cx="480.2" cy="109.4" r="0.5" fill="url(#blob)" opacity="0.3"/><circle cx="466.3" cy="134.5" r="0.51" fill="url(#blob)" opacity="0.42"/><circle cx="450.5" cy="92.1" r="1.02" fill="url(#blob)" opacity="0.29"/><circle cx="425.1" cy="108.5" r="0.89" fill="url(#blob)" opacity="0.25"/><circle cx="455.0" cy="86.6" r="0.96" fill="url(#blob)" opacity="0.22"/><circle cx="489.0" cy="103.5" r="0.62" fill="url(#blob)" opacity="0.3"/><circle cx="476.3" cy="106.3" r="0.57" fill="url(#blob)" opacity="0.24"/><circle cx="408.4" cy="107.1" r="0.91" fill="url(#blob)" opacity="0.23"/><circle cx="488.2" cy="108.8" r="1.0" fill="url(#blob)" opacity="0.27"/><circle cx="420.8" cy="109.8" r="1.04" fill="url(#blob)" opacity="0.33"/><circle cx="442.6" cy="109.3" r="0.51" fill="url(#blob)" opacity="0.25"/><circle cx="438.8" cy="125.4" r="0.77" fill="url(#blob)" opacity="0.4"/><circle cx="442.9" cy="111.2" r="0.84" fill="url(#blob)" opacity="0.22"/><circle cx="463.6" cy="99.5" r="0.92" fill="url(#blob)" opacity="0.33"/><circle cx="412.9" cy="70.8" r="0.84" fill="url(#blob)" opacity="0.4"/><circle cx="482.1" cy="79.4" r="0.52" fill="url(#blob)" opacity="0.25"/><circle cx="496.3" cy="111.4" r="0.56" fill="url(#blob)" opacity="0.43"/><circle cx="466.3" cy="129.0" r="0.63" fill="url(#blob)" opacity="0.48"/><circle cx="447.6" cy="120.9" r="0.57" fill="url(#blob)" opacity="0.46"/><circle cx="501.0" cy="105.2" r="0.86" fill="url(#blob)" opacity="0.22"/><circle cx="470.5" cy="118.8" r="1.0" fill="url(#blob)" opacity="0.44"/><circle cx="426.6" cy="126.0" r="0.86" fill="url(#blob)" opacity="0.23"/><circle cx="405.5" cy="77.9" r="0.58" fill="url(#blob)" opacity="0.36"/><circle cx="455.1" cy="120.5" r="0.81" fill="url(#blob)" opacity="0.36"/><circle cx="459.0" cy="71.4" r="0.79" fill="url(#blob)" opacity="0.36"/><circle cx="422.5" cy="82.3" r="1.07" fill="url(#blob)" opacity="0.33"/><circle cx="407.6" cy="75.3" r="0.85" fill="url(#blob)" opacity="0.48"/><circle cx="419.4" cy="116.9" r="0.84" fill="url(#blob)" opacity="0.34"/><circle cx="440.9" cy="81.7" r="0.66" fill="url(#blob)" opacity="0.25"/><circle cx="483.5" cy="107.3" r="1.09" fill="url(#blob)" opacity="0.45"/><circle cx="448.3" cy="142.2" r="0.98" fill="url(#blob)" opacity="0.43"/><circle cx="472.8" cy="92.8" r="1.1" fill="url(#blob)" opacity="0.36"/><circle cx="419.9" cy="99.0" r="1.03" fill="url(#blob)" opacity="0.5"/><circle cx="451.9" cy="90.1" r="0.87" fill="url(#blob)" opacity="0.47"/></g>
<line x1="286.6" y1="148" x2="286.6" y2="226.5" stroke="#000" stroke-width="1.5" />
<text transform="translate(278.2,186.9) rotate(-90)" x="0" y="0" font-size="13.2" text-anchor="middle" fill="#000" stroke="#000" stroke-width="0.22" textLength="55.8" lengthAdjust="spacingAndGlyphs" >untreated</text>
<clipPath id="c10"><rect x="292" y="148" width="104" height="78.5"/></clipPath><g clip-path="url(#c10)"><rect x="292" y="148" width="104" height="78.5" fill="#7f8b96"/><g fill="none" stroke="#e0e9ef" stroke-linecap="round" filter="url(#soft)"><path d="M328.8,190.1Q339.0,192.0 349.3,193.7" stroke-opacity="0.16" stroke-width="0.7"/><path d="M346.3,160.4Q353.1,162.5 359.9,164.5" stroke-opacity="0.19" stroke-width="0.8"/><path d="M298.2,170.9Q301.8,171.8 305.4,172.7" stroke-opacity="0.23" stroke-width="0.8"/><path d="M285.6,224.7Q296.4,225.1 307.1,225.5" stroke-opacity="0.20" stroke-width="0.7"/><path d="M301.6,146.7Q308.4,149.2 315.2,151.6" stroke-opacity="0.09" stroke-width="0.6"/><path d="M310.8,148.1Q317.2,150.4 323.5,152.6" stroke-opacity="0.16" stroke-width="0.8"/><path d="M339.1,197.2Q346.0,198.3 352.9,199.3" stroke-opacity="0.20" stroke-width="0.7"/><path d="M310.0,225.9Q320.9,226.3 331.9,226.7" stroke-opacity="0.23" stroke-width="0.8"/><path d="M319.7,164.6Q324.8,166.0 329.9,167.5" stroke-opacity="0.09" stroke-width="0.8"/><path d="M327.6,213.9Q333.6,214.5 339.7,215.0" stroke-opacity="0.25" stroke-width="0.8"/><path d="M282.2,161.5Q292.0,164.5 301.9,167.3" stroke-opacity="0.16" stroke-width="0.9"/><path d="M325.7,151.1Q333.3,153.8 341.0,156.3" stroke-opacity="0.22" stroke-width="0.6"/><path d="M290.7,171.5Q301.1,174.1 311.5,176.7" stroke-opacity="0.22" stroke-width="0.5"/><path d="M314.3,154.8Q317.6,155.9 320.9,157.0" stroke-opacity="0.22" stroke-width="0.6"/><path d="M345.7,182.2Q350.2,183.1 354.6,184.1" stroke-opacity="0.21" stroke-width="0.6"/><path d="M352.9,155.2Q358.9,157.2 365.0,159.1" stroke-opacity="0.12" stroke-width="0.6"/><path d="M387.6,210.5Q393.0,211.1 398.4,211.6" stroke-opacity="0.24" stroke-width="0.6"/><path d="M324.9,214.4Q333.0,215.1 341.1,215.7" stroke-opacity="0.10" stroke-width="0.9"/><path d="M305.3,165.8Q314.2,168.3 323.0,170.7" stroke-opacity="0.14" stroke-width="0.6"/><path d="M292.4,152.6Q299.6,155.1 306.9,157.5" stroke-opacity="0.12" stroke-width="0.7"/><path d="M320.2,181.4Q330.7,183.6 341.1,185.7" stroke-opacity="0.17" stroke-width="0.7"/><path d="M378.1,161.1Q382.1,162.4 386.2,163.6" stroke-opacity="0.24" stroke-width="0.8"/><path d="M309.4,160.3Q317.9,162.9 326.5,165.4" stroke-opacity="0.25" stroke-width="0.6"/><path d="M383.0,216.7Q390.8,217.3 398.6,217.8" stroke-opacity="0.16" stroke-width="0.5"/><path d="M291.1,223.3Q296.0,223.6 300.9,223.8" stroke-opacity="0.21" stroke-width="0.6"/><path d="M372.4,194.0Q377.7,194.8 382.9,195.7" stroke-opacity="0.11" stroke-width="0.8"/><path d="M292.0,163.9Q299.1,166.0 306.3,168.0" stroke-opacity="0.23" stroke-width="0.7"/><path d="M316.5,219.7Q321.1,220.0 325.8,220.3" stroke-opacity="0.08" stroke-width="0.6"/><path d="M334.2,151.3Q338.4,152.8 342.5,154.2" stroke-opacity="0.15" stroke-width="0.7"/><path d="M295.8,174.0Q305.7,176.5 315.5,178.8" stroke-opacity="0.26" stroke-width="0.8"/><path d="M359.8,193.2Q363.9,193.9 368.0,194.6" stroke-opacity="0.09" stroke-width="0.5"/><path d="M376.1,201.6Q386.7,203.0 397.3,204.4" stroke-opacity="0.08" stroke-width="0.8"/><path d="M336.6,204.7Q342.2,205.3 347.7,206.0" stroke-opacity="0.26" stroke-width="0.5"/><path d="M338.7,204.6Q348.8,205.9 358.9,207.0" stroke-opacity="0.21" stroke-width="0.8"/><path d="M368.7,219.5Q374.5,219.8 380.3,220.2" stroke-opacity="0.20" stroke-width="0.9"/><path d="M373.5,178.7Q382.6,180.8 391.7,182.7" stroke-opacity="0.24" stroke-width="0.7"/><path d="M349.5,176.3Q357.0,178.0 364.5,179.7" stroke-opacity="0.19" stroke-width="0.5"/><path d="M348.5,225.6Q358.5,226.0 368.5,226.3" stroke-opacity="0.21" stroke-width="0.7"/><path d="M362.0,192.5Q368.4,193.6 374.9,194.7" stroke-opacity="0.23" stroke-width="0.5"/><path d="M362.7,147.7Q370.0,150.4 377.4,152.9" stroke-opacity="0.17" stroke-width="0.6"/><path d="M356.9,185.5Q364.6,187.1 372.4,188.5" stroke-opacity="0.25" stroke-width="0.6"/><path d="M285.0,169.5Q293.2,171.7 301.3,173.7" stroke-opacity="0.12" stroke-width="0.6"/><path d="M379.7,198.9Q386.2,199.8 392.7,200.7" stroke-opacity="0.24" stroke-width="0.6"/><path d="M355.1,161.7Q361.2,163.6 367.4,165.4" stroke-opacity="0.23" stroke-width="0.9"/><path d="M376.1,176.4Q383.5,178.2 391.0,179.9" stroke-opacity="0.14" stroke-width="0.6"/><path d="M333.9,212.9Q343.6,213.7 353.4,214.5" stroke-opacity="0.21" stroke-width="0.9"/><path d="M314.5,159.3Q320.8,161.3 327.1,163.2" stroke-opacity="0.13" stroke-width="0.6"/><path d="M328.2,196.1Q335.1,197.1 341.9,198.2" stroke-opacity="0.14" stroke-width="0.8"/><path d="M390.6,182.8Q394.1,183.5 397.7,184.3" stroke-opacity="0.09" stroke-width="0.8"/><path d="M288.8,202.7Q296.3,203.6 303.8,204.6" stroke-opacity="0.14" stroke-width="0.8"/><path d="M287.7,156.6Q294.0,158.7 300.3,160.6" stroke-opacity="0.08" stroke-width="0.8"/><path d="M313.5,158.0Q316.7,159.1 319.9,160.1" stroke-opacity="0.19" stroke-width="0.7"/><path d="M348.2,198.1Q357.5,199.4 366.9,200.8" stroke-opacity="0.25" stroke-width="0.8"/><path d="M308.4,184.4Q312.7,185.3 317.1,186.2" stroke-opacity="0.08" stroke-width="0.7"/><path d="M361.3,160.6Q366.3,162.1 371.2,163.5" stroke-opacity="0.14" stroke-width="0.8"/><path d="M337.2,194.8Q346.1,196.3 355.1,197.6" stroke-opacity="0.15" stroke-width="0.8"/><path d="M376.3,151.5Q386.2,154.9 396.2,158.1" stroke-opacity="0.21" stroke-width="0.6"/><path d="M329.0,195.5Q339.2,197.1 349.3,198.6" stroke-opacity="0.15" stroke-width="0.7"/><path d="M372.9,209.5Q383.4,210.6 394.0,211.6" stroke-opacity="0.16" stroke-width="0.8"/><path d="M303.8,203.5Q313.3,204.7 322.8,205.8" stroke-opacity="0.20" stroke-width="0.8"/><path d="M303.4,217.9Q314.2,218.7 325.0,219.4" stroke-opacity="0.26" stroke-width="0.7"/><path d="M364.3,170.6Q374.2,173.2 384.2,175.6" stroke-opacity="0.23" stroke-width="0.6"/><path d="M293.4,181.0Q300.6,182.6 307.9,184.1" stroke-opacity="0.22" stroke-width="0.7"/><path d="M291.5,211.2Q295.0,211.5 298.5,211.8" stroke-opacity="0.22" stroke-width="0.6"/><path d="M322.7,209.4Q326.8,209.9 330.9,210.3" stroke-opacity="0.11" stroke-width="0.7"/><path d="M358.8,213.2Q367.3,213.9 375.7,214.7" stroke-opacity="0.25" stroke-width="0.7"/><path d="M386.2,153.2Q390.7,154.8 395.2,156.3" stroke-opacity="0.17" stroke-width="0.6"/><path d="M360.7,197.1Q367.8,198.2 374.9,199.2" stroke-opacity="0.23" stroke-width="0.7"/><path d="M314.9,175.7Q324.4,178.0 333.9,180.1" stroke-opacity="0.24" stroke-width="0.6"/><path d="M373.3,223.7Q380.5,224.0 387.7,224.3" stroke-opacity="0.18" stroke-width="0.6"/><path d="M340.0,186.0Q347.7,187.5 355.4,189.0" stroke-opacity="0.08" stroke-width="0.9"/><path d="M336.5,177.3Q345.7,179.5 354.8,181.5" stroke-opacity="0.18" stroke-width="0.7"/><path d="M357.0,150.8Q363.9,153.2 370.8,155.5" stroke-opacity="0.15" stroke-width="0.9"/><path d="M381.5,167.3Q388.0,169.2 394.6,170.9" stroke-opacity="0.10" stroke-width="0.7"/><path d="M370.0,218.2Q376.8,218.7 383.6,219.1" stroke-opacity="0.14" stroke-width="0.6"/><path d="M352.2,220.4Q356.3,220.6 360.3,220.9" stroke-opacity="0.22" stroke-width="0.5"/><path d="M304.0,163.5Q312.2,165.9 320.4,168.1" stroke-opacity="0.14" stroke-width="0.6"/><path d="M348.1,153.4Q356.4,156.3 364.9,158.9" stroke-opacity="0.10" stroke-width="0.7"/><path d="M311.1,161.5Q318.1,163.5 325.0,165.6" stroke-opacity="0.16" stroke-width="0.7"/><path d="M330.8,188.8Q335.0,189.6 339.2,190.3" stroke-opacity="0.12" stroke-width="0.8"/><path d="M348.8,187.8Q358.4,189.6 368.1,191.3" stroke-opacity="0.19" stroke-width="0.8"/><path d="M306.8,205.0Q316.2,206.2 325.6,207.2" stroke-opacity="0.24" stroke-width="0.6"/><path d="M320.0,220.2Q324.8,220.4 329.5,220.7" stroke-opacity="0.26" stroke-width="0.9"/><path d="M297.5,164.4Q305.9,166.8 314.4,169.1" stroke-opacity="0.13" stroke-width="0.5"/><path d="M369.4,179.1Q378.5,181.1 387.7,183.1" stroke-opacity="0.10" stroke-width="0.7"/><path d="M358.9,147.8Q363.3,149.4 367.6,150.9" stroke-opacity="0.20" stroke-width="0.9"/><path d="M386.0,154.9Q392.7,157.1 399.4,159.2" stroke-opacity="0.22" stroke-width="0.7"/><path d="M359.9,161.8Q363.3,162.8 366.7,163.9" stroke-opacity="0.10" stroke-width="0.5"/><path d="M342.0,187.0Q349.4,188.4 356.8,189.8" stroke-opacity="0.11" stroke-width="0.6"/><path d="M302.3,213.0Q313.2,214.0 324.1,214.9" stroke-opacity="0.25" stroke-width="0.5"/><path d="M291.8,222.4Q298.4,222.7 305.1,223.0" stroke-opacity="0.22" stroke-width="0.6"/><path d="M334.2,187.2Q340.6,188.5 346.9,189.6" stroke-opacity="0.19" stroke-width="0.5"/><path d="M360.5,213.9Q364.9,214.3 369.3,214.6" stroke-opacity="0.16" stroke-width="0.8"/><path d="M330.0,162.1Q334.1,163.3 338.3,164.5" stroke-opacity="0.17" stroke-width="0.5"/><path d="M376.3,210.1Q384.9,210.9 393.5,211.8" stroke-opacity="0.23" stroke-width="0.8"/><path d="M327.1,193.9Q334.1,195.1 341.0,196.2" stroke-opacity="0.26" stroke-width="0.8"/><path d="M309.9,219.0Q318.9,219.5 327.8,220.1" stroke-opacity="0.22" stroke-width="0.8"/><path d="M324.2,217.7Q334.2,218.4 344.2,219.0" stroke-opacity="0.21" stroke-width="0.8"/><path d="M363.0,177.9Q371.6,179.9 380.2,181.8" stroke-opacity="0.09" stroke-width="0.6"/><path d="M335.3,146.8Q340.8,148.8 346.3,150.8" stroke-opacity="0.19" stroke-width="0.7"/><path d="M307.8,221.7Q316.1,222.2 324.5,222.6" stroke-opacity="0.14" stroke-width="0.8"/><path d="M345.2,188.7Q351.2,189.9 357.3,190.9" stroke-opacity="0.26" stroke-width="0.8"/><path d="M354.2,206.6Q364.9,207.8 375.7,209.0" stroke-opacity="0.08" stroke-width="0.7"/><path d="M362.8,166.5Q368.8,168.2 374.8,169.8" stroke-opacity="0.09" stroke-width="0.6"/><path d="M326.3,154.2Q331.1,155.7 335.8,157.3" stroke-opacity="0.24" stroke-width="0.7"/><path d="M337.3,223.6Q344.8,223.9 352.3,224.3" stroke-opacity="0.26" stroke-width="0.8"/><path d="M368.8,151.5Q376.2,154.0 383.6,156.4" stroke-opacity="0.22" stroke-width="0.5"/><path d="M382.3,158.5Q388.7,160.6 395.2,162.5" stroke-opacity="0.11" stroke-width="0.7"/><path d="M345.6,149.1Q355.5,152.6 365.6,156.0" stroke-opacity="0.16" stroke-width="0.7"/><path d="M349.0,175.5Q354.2,176.7 359.3,177.9" stroke-opacity="0.20" stroke-width="0.7"/><path d="M316.2,203.6Q321.5,204.3 326.8,204.9" stroke-opacity="0.08" stroke-width="0.6"/><path d="M287.8,157.6Q296.4,160.3 305.1,162.9" stroke-opacity="0.15" stroke-width="0.9"/><path d="M359.5,148.3Q369.8,152.0 380.2,155.5" stroke-opacity="0.25" stroke-width="0.5"/><path d="M379.5,180.3Q386.2,181.7 392.8,183.2" stroke-opacity="0.26" stroke-width="0.6"/><path d="M337.7,221.1Q346.4,221.6 355.2,222.0" stroke-opacity="0.16" stroke-width="0.9"/><path d="M373.1,194.8Q376.9,195.4 380.8,196.0" stroke-opacity="0.19" stroke-width="0.7"/><path d="M306.4,149.7Q313.2,152.1 320.0,154.4" stroke-opacity="0.10" stroke-width="0.7"/><path d="M356.5,182.7Q361.5,183.8 366.5,184.8" stroke-opacity="0.18" stroke-width="0.7"/><path d="M362.1,187.6Q372.9,189.7 383.7,191.6" stroke-opacity="0.25" stroke-width="0.8"/><path d="M307.2,153.8Q316.8,157.0 326.5,160.0" stroke-opacity="0.22" stroke-width="0.7"/><path d="M321.2,167.1Q329.3,169.3 337.5,171.5" stroke-opacity="0.18" stroke-width="0.7"/><path d="M353.4,206.6Q357.8,207.1 362.3,207.6" stroke-opacity="0.12" stroke-width="0.9"/><path d="M383.9,216.7Q387.2,217.0 390.5,217.2" stroke-opacity="0.09" stroke-width="0.6"/><path d="M332.4,196.3Q336.2,196.9 340.0,197.5" stroke-opacity="0.18" stroke-width="0.5"/><path d="M293.7,200.1Q301.0,201.1 308.3,202.1" stroke-opacity="0.19" stroke-width="0.6"/><path d="M336.3,162.9Q341.8,164.5 347.3,166.1" stroke-opacity="0.21" stroke-width="0.8"/><path d="M290.7,154.5Q299.7,157.4 308.8,160.3" stroke-opacity="0.19" stroke-width="0.8"/><path d="M309.2,180.2Q314.2,181.3 319.1,182.4" stroke-opacity="0.23" stroke-width="0.6"/><path d="M354.4,225.4Q360.0,225.7 365.6,225.9" stroke-opacity="0.18" stroke-width="0.8"/><path d="M382.0,180.3Q387.8,181.6 393.6,182.8" stroke-opacity="0.10" stroke-width="0.9"/><path d="M293.0,152.1Q300.2,154.5 307.3,156.9" stroke-opacity="0.17" stroke-width="0.8"/><path d="M319.5,208.5Q323.1,208.9 326.7,209.3" stroke-opacity="0.12" stroke-width="0.8"/><path d="M292.0,169.6Q300.5,171.9 309.0,174.0" stroke-opacity="0.20" stroke-width="0.6"/><path d="M298.3,174.0Q306.9,176.1 315.4,178.1" stroke-opacity="0.15" stroke-width="0.5"/><path d="M355.6,190.9Q365.8,192.7 376.0,194.4" stroke-opacity="0.25" stroke-width="0.9"/><path d="M332.1,210.5Q337.6,211.0 343.0,211.6" stroke-opacity="0.14" stroke-width="0.7"/><path d="M384.2,217.9Q389.2,218.2 394.2,218.6" stroke-opacity="0.15" stroke-width="0.6"/><path d="M323.8,177.7Q329.8,179.1 335.7,180.4" stroke-opacity="0.12" stroke-width="0.7"/><path d="M365.4,188.7Q374.9,190.5 384.4,192.1" stroke-opacity="0.18" stroke-width="0.6"/><path d="M365.7,216.8Q370.9,217.2 376.2,217.5" stroke-opacity="0.08" stroke-width="0.7"/><path d="M338.0,190.7Q348.6,192.6 359.2,194.3" stroke-opacity="0.20" stroke-width="0.8"/><path d="M289.5,189.3Q298.7,190.9 307.8,192.5" stroke-opacity="0.10" stroke-width="0.5"/><path d="M365.0,218.3Q368.7,218.6 372.3,218.8" stroke-opacity="0.19" stroke-width="0.6"/><path d="M364.7,198.2Q369.6,199.0 374.5,199.7" stroke-opacity="0.12" stroke-width="0.8"/><path d="M340.1,207.4Q346.2,208.0 352.4,208.7" stroke-opacity="0.14" stroke-width="0.9"/><path d="M354.8,185.3Q361.9,186.8 369.1,188.1" stroke-opacity="0.21" stroke-width="0.8"/><path d="M377.8,178.1Q387.2,180.3 396.5,182.3" stroke-opacity="0.20" stroke-width="0.8"/><path d="M365.7,212.6Q375.8,213.5 385.9,214.3" stroke-opacity="0.25" stroke-width="0.8"/><path d="M337.1,202.5Q346.5,203.8 355.8,204.9" stroke-opacity="0.16" stroke-width="0.7"/><path d="M296.4,204.9Q307.2,206.2 318.1,207.4" stroke-opacity="0.15" stroke-width="0.6"/><path d="M308.0,180.2Q313.3,181.4 318.5,182.5" stroke-opacity="0.25" stroke-width="0.5"/><path d="M316.3,154.5Q324.1,157.0 331.9,159.5" stroke-opacity="0.22" stroke-width="0.6"/><path d="M291.0,182.4Q298.5,184.0 306.0,185.6" stroke-opacity="0.24" stroke-width="0.5"/><path d="M298.8,161.1Q303.3,162.5 307.8,163.8" stroke-opacity="0.12" stroke-width="0.8"/><path d="M349.6,164.3Q353.9,165.6 358.2,166.8" stroke-opacity="0.13" stroke-width="0.6"/><path d="M363.6,170.6Q370.8,172.5 377.9,174.3" stroke-opacity="0.23" stroke-width="0.7"/><path d="M308.8,216.9Q319.1,217.7 329.4,218.4" stroke-opacity="0.14" stroke-width="0.7"/><path d="M386.9,184.9Q391.5,185.9 396.2,186.8" stroke-opacity="0.09" stroke-width="0.9"/><path d="M368.3,176.6Q375.3,178.2 382.4,179.8" stroke-opacity="0.17" stroke-width="0.6"/><path d="M390.1,198.9Q395.0,199.6 399.8,200.3" stroke-opacity="0.08" stroke-width="0.7"/><path d="M322.0,209.7Q330.6,210.6 339.3,211.4" stroke-opacity="0.19" stroke-width="0.6"/><path d="M303.4,172.0Q308.3,173.3 313.2,174.5" stroke-opacity="0.24" stroke-width="0.7"/><path d="M353.1,225.8Q358.2,226.0 363.4,226.1" stroke-opacity="0.18" stroke-width="0.6"/><path d="M363.1,144.8Q372.1,148.2 381.1,151.3" stroke-opacity="0.23" stroke-width="0.8"/><path d="M292.2,166.9Q300.6,169.2 309.0,171.4" stroke-opacity="0.10" stroke-width="0.7"/><path d="M333.1,222.6Q340.7,223.0 348.4,223.4" stroke-opacity="0.23" stroke-width="0.6"/><path d="M364.0,178.5Q374.1,180.8 384.2,182.9" stroke-opacity="0.10" stroke-width="0.8"/><path d="M306.6,189.4Q313.7,190.7 320.8,191.9" stroke-opacity="0.11" stroke-width="0.8"/><path d="M320.9,171.5Q324.4,172.4 327.9,173.3" stroke-opacity="0.14" stroke-width="0.7"/><path d="M358.1,174.2Q366.4,176.3 374.6,178.2" stroke-opacity="0.10" stroke-width="0.7"/><path d="M330.4,223.5Q340.0,223.9 349.7,224.3" stroke-opacity="0.20" stroke-width="0.5"/><path d="M326.4,203.1Q331.2,203.7 336.1,204.3" stroke-opacity="0.18" stroke-width="0.7"/><path d="M283.7,225.5Q293.1,225.8 302.5,226.2" stroke-opacity="0.12" stroke-width="0.7"/><path d="M315.1,175.8Q322.2,177.5 329.3,179.2" stroke-opacity="0.13" stroke-width="0.6"/><path d="M327.8,199.6Q332.8,200.3 337.8,201.0" stroke-opacity="0.12" stroke-width="0.8"/><path d="M318.8,221.8Q326.3,222.2 333.7,222.6" stroke-opacity="0.21" stroke-width="0.6"/><path d="M374.1,153.9Q378.0,155.3 381.9,156.5" stroke-opacity="0.10" stroke-width="0.8"/><path d="M359.7,160.3Q365.7,162.1 371.6,163.9" stroke-opacity="0.23" stroke-width="0.7"/><path d="M297.3,164.6Q301.4,165.8 305.5,166.9" stroke-opacity="0.10" stroke-width="0.7"/><path d="M293.2,219.9Q299.6,220.3 306.0,220.6" stroke-opacity="0.17" stroke-width="0.8"/><path d="M365.7,211.9Q371.8,212.5 377.8,213.0" stroke-opacity="0.14" stroke-width="0.7"/><path d="M285.2,177.5Q293.6,179.5 302.0,181.3" stroke-opacity="0.26" stroke-width="0.8"/><path d="M357.6,195.3Q360.7,195.8 363.8,196.3" stroke-opacity="0.14" stroke-width="0.6"/><path d="M354.0,154.5Q359.7,156.4 365.4,158.2" stroke-opacity="0.17" stroke-width="0.8"/><path d="M373.6,195.3Q377.8,196.0 382.0,196.7" stroke-opacity="0.22" stroke-width="0.9"/><path d="M342.2,174.0Q349.0,175.7 355.8,177.3" stroke-opacity="0.11" stroke-width="0.8"/><path d="M386.1,186.9Q394.6,188.5 403.2,190.1" stroke-opacity="0.23" stroke-width="0.6"/><path d="M385.7,196.5Q390.3,197.2 394.8,197.9" stroke-opacity="0.09" stroke-width="0.6"/><path d="M346.4,202.0Q352.0,202.7 357.5,203.4" stroke-opacity="0.25" stroke-width="0.6"/><path d="M329.9,154.4Q340.1,157.8 350.4,161.0" stroke-opacity="0.10" stroke-width="0.9"/><path d="M341.1,190.7Q348.5,192.0 355.9,193.3" stroke-opacity="0.13" stroke-width="0.9"/><path d="M387.4,211.4Q395.2,212.2 403.0,212.9" stroke-opacity="0.10" stroke-width="0.8"/><path d="M317.1,218.1Q322.0,218.4 326.9,218.7" stroke-opacity="0.18" stroke-width="0.8"/><path d="M307.7,190.4Q311.3,191.0 314.9,191.6" stroke-opacity="0.09" stroke-width="0.6"/><path d="M386.4,221.3Q394.6,221.8 402.9,222.2" stroke-opacity="0.14" stroke-width="0.8"/><path d="M361.2,176.2Q368.7,178.0 376.3,179.7" stroke-opacity="0.22" stroke-width="0.5"/><path d="M308.7,183.9Q312.8,184.7 316.8,185.6" stroke-opacity="0.15" stroke-width="0.7"/><path d="M305.0,187.9Q310.1,188.8 315.1,189.7" stroke-opacity="0.18" stroke-width="0.6"/><path d="M350.9,148.2Q358.7,151.0 366.6,153.7" stroke-opacity="0.11" stroke-width="0.9"/><path d="M348.2,183.6Q354.4,184.9 360.6,186.1" stroke-opacity="0.19" stroke-width="0.8"/><path d="M364.0,206.2Q370.8,207.0 377.7,207.8" stroke-opacity="0.26" stroke-width="0.8"/><path d="M374.6,178.7Q380.9,180.1 387.2,181.5" stroke-opacity="0.18" stroke-width="0.9"/><path d="M340.4,188.0Q346.7,189.2 353.1,190.4" stroke-opacity="0.24" stroke-width="0.6"/><path d="M287.6,203.7Q297.7,205.0 307.8,206.2" stroke-opacity="0.21" stroke-width="0.7"/><path d="M362.7,170.0Q370.2,171.9 377.7,173.8" stroke-opacity="0.09" stroke-width="0.5"/><path d="M332.4,186.3Q338.5,187.5 344.5,188.6" stroke-opacity="0.09" stroke-width="0.8"/><path d="M341.5,165.3Q346.7,166.8 352.0,168.2" stroke-opacity="0.15" stroke-width="0.6"/><path d="M288.4,218.9Q299.1,219.5 309.8,220.2" stroke-opacity="0.20" stroke-width="0.8"/><path d="M331.1,210.8Q335.8,211.2 340.6,211.7" stroke-opacity="0.21" stroke-width="0.7"/><path d="M377.1,152.8Q385.9,155.8 394.8,158.6" stroke-opacity="0.10" stroke-width="0.7"/><path d="M386.3,146.3Q390.9,148.1 395.6,149.7" stroke-opacity="0.13" stroke-width="0.6"/><path d="M289.0,217.6Q298.5,218.3 308.0,218.9" stroke-opacity="0.15" stroke-width="0.6"/><path d="M349.8,150.5Q352.9,151.6 356.0,152.7" stroke-opacity="0.24" stroke-width="0.6"/><path d="M333.0,220.7Q343.8,221.3 354.6,221.9" stroke-opacity="0.17" stroke-width="0.6"/><path d="M312.6,219.8Q322.7,220.4 332.9,221.0" stroke-opacity="0.12" stroke-width="0.8"/><path d="M324.5,184.2Q328.8,185.1 333.1,186.0" stroke-opacity="0.24" stroke-width="0.9"/><path d="M308.5,197.0Q313.0,197.6 317.5,198.3" stroke-opacity="0.24" stroke-width="0.5"/><path d="M297.6,204.3Q303.0,205.0 308.5,205.6" stroke-opacity="0.24" stroke-width="0.8"/><path d="M358.0,156.0Q366.2,158.6 374.3,161.1" stroke-opacity="0.25" stroke-width="0.7"/><path d="M295.0,164.0Q300.2,165.5 305.5,167.0" stroke-opacity="0.21" stroke-width="0.6"/><path d="M302.8,164.2Q310.8,166.5 318.8,168.7" stroke-opacity="0.22" stroke-width="0.6"/><path d="M353.1,216.9Q360.8,217.4 368.5,218.0" stroke-opacity="0.12" stroke-width="0.6"/><path d="M383.2,199.6Q388.4,200.4 393.5,201.1" stroke-opacity="0.20" stroke-width="0.5"/><path d="M387.2,181.0Q394.2,182.6 401.3,184.1" stroke-opacity="0.18" stroke-width="0.5"/><path d="M349.5,169.0Q354.4,170.3 359.2,171.6" stroke-opacity="0.22" stroke-width="0.5"/><path d="M316.7,206.8Q321.7,207.3 326.6,207.9" stroke-opacity="0.13" stroke-width="0.7"/><path d="M300.5,217.7Q311.4,218.4 322.3,219.1" stroke-opacity="0.09" stroke-width="0.7"/><path d="M359.9,175.8Q370.1,178.2 380.2,180.5" stroke-opacity="0.17" stroke-width="0.6"/><path d="M344.0,197.8Q349.8,198.6 355.6,199.5" stroke-opacity="0.20" stroke-width="0.8"/><path d="M336.2,185.8Q345.7,187.7 355.3,189.5" stroke-opacity="0.20" stroke-width="0.7"/><path d="M382.1,158.9Q390.9,161.7 399.8,164.3" stroke-opacity="0.11" stroke-width="0.7"/><path d="M307.5,180.6Q316.5,182.6 325.5,184.5" stroke-opacity="0.22" stroke-width="0.8"/><path d="M311.9,185.5Q316.5,186.4 321.2,187.3" stroke-opacity="0.18" stroke-width="0.7"/><path d="M287.1,193.4Q295.7,194.9 304.3,196.2" stroke-opacity="0.18" stroke-width="0.8"/><path d="M307.7,159.0Q310.7,159.9 313.7,160.8" stroke-opacity="0.17" stroke-width="0.7"/><path d="M328.9,166.1Q337.9,168.7 347.0,171.1" stroke-opacity="0.09" stroke-width="0.9"/><path d="M342.0,189.0Q351.2,190.7 360.4,192.3" stroke-opacity="0.12" stroke-width="0.6"/><path d="M319.1,149.5Q324.3,151.3 329.6,153.1" stroke-opacity="0.19" stroke-width="0.7"/><path d="M315.9,193.6Q319.5,194.2 323.2,194.8" stroke-opacity="0.23" stroke-width="0.6"/><path d="M310.4,158.0Q318.5,160.6 326.7,163.0" stroke-opacity="0.23" stroke-width="0.8"/><path d="M292.6,178.9Q298.4,180.2 304.1,181.5" stroke-opacity="0.12" stroke-width="0.9"/><path d="M287.5,184.6Q296.4,186.5 305.3,188.2" stroke-opacity="0.26" stroke-width="0.6"/><path d="M336.1,206.1Q339.4,206.5 342.6,206.9" stroke-opacity="0.12" stroke-width="0.9"/><path d="M301.5,177.6Q306.7,178.9 312.0,180.0" stroke-opacity="0.16" stroke-width="0.5"/><path d="M286.5,225.9Q295.6,226.2 304.7,226.5" stroke-opacity="0.21" stroke-width="0.6"/><path d="M313.5,190.5Q318.3,191.3 323.2,192.2" stroke-opacity="0.16" stroke-width="0.9"/><path d="M319.3,171.8Q329.8,174.5 340.4,177.0" stroke-opacity="0.19" stroke-width="0.5"/><path d="M330.5,198.5Q333.9,199.0 337.3,199.5" stroke-opacity="0.14" stroke-width="0.8"/><path d="M371.9,192.7Q381.9,194.4 391.9,196.0" stroke-opacity="0.16" stroke-width="0.7"/><path d="M370.7,175.8Q379.7,177.9 388.7,180.0" stroke-opacity="0.12" stroke-width="0.6"/><path d="M306.9,190.4Q311.1,191.1 315.3,191.9" stroke-opacity="0.12" stroke-width="0.6"/><path d="M334.3,170.6Q340.6,172.2 347.0,173.8" stroke-opacity="0.26" stroke-width="0.8"/><path d="M375.9,162.3Q381.7,164.1 387.5,165.7" stroke-opacity="0.09" stroke-width="0.8"/><path d="M326.7,168.7Q329.7,169.6 332.8,170.4" stroke-opacity="0.11" stroke-width="0.6"/><path d="M324.2,220.0Q332.9,220.5 341.6,221.0" stroke-opacity="0.13" stroke-width="0.6"/><path d="M302.1,221.2Q308.0,221.5 313.8,221.8" stroke-opacity="0.22" stroke-width="0.8"/><path d="M381.1,147.7Q386.3,149.6 391.6,151.5" stroke-opacity="0.15" stroke-width="0.5"/><path d="M374.9,171.3Q383.8,173.6 392.7,175.7" stroke-opacity="0.17" stroke-width="0.5"/><path d="M329.8,165.8Q333.0,166.7 336.2,167.6" stroke-opacity="0.11" stroke-width="0.7"/><path d="M289.1,170.9Q295.3,172.5 301.5,174.1" stroke-opacity="0.18" stroke-width="0.6"/><path d="M357.0,166.1Q365.5,168.5 374.0,170.7" stroke-opacity="0.20" stroke-width="0.6"/><path d="M304.9,167.7Q313.3,170.0 321.7,172.2" stroke-opacity="0.15" stroke-width="0.7"/><path d="M376.9,164.3Q382.1,165.8 387.2,167.2" stroke-opacity="0.14" stroke-width="0.6"/><path d="M288.7,147.2Q296.2,150.0 303.8,152.6" stroke-opacity="0.18" stroke-width="0.8"/><path d="M385.4,169.3Q393.5,171.4 401.6,173.5" stroke-opacity="0.25" stroke-width="0.6"/><path d="M353.1,198.8Q363.7,200.4 374.2,201.8" stroke-opacity="0.24" stroke-width="0.6"/><path d="M351.7,153.0Q357.8,155.1 363.9,157.1" stroke-opacity="0.15" stroke-width="0.5"/><path d="M325.1,172.0Q331.9,173.8 338.6,175.4" stroke-opacity="0.13" stroke-width="0.6"/><path d="M329.6,184.4Q333.9,185.3 338.1,186.2" stroke-opacity="0.20" stroke-width="0.6"/><path d="M295.5,173.3Q301.7,174.8 307.9,176.3" stroke-opacity="0.11" stroke-width="0.7"/><path d="M356.5,189.9Q364.9,191.4 373.4,192.9" stroke-opacity="0.08" stroke-width="0.7"/><path d="M324.0,150.9Q329.9,153.0 335.8,154.9" stroke-opacity="0.09" stroke-width="0.7"/><path d="M347.4,183.7Q352.9,184.8 358.4,185.9" stroke-opacity="0.13" stroke-width="0.5"/><path d="M320.6,217.5Q328.1,218.0 335.6,218.5" stroke-opacity="0.13" stroke-width="0.8"/><path d="M303.6,183.2Q311.3,184.9 319.1,186.4" stroke-opacity="0.25" stroke-width="0.6"/><path d="M342.8,221.5Q351.9,222.0 361.1,222.5" stroke-opacity="0.19" stroke-width="0.7"/><path d="M329.7,179.5Q334.7,180.6 339.8,181.7" stroke-opacity="0.23" stroke-width="0.9"/><path d="M328.4,219.2Q331.7,219.4 335.0,219.6" stroke-opacity="0.10" stroke-width="0.7"/><path d="M313.6,173.7Q324.1,176.3 334.6,178.8" stroke-opacity="0.11" stroke-width="0.6"/><path d="M310.9,200.7Q315.8,201.4 320.6,202.0" stroke-opacity="0.08" stroke-width="0.7"/><path d="M326.3,164.9Q333.0,166.8 339.7,168.6" stroke-opacity="0.20" stroke-width="0.7"/><path d="M347.4,190.3Q356.9,192.0 366.4,193.7" stroke-opacity="0.25" stroke-width="0.6"/><path d="M322.6,217.2Q328.1,217.6 333.5,218.0" stroke-opacity="0.21" stroke-width="0.8"/><path d="M353.8,223.2Q363.4,223.7 373.0,224.1" stroke-opacity="0.11" stroke-width="0.7"/><path d="M337.2,191.2Q343.0,192.3 348.9,193.3" stroke-opacity="0.13" stroke-width="0.8"/><path d="M342.7,165.2Q347.5,166.6 352.3,168.0" stroke-opacity="0.14" stroke-width="0.6"/><path d="M342.1,156.8Q345.4,157.9 348.8,159.0" stroke-opacity="0.09" stroke-width="0.5"/><path d="M359.0,154.8Q365.3,156.9 371.6,158.9" stroke-opacity="0.22" stroke-width="0.7"/><path d="M299.0,215.2Q308.9,216.0 318.8,216.8" stroke-opacity="0.09" stroke-width="0.6"/><path d="M338.7,209.9Q344.8,210.5 350.9,211.1" stroke-opacity="0.21" stroke-width="0.6"/><path d="M360.9,172.3Q366.4,173.7 371.9,175.0" stroke-opacity="0.22" stroke-width="0.8"/><path d="M371.9,191.5Q378.2,192.6 384.4,193.6" stroke-opacity="0.21" stroke-width="0.7"/><path d="M374.4,210.5Q378.4,210.9 382.4,211.3" stroke-opacity="0.15" stroke-width="0.8"/><path d="M313.1,161.6Q316.0,162.5 319.0,163.4" stroke-opacity="0.19" stroke-width="0.9"/><path d="M384.8,155.9Q392.9,158.5 401.0,161.0" stroke-opacity="0.16" stroke-width="0.8"/><path d="M322.4,220.7Q333.3,221.3 344.2,221.9" stroke-opacity="0.09" stroke-width="0.8"/><path d="M299.3,149.6Q304.3,151.3 309.3,153.1" stroke-opacity="0.21" stroke-width="0.9"/><path d="M301.4,173.1Q304.5,173.9 307.6,174.7" stroke-opacity="0.18" stroke-width="0.7"/><path d="M321.7,169.9Q330.8,172.3 340.0,174.6" stroke-opacity="0.23" stroke-width="0.6"/><path d="M323.7,195.1Q332.7,196.5 341.8,197.9" stroke-opacity="0.26" stroke-width="0.7"/><path d="M354.9,189.2Q364.2,190.9 373.4,192.5" stroke-opacity="0.11" stroke-width="0.6"/><path d="M298.1,221.0Q303.1,221.3 308.1,221.6" stroke-opacity="0.17" stroke-width="0.5"/><path d="M318.6,147.0Q325.7,149.5 332.8,152.0" stroke-opacity="0.11" stroke-width="0.8"/><path d="M313.9,164.0Q320.5,165.9 327.1,167.7" stroke-opacity="0.15" stroke-width="0.6"/><path d="M287.7,149.7Q297.3,153.1 306.9,156.3" stroke-opacity="0.14" stroke-width="0.5"/><path d="M300.2,183.8Q311.0,186.0 321.8,188.1" stroke-opacity="0.12" stroke-width="0.8"/><path d="M333.1,178.5Q342.4,180.6 351.6,182.6" stroke-opacity="0.15" stroke-width="0.5"/><path d="M341.4,198.4Q349.3,199.6 357.2,200.7" stroke-opacity="0.13" stroke-width="0.9"/><path d="M375.4,225.8Q381.9,226.1 388.5,226.3" stroke-opacity="0.23" stroke-width="0.8"/><path d="M306.2,148.6Q310.3,150.1 314.4,151.5" stroke-opacity="0.10" stroke-width="0.5"/><path d="M323.9,206.5Q329.3,207.2 334.8,207.8" stroke-opacity="0.17" stroke-width="0.5"/><path d="M310.8,223.2Q313.9,223.3 316.9,223.4" stroke-opacity="0.17" stroke-width="0.8"/><path d="M368.2,205.0Q374.4,205.7 380.5,206.5" stroke-opacity="0.22" stroke-width="0.8"/><path d="M368.0,225.2Q371.8,225.4 375.6,225.5" stroke-opacity="0.25" stroke-width="0.7"/><path d="M355.5,164.9Q365.3,167.7 375.3,170.4" stroke-opacity="0.08" stroke-width="0.7"/><path d="M309.8,177.1Q315.6,178.5 321.4,179.8" stroke-opacity="0.20" stroke-width="0.8"/><path d="M324.2,197.2Q329.9,198.1 335.7,198.9" stroke-opacity="0.13" stroke-width="0.9"/><path d="M320.1,153.6Q325.4,155.4 330.8,157.2" stroke-opacity="0.21" stroke-width="0.6"/><path d="M361.0,189.4Q369.3,190.9 377.6,192.4" stroke-opacity="0.11" stroke-width="0.5"/><path d="M300.6,174.0Q306.9,175.5 313.1,177.0" stroke-opacity="0.08" stroke-width="0.7"/><path d="M326.9,171.4Q333.9,173.3 341.0,175.0" stroke-opacity="0.25" stroke-width="0.6"/><path d="M374.8,170.9Q383.6,173.2 392.3,175.4" stroke-opacity="0.10" stroke-width="0.9"/><path d="M332.0,223.3Q336.7,223.6 341.5,223.8" stroke-opacity="0.15" stroke-width="0.8"/><path d="M302.4,167.2Q310.5,169.5 318.6,171.6" stroke-opacity="0.25" stroke-width="0.6"/><path d="M300.5,173.4Q311.1,176.1 321.7,178.6" stroke-opacity="0.11" stroke-width="0.8"/><path d="M326.7,197.9Q331.3,198.5 336.0,199.2" stroke-opacity="0.19" stroke-width="0.9"/><path d="M374.1,196.3Q381.1,197.4 388.0,198.4" stroke-opacity="0.18" stroke-width="0.5"/><path d="M372.5,201.3Q379.1,202.2 385.7,203.0" stroke-opacity="0.20" stroke-width="0.7"/><path d="M324.5,163.9Q332.0,166.1 339.5,168.2" stroke-opacity="0.18" stroke-width="0.7"/><path d="M288.9,196.2Q295.3,197.3 301.8,198.2" stroke-opacity="0.19" stroke-width="0.7"/><path d="M382.4,157.9Q388.9,159.9 395.3,161.9" stroke-opacity="0.26" stroke-width="0.8"/><path d="M313.7,204.5Q324.5,205.9 335.4,207.1" stroke-opacity="0.15" stroke-width="0.8"/><path d="M298.3,225.5Q305.2,225.7 312.1,226.0" stroke-opacity="0.12" stroke-width="0.8"/><path d="M349.9,221.1Q359.5,221.6 369.1,222.1" stroke-opacity="0.22" stroke-width="0.7"/><path d="M385.9,149.8Q395.3,153.1 404.8,156.3" stroke-opacity="0.21" stroke-width="0.6"/><path d="M368.8,182.1Q375.9,183.7 383.1,185.1" stroke-opacity="0.24" stroke-width="0.6"/><path d="M317.5,198.0Q321.1,198.5 324.6,199.1" stroke-opacity="0.18" stroke-width="0.8"/><path d="M334.0,164.4Q343.0,167.0 352.1,169.5" stroke-opacity="0.23" stroke-width="0.8"/><path d="M339.8,218.5Q349.1,219.1 358.5,219.7" stroke-opacity="0.11" stroke-width="0.6"/><path d="M297.0,149.0Q302.4,150.9 307.9,152.8" stroke-opacity="0.24" stroke-width="0.8"/><path d="M298.4,160.5Q304.2,162.3 310.1,164.0" stroke-opacity="0.23" stroke-width="0.7"/><path d="M375.5,150.1Q385.8,153.7 396.1,157.1" stroke-opacity="0.12" stroke-width="0.8"/><path d="M378.6,204.6Q383.2,205.1 387.7,205.7" stroke-opacity="0.20" stroke-width="0.7"/><path d="M288.2,173.3Q293.6,174.7 299.0,176.0" stroke-opacity="0.19" stroke-width="0.6"/><path d="M350.3,202.0Q354.7,202.5 359.1,203.1" stroke-opacity="0.10" stroke-width="0.8"/><path d="M336.8,156.9Q340.5,158.1 344.3,159.3" stroke-opacity="0.25" stroke-width="0.7"/><path d="M318.7,160.2Q329.2,163.4 339.7,166.5" stroke-opacity="0.20" stroke-width="0.8"/><path d="M323.4,170.8Q329.5,172.4 335.5,173.9" stroke-opacity="0.11" stroke-width="0.8"/><path d="M329.9,211.8Q336.2,212.4 342.4,212.9" stroke-opacity="0.16" stroke-width="0.7"/><path d="M381.6,173.1Q389.9,175.2 398.3,177.2" stroke-opacity="0.12" stroke-width="0.7"/><path d="M316.4,216.1Q321.6,216.5 326.9,216.9" stroke-opacity="0.23" stroke-width="0.8"/><path d="M333.2,221.0Q339.3,221.3 345.4,221.6" stroke-opacity="0.21" stroke-width="0.7"/><path d="M332.6,151.0Q338.6,153.1 344.7,155.1" stroke-opacity="0.13" stroke-width="0.7"/><path d="M383.0,168.8Q391.3,171.0 399.6,173.1" stroke-opacity="0.20" stroke-width="0.6"/><path d="M325.1,155.3Q334.8,158.4 344.5,161.4" stroke-opacity="0.13" stroke-width="0.7"/><path d="M317.8,211.5Q327.5,212.4 337.3,213.3" stroke-opacity="0.19" stroke-width="0.7"/><path d="M298.6,218.1Q302.3,218.4 306.0,218.6" stroke-opacity="0.15" stroke-width="0.6"/><path d="M361.5,199.7Q367.2,200.5 372.9,201.3" stroke-opacity="0.24" stroke-width="0.9"/><path d="M287.7,196.7Q294.4,197.7 301.1,198.7" stroke-opacity="0.15" stroke-width="0.7"/><path d="M317.1,199.6Q324.9,200.7 332.6,201.7" stroke-opacity="0.25" stroke-width="0.9"/><path d="M385.9,176.8Q395.2,179.0 404.6,181.1" stroke-opacity="0.20" stroke-width="0.8"/><path d="M389.4,151.0Q395.7,153.2 402.1,155.4" stroke-opacity="0.15" stroke-width="0.8"/><path d="M310.0,225.5Q314.7,225.7 319.4,225.9" stroke-opacity="0.15" stroke-width="0.6"/><path d="M329.4,205.8Q333.0,206.2 336.7,206.7" stroke-opacity="0.11" stroke-width="0.8"/><path d="M351.8,205.7Q356.8,206.3 361.8,206.8" stroke-opacity="0.23" stroke-width="0.8"/><path d="M366.3,155.3Q372.7,157.4 379.1,159.4" stroke-opacity="0.08" stroke-width="0.8"/><path d="M387.0,218.1Q390.2,218.3 393.4,218.5" stroke-opacity="0.14" stroke-width="0.7"/><path d="M338.7,153.8Q347.5,156.8 356.4,159.6" stroke-opacity="0.13" stroke-width="0.7"/><path d="M301.0,191.9Q305.0,192.6 308.9,193.3" stroke-opacity="0.10" stroke-width="0.7"/><path d="M317.6,208.5Q322.6,209.0 327.5,209.5" stroke-opacity="0.15" stroke-width="0.5"/><path d="M307.3,181.9Q314.6,183.5 321.9,185.0" stroke-opacity="0.16" stroke-width="0.8"/><path d="M298.6,214.4Q302.9,214.7 307.1,215.1" stroke-opacity="0.25" stroke-width="0.7"/><path d="M324.5,194.5Q334.3,196.1 344.1,197.6" stroke-opacity="0.25" stroke-width="0.7"/><path d="M284.0,157.2Q293.1,160.1 302.2,162.9" stroke-opacity="0.21" stroke-width="0.8"/><path d="M305.1,189.1Q308.3,189.7 311.5,190.3" stroke-opacity="0.10" stroke-width="0.6"/><path d="M382.8,197.0Q392.5,198.5 402.2,199.9" stroke-opacity="0.09" stroke-width="0.7"/><path d="M296.4,167.4Q300.1,168.5 303.9,169.5" stroke-opacity="0.25" stroke-width="0.6"/><path d="M332.9,197.9Q342.9,199.4 352.8,200.8" stroke-opacity="0.25" stroke-width="0.7"/><path d="M338.0,218.5Q344.1,219.0 350.2,219.4" stroke-opacity="0.13" stroke-width="0.8"/><path d="M312.6,175.4Q318.9,176.9 325.1,178.4" stroke-opacity="0.17" stroke-width="0.6"/><path d="M333.4,182.7Q336.8,183.4 340.1,184.1" stroke-opacity="0.23" stroke-width="0.5"/><path d="M340.8,189.9Q346.9,191.0 353.0,192.1" stroke-opacity="0.12" stroke-width="0.5"/><path d="M324.0,171.0Q330.7,172.7 337.3,174.4" stroke-opacity="0.12" stroke-width="0.8"/><path d="M336.8,146.6Q342.7,148.7 348.6,150.8" stroke-opacity="0.25" stroke-width="0.5"/><path d="M347.8,223.1Q353.7,223.4 359.6,223.7" stroke-opacity="0.19" stroke-width="0.6"/><path d="M315.7,194.6Q323.3,195.8 330.9,197.0" stroke-opacity="0.14" stroke-width="0.7"/><path d="M342.3,206.8Q345.7,207.2 349.1,207.6" stroke-opacity="0.10" stroke-width="0.6"/><path d="M313.7,209.8Q320.1,210.5 326.5,211.1" stroke-opacity="0.23" stroke-width="0.7"/><path d="M318.1,200.9Q321.7,201.4 325.4,201.9" stroke-opacity="0.26" stroke-width="0.8"/><path d="M316.9,170.5Q326.1,172.9 335.4,175.2" stroke-opacity="0.22" stroke-width="0.8"/><path d="M294.5,207.6Q297.9,207.9 301.3,208.3" stroke-opacity="0.19" stroke-width="0.7"/><path d="M385.3,197.7Q388.4,198.1 391.6,198.6" stroke-opacity="0.25" stroke-width="0.8"/><path d="M344.0,145.4Q352.3,148.5 360.7,151.4" stroke-opacity="0.16" stroke-width="0.8"/><path d="M390.7,219.7Q394.3,220.0 397.9,220.2" stroke-opacity="0.22" stroke-width="0.7"/><path d="M363.8,176.1Q370.2,177.7 376.6,179.1" stroke-opacity="0.16" stroke-width="0.5"/><path d="M321.7,205.2Q325.3,205.7 328.8,206.1" stroke-opacity="0.10" stroke-width="0.8"/><path d="M357.4,190.3Q361.3,191.0 365.1,191.7" stroke-opacity="0.10" stroke-width="0.6"/><path d="M381.0,190.2Q391.2,192.0 401.4,193.7" stroke-opacity="0.12" stroke-width="0.7"/><path d="M343.8,213.5Q347.8,213.9 351.8,214.2" stroke-opacity="0.24" stroke-width="0.7"/><path d="M289.4,180.6Q295.3,181.9 301.1,183.2" stroke-opacity="0.20" stroke-width="0.9"/><path d="M337.3,201.3Q343.3,202.1 349.4,202.9" stroke-opacity="0.22" stroke-width="0.5"/><path d="M361.9,158.8Q369.2,161.1 376.6,163.3" stroke-opacity="0.12" stroke-width="0.6"/><path d="M301.5,173.6Q309.0,175.5 316.6,177.3" stroke-opacity="0.17" stroke-width="0.7"/><path d="M345.9,213.6Q351.7,214.1 357.6,214.6" stroke-opacity="0.19" stroke-width="0.7"/><path d="M385.7,171.6Q394.0,173.8 402.3,175.8" stroke-opacity="0.12" stroke-width="0.6"/><path d="M363.0,192.3Q368.0,193.1 372.9,194.0" stroke-opacity="0.09" stroke-width="0.8"/><path d="M324.9,203.4Q331.3,204.3 337.7,205.0" stroke-opacity="0.19" stroke-width="0.7"/><path d="M386.8,219.0Q393.5,219.4 400.1,219.8" stroke-opacity="0.17" stroke-width="0.6"/><path d="M365.1,154.3Q370.3,156.0 375.5,157.7" stroke-opacity="0.23" stroke-width="0.5"/><path d="M357.3,191.3Q364.6,192.6 371.9,193.8" stroke-opacity="0.14" stroke-width="0.6"/><path d="M381.5,207.0Q390.9,208.0 400.3,209.0" stroke-opacity="0.10" stroke-width="0.8"/><path d="M307.7,161.6Q314.7,163.7 321.7,165.7" stroke-opacity="0.19" stroke-width="0.5"/><path d="M361.5,192.0Q371.5,193.7 381.6,195.4" stroke-opacity="0.25" stroke-width="0.8"/><path d="M321.1,222.2Q329.9,222.7 338.6,223.1" stroke-opacity="0.13" stroke-width="0.8"/><path d="M362.8,167.5Q367.6,168.8 372.4,170.1" stroke-opacity="0.08" stroke-width="0.7"/><path d="M313.5,169.7Q318.4,171.0 323.2,172.3" stroke-opacity="0.10" stroke-width="0.7"/><path d="M315.3,169.0Q320.3,170.4 325.4,171.7" stroke-opacity="0.17" stroke-width="0.8"/><path d="M298.8,214.7Q308.6,215.5 318.5,216.2" stroke-opacity="0.19" stroke-width="0.7"/><path d="M360.2,188.5Q368.3,190.0 376.5,191.4" stroke-opacity="0.25" stroke-width="0.8"/><path d="M309.1,148.8Q319.0,152.3 329.0,155.6" stroke-opacity="0.15" stroke-width="0.8"/></g><g fill="none" stroke="#55606c" stroke-linecap="round" filter="url(#soft)"><path d="M301.8,201.2Q309.2,202.2 316.5,203.1" stroke-opacity="0.15" stroke-width="0.6"/><path d="M367.9,210.8Q374.4,211.4 381.0,212.0" stroke-opacity="0.15" stroke-width="0.6"/><path d="M285.4,175.5Q292.3,177.1 299.2,178.7" stroke-opacity="0.09" stroke-width="0.8"/><path d="M313.0,165.4Q316.2,166.3 319.3,167.2" stroke-opacity="0.22" stroke-width="0.8"/><path d="M379.8,195.8Q383.0,196.3 386.2,196.8" stroke-opacity="0.13" stroke-width="0.7"/><path d="M298.5,222.4Q304.0,222.7 309.6,223.0" stroke-opacity="0.10" stroke-width="0.8"/><path d="M298.8,220.5Q305.0,220.8 311.1,221.2" stroke-opacity="0.16" stroke-width="0.6"/><path d="M339.3,161.7Q342.4,162.7 345.5,163.6" stroke-opacity="0.20" stroke-width="0.6"/><path d="M363.8,161.6Q373.1,164.4 382.5,167.1" stroke-opacity="0.21" stroke-width="0.8"/><path d="M363.3,192.2Q371.3,193.6 379.3,194.9" stroke-opacity="0.10" stroke-width="0.7"/><path d="M368.9,161.1Q378.0,163.8 387.1,166.4" stroke-opacity="0.20" stroke-width="0.7"/><path d="M324.4,182.2Q330.0,183.4 335.6,184.6" stroke-opacity="0.22" stroke-width="0.7"/><path d="M287.2,152.8Q294.8,155.3 302.4,157.8" stroke-opacity="0.22" stroke-width="0.7"/><path d="M335.0,189.7Q343.1,191.2 351.2,192.6" stroke-opacity="0.11" stroke-width="0.7"/><path d="M345.7,196.2Q349.9,196.9 354.1,197.5" stroke-opacity="0.10" stroke-width="0.6"/><path d="M381.4,173.5Q388.4,175.2 395.4,176.9" stroke-opacity="0.12" stroke-width="0.5"/><path d="M290.4,211.1Q298.8,211.9 307.2,212.7" stroke-opacity="0.13" stroke-width="0.8"/><path d="M352.6,217.9Q362.3,218.6 372.0,219.2" stroke-opacity="0.14" stroke-width="0.9"/><path d="M382.9,192.8Q392.0,194.4 401.1,195.8" stroke-opacity="0.15" stroke-width="0.7"/><path d="M313.6,216.5Q317.7,216.8 321.8,217.1" stroke-opacity="0.09" stroke-width="0.8"/><path d="M363.8,184.2Q372.5,186.0 381.2,187.6" stroke-opacity="0.09" stroke-width="0.6"/><path d="M318.1,180.0Q322.1,180.9 326.2,181.8" stroke-opacity="0.09" stroke-width="0.6"/><path d="M377.3,224.9Q385.5,225.2 393.7,225.5" stroke-opacity="0.15" stroke-width="0.6"/><path d="M383.8,187.8Q391.7,189.3 399.7,190.7" stroke-opacity="0.08" stroke-width="0.6"/><path d="M370.1,209.5Q379.2,210.4 388.3,211.3" stroke-opacity="0.16" stroke-width="0.7"/><path d="M347.3,214.2Q352.4,214.7 357.6,215.1" stroke-opacity="0.15" stroke-width="0.6"/><path d="M364.6,146.1Q371.9,148.8 379.2,151.4" stroke-opacity="0.21" stroke-width="0.5"/><path d="M344.9,197.2Q353.7,198.6 362.6,199.8" stroke-opacity="0.16" stroke-width="0.6"/><path d="M324.9,222.8Q334.2,223.3 343.5,223.7" stroke-opacity="0.10" stroke-width="0.5"/><path d="M296.0,147.9Q301.8,150.0 307.6,152.0" stroke-opacity="0.10" stroke-width="0.8"/><path d="M353.7,155.9Q360.1,158.0 366.6,160.0" stroke-opacity="0.13" stroke-width="0.7"/><path d="M310.7,159.8Q314.8,161.0 318.9,162.3" stroke-opacity="0.13" stroke-width="0.8"/><path d="M341.7,149.0Q349.2,151.7 356.7,154.2" stroke-opacity="0.20" stroke-width="0.8"/><path d="M368.4,146.5Q374.2,148.6 380.1,150.7" stroke-opacity="0.09" stroke-width="0.8"/><path d="M305.5,203.3Q310.2,203.9 315.0,204.4" stroke-opacity="0.18" stroke-width="0.6"/><path d="M291.3,177.4Q296.4,178.5 301.4,179.7" stroke-opacity="0.21" stroke-width="0.6"/><path d="M334.8,189.4Q344.3,191.1 353.8,192.8" stroke-opacity="0.09" stroke-width="0.7"/><path d="M335.2,204.5Q344.9,205.7 354.6,206.8" stroke-opacity="0.12" stroke-width="0.8"/><path d="M343.3,191.4Q346.7,192.0 350.1,192.6" stroke-opacity="0.19" stroke-width="0.9"/><path d="M319.3,170.5Q328.9,173.0 338.6,175.4" stroke-opacity="0.10" stroke-width="0.5"/><path d="M291.3,211.1Q299.6,211.9 307.9,212.7" stroke-opacity="0.14" stroke-width="0.7"/><path d="M288.0,197.7Q294.1,198.6 300.1,199.5" stroke-opacity="0.15" stroke-width="0.7"/><path d="M330.5,164.8Q333.8,165.7 337.0,166.6" stroke-opacity="0.14" stroke-width="0.6"/><path d="M357.2,211.4Q365.2,212.2 373.3,212.9" stroke-opacity="0.14" stroke-width="0.6"/><path d="M324.8,184.8Q332.1,186.2 339.4,187.6" stroke-opacity="0.21" stroke-width="0.5"/><path d="M334.0,185.0Q341.9,186.6 349.8,188.1" stroke-opacity="0.20" stroke-width="0.8"/><path d="M349.6,206.7Q357.2,207.6 364.8,208.4" stroke-opacity="0.20" stroke-width="0.8"/><path d="M354.0,164.7Q363.0,167.3 372.1,169.8" stroke-opacity="0.13" stroke-width="0.7"/><path d="M367.9,223.2Q377.8,223.7 387.7,224.1" stroke-opacity="0.08" stroke-width="0.6"/><path d="M320.5,177.8Q324.4,178.7 328.3,179.6" stroke-opacity="0.16" stroke-width="0.5"/><path d="M315.3,221.6Q323.5,222.1 331.7,222.5" stroke-opacity="0.14" stroke-width="0.5"/><path d="M387.0,202.7Q391.4,203.3 395.8,203.8" stroke-opacity="0.13" stroke-width="0.8"/><path d="M353.6,165.9Q362.9,168.5 372.2,171.0" stroke-opacity="0.13" stroke-width="0.6"/><path d="M372.5,157.7Q379.9,160.1 387.3,162.3" stroke-opacity="0.11" stroke-width="0.7"/><path d="M311.5,175.5Q320.8,177.8 330.2,179.9" stroke-opacity="0.15" stroke-width="0.7"/><path d="M352.1,168.9Q356.2,170.0 360.3,171.1" stroke-opacity="0.13" stroke-width="0.6"/><path d="M308.4,223.3Q311.6,223.4 314.8,223.6" stroke-opacity="0.19" stroke-width="0.9"/><path d="M359.2,147.3Q365.3,149.5 371.4,151.7" stroke-opacity="0.09" stroke-width="0.7"/><path d="M361.9,166.0Q364.8,166.9 367.8,167.7" stroke-opacity="0.16" stroke-width="0.5"/><path d="M315.1,181.7Q324.1,183.7 333.2,185.5" stroke-opacity="0.13" stroke-width="0.6"/><path d="M367.7,211.9Q374.3,212.6 381.0,213.2" stroke-opacity="0.09" stroke-width="0.6"/><path d="M329.4,190.5Q333.9,191.3 338.4,192.1" stroke-opacity="0.19" stroke-width="0.8"/><path d="M385.1,217.1Q388.2,217.4 391.3,217.6" stroke-opacity="0.16" stroke-width="0.5"/><path d="M377.3,205.7Q385.6,206.6 393.8,207.6" stroke-opacity="0.11" stroke-width="0.5"/><path d="M369.5,194.4Q376.8,195.6 384.0,196.8" stroke-opacity="0.15" stroke-width="0.8"/><path d="M321.9,167.7Q327.1,169.2 332.4,170.6" stroke-opacity="0.12" stroke-width="0.8"/><path d="M381.3,152.5Q384.6,153.6 387.9,154.7" stroke-opacity="0.15" stroke-width="0.8"/><path d="M308.4,168.3Q311.7,169.2 315.0,170.1" stroke-opacity="0.09" stroke-width="0.7"/><path d="M358.7,198.7Q362.8,199.3 366.9,199.9" stroke-opacity="0.09" stroke-width="0.9"/><path d="M340.4,178.3Q348.0,180.1 355.7,181.8" stroke-opacity="0.18" stroke-width="0.7"/><path d="M295.7,212.5Q300.1,212.9 304.6,213.3" stroke-opacity="0.09" stroke-width="0.6"/><path d="M343.2,196.7Q347.4,197.3 351.6,197.9" stroke-opacity="0.18" stroke-width="0.7"/><path d="M300.2,214.1Q308.8,214.8 317.5,215.5" stroke-opacity="0.21" stroke-width="0.8"/><path d="M305.3,208.1Q314.6,209.1 323.9,210.0" stroke-opacity="0.15" stroke-width="0.9"/><path d="M383.6,176.4Q392.9,178.7 402.3,180.8" stroke-opacity="0.21" stroke-width="0.8"/><path d="M286.1,173.9Q293.2,175.6 300.3,177.3" stroke-opacity="0.17" stroke-width="0.8"/><path d="M350.2,157.8Q359.3,160.7 368.4,163.4" stroke-opacity="0.16" stroke-width="0.9"/><path d="M306.6,226.1Q313.5,226.4 320.4,226.6" stroke-opacity="0.19" stroke-width="0.8"/><path d="M380.3,175.6Q383.8,176.4 387.3,177.3" stroke-opacity="0.14" stroke-width="0.6"/><path d="M342.6,211.5Q348.1,212.0 353.7,212.5" stroke-opacity="0.10" stroke-width="0.5"/><path d="M332.8,193.0Q336.0,193.6 339.1,194.1" stroke-opacity="0.17" stroke-width="0.6"/><path d="M296.5,220.4Q303.1,220.8 309.8,221.2" stroke-opacity="0.21" stroke-width="0.7"/><path d="M299.0,165.2Q304.8,166.9 310.5,168.4" stroke-opacity="0.17" stroke-width="0.8"/><path d="M365.4,198.4Q370.1,199.1 374.9,199.8" stroke-opacity="0.14" stroke-width="0.7"/><path d="M336.4,167.0Q342.9,168.9 349.4,170.6" stroke-opacity="0.14" stroke-width="0.5"/><path d="M369.1,192.6Q377.6,194.1 386.1,195.4" stroke-opacity="0.18" stroke-width="0.8"/><path d="M389.7,176.3Q395.3,177.6 400.9,178.9" stroke-opacity="0.08" stroke-width="0.8"/><path d="M342.6,191.6Q352.5,193.3 362.3,194.9" stroke-opacity="0.11" stroke-width="0.6"/><path d="M362.0,211.2Q368.4,211.8 374.7,212.4" stroke-opacity="0.09" stroke-width="0.6"/><path d="M371.8,186.0Q377.9,187.2 384.1,188.4" stroke-opacity="0.13" stroke-width="0.8"/><path d="M345.3,201.2Q354.2,202.4 363.2,203.6" stroke-opacity="0.19" stroke-width="0.6"/><path d="M309.5,208.5Q318.0,209.4 326.5,210.3" stroke-opacity="0.21" stroke-width="0.6"/><path d="M376.6,217.7Q380.2,217.9 383.7,218.2" stroke-opacity="0.12" stroke-width="0.8"/><path d="M302.4,212.8Q307.2,213.2 312.0,213.7" stroke-opacity="0.18" stroke-width="0.6"/><path d="M308.5,162.4Q314.7,164.3 320.9,166.0" stroke-opacity="0.18" stroke-width="0.6"/><path d="M356.1,172.5Q363.4,174.3 370.7,176.1" stroke-opacity="0.13" stroke-width="0.6"/><path d="M299.2,149.9Q306.7,152.6 314.1,155.1" stroke-opacity="0.14" stroke-width="0.5"/><path d="M380.5,198.9Q383.6,199.4 386.7,199.8" stroke-opacity="0.18" stroke-width="0.7"/><path d="M328.6,185.4Q338.1,187.3 347.7,189.1" stroke-opacity="0.13" stroke-width="0.8"/><path d="M352.8,175.4Q358.1,176.7 363.4,178.0" stroke-opacity="0.19" stroke-width="0.8"/><path d="M335.0,187.5Q339.5,188.3 344.0,189.2" stroke-opacity="0.19" stroke-width="0.5"/><path d="M354.4,182.8Q358.9,183.7 363.3,184.6" stroke-opacity="0.16" stroke-width="0.7"/><path d="M296.9,185.7Q301.0,186.5 305.1,187.3" stroke-opacity="0.19" stroke-width="0.6"/><path d="M322.9,164.0Q326.1,164.9 329.4,165.8" stroke-opacity="0.11" stroke-width="0.6"/><path d="M352.4,214.1Q356.9,214.5 361.4,214.9" stroke-opacity="0.10" stroke-width="0.7"/><path d="M295.9,178.0Q304.0,179.8 312.2,181.6" stroke-opacity="0.11" stroke-width="0.8"/><path d="M343.6,153.2Q348.0,154.7 352.5,156.1" stroke-opacity="0.16" stroke-width="0.5"/><path d="M304.6,191.8Q313.2,193.3 321.8,194.7" stroke-opacity="0.15" stroke-width="0.8"/><path d="M287.9,170.4Q292.9,171.8 298.0,173.1" stroke-opacity="0.21" stroke-width="0.6"/><path d="M367.5,148.5Q373.6,150.7 379.7,152.8" stroke-opacity="0.20" stroke-width="0.8"/><path d="M343.2,159.5Q352.3,162.3 361.4,165.0" stroke-opacity="0.09" stroke-width="0.9"/><path d="M366.1,203.7Q372.7,204.5 379.4,205.3" stroke-opacity="0.10" stroke-width="0.6"/><path d="M355.4,198.7Q361.0,199.5 366.7,200.3" stroke-opacity="0.19" stroke-width="0.5"/><path d="M316.9,153.4Q321.9,155.1 326.9,156.7" stroke-opacity="0.19" stroke-width="0.8"/><path d="M303.9,171.3Q307.5,172.2 311.2,173.1" stroke-opacity="0.17" stroke-width="0.7"/><path d="M307.3,175.3Q316.1,177.4 324.9,179.4" stroke-opacity="0.14" stroke-width="0.8"/><path d="M350.5,183.8Q357.3,185.2 364.0,186.5" stroke-opacity="0.13" stroke-width="0.6"/><path d="M338.3,170.6Q343.4,171.9 348.6,173.2" stroke-opacity="0.11" stroke-width="0.9"/><path d="M333.2,162.8Q336.3,163.7 339.3,164.6" stroke-opacity="0.11" stroke-width="0.8"/><path d="M322.5,199.7Q327.0,200.4 331.6,201.0" stroke-opacity="0.17" stroke-width="0.7"/><path d="M363.1,188.5Q368.6,189.5 374.1,190.5" stroke-opacity="0.12" stroke-width="0.7"/><path d="M372.2,201.4Q378.5,202.3 384.8,203.1" stroke-opacity="0.13" stroke-width="0.9"/><path d="M372.6,157.1Q380.0,159.5 387.4,161.7" stroke-opacity="0.19" stroke-width="0.8"/><path d="M387.6,216.7Q392.3,217.0 397.0,217.3" stroke-opacity="0.22" stroke-width="0.6"/><path d="M327.3,224.5Q331.5,224.6 335.7,224.8" stroke-opacity="0.14" stroke-width="0.8"/><path d="M312.1,166.7Q320.4,169.0 328.6,171.2" stroke-opacity="0.17" stroke-width="0.8"/><path d="M364.9,215.8Q374.2,216.5 383.4,217.1" stroke-opacity="0.20" stroke-width="0.9"/><path d="M337.4,202.2Q343.9,203.1 350.5,203.9" stroke-opacity="0.22" stroke-width="0.8"/><path d="M331.8,199.4Q336.8,200.1 341.8,200.8" stroke-opacity="0.10" stroke-width="0.7"/><path d="M302.8,147.1Q306.2,148.3 309.7,149.6" stroke-opacity="0.14" stroke-width="0.8"/><path d="M293.3,197.4Q297.0,198.0 300.8,198.5" stroke-opacity="0.15" stroke-width="0.6"/><path d="M332.5,203.1Q338.4,203.9 344.2,204.6" stroke-opacity="0.13" stroke-width="0.8"/><path d="M296.4,173.5Q304.0,175.4 311.7,177.2" stroke-opacity="0.20" stroke-width="0.9"/><path d="M313.6,196.3Q318.7,197.1 323.9,197.9" stroke-opacity="0.18" stroke-width="0.8"/><path d="M296.8,172.8Q306.0,175.1 315.3,177.3" stroke-opacity="0.13" stroke-width="0.8"/><path d="M368.9,167.7Q377.1,169.9 385.3,172.0" stroke-opacity="0.08" stroke-width="0.6"/><path d="M305.0,174.1Q309.4,175.2 313.7,176.2" stroke-opacity="0.08" stroke-width="0.8"/><path d="M303.3,191.8Q310.0,193.0 316.8,194.1" stroke-opacity="0.20" stroke-width="0.8"/><path d="M348.7,158.8Q356.6,161.3 364.6,163.7" stroke-opacity="0.09" stroke-width="0.9"/><path d="M319.7,166.6Q324.1,167.9 328.4,169.0" stroke-opacity="0.14" stroke-width="0.8"/><path d="M372.9,205.6Q380.9,206.6 389.0,207.5" stroke-opacity="0.11" stroke-width="0.6"/><path d="M314.7,180.1Q323.6,182.0 332.6,183.9" stroke-opacity="0.22" stroke-width="0.5"/><path d="M386.1,219.7Q392.3,220.1 398.5,220.5" stroke-opacity="0.18" stroke-width="0.8"/><path d="M301.7,194.8Q311.4,196.4 321.2,197.9" stroke-opacity="0.20" stroke-width="0.9"/><path d="M294.5,203.3Q300.8,204.1 307.2,204.9" stroke-opacity="0.21" stroke-width="0.6"/><path d="M340.9,154.8Q349.1,157.5 357.3,160.1" stroke-opacity="0.18" stroke-width="0.5"/><path d="M317.1,156.9Q324.2,159.1 331.3,161.3" stroke-opacity="0.17" stroke-width="0.5"/><path d="M384.8,223.5Q390.9,223.8 397.0,224.0" stroke-opacity="0.16" stroke-width="0.6"/><path d="M349.1,177.9Q355.0,179.3 361.0,180.6" stroke-opacity="0.18" stroke-width="0.6"/><path d="M318.5,207.4Q323.0,208.0 327.6,208.4" stroke-opacity="0.09" stroke-width="0.9"/><path d="M303.5,179.1Q308.6,180.3 313.7,181.4" stroke-opacity="0.12" stroke-width="0.6"/><path d="M341.5,155.0Q347.9,157.1 354.3,159.2" stroke-opacity="0.09" stroke-width="0.5"/><path d="M307.8,165.4Q313.0,166.9 318.2,168.3" stroke-opacity="0.12" stroke-width="0.8"/><path d="M352.2,183.5Q360.4,185.2 368.7,186.8" stroke-opacity="0.18" stroke-width="0.6"/><path d="M349.4,205.7Q356.1,206.5 362.7,207.3" stroke-opacity="0.19" stroke-width="0.8"/><path d="M381.1,166.7Q388.5,168.8 395.9,170.7" stroke-opacity="0.22" stroke-width="0.7"/><path d="M378.5,152.9Q386.1,155.5 393.8,157.9" stroke-opacity="0.12" stroke-width="0.8"/><path d="M331.4,189.1Q336.0,190.0 340.7,190.8" stroke-opacity="0.12" stroke-width="0.8"/><path d="M355.1,196.8Q358.9,197.4 362.7,197.9" stroke-opacity="0.12" stroke-width="0.9"/><path d="M305.4,188.8Q313.1,190.2 320.9,191.6" stroke-opacity="0.15" stroke-width="0.7"/></g><circle cx="293.3" cy="156.8" r="0.94" fill="url(#blob)" opacity="0.67"/><circle cx="306.4" cy="156.8" r="0.84" fill="url(#blob)" opacity="0.7"/><circle cx="307.3" cy="206.1" r="1.1" fill="url(#blob)" opacity="0.45"/><circle cx="347.7" cy="183.1" r="0.95" fill="url(#blob)" opacity="0.8"/><circle cx="301.7" cy="149.6" r="1.26" fill="url(#blob)" opacity="0.56"/><circle cx="312.6" cy="173.9" r="0.92" fill="url(#blob)" opacity="0.78"/><circle cx="313.9" cy="165.0" r="1.05" fill="url(#blob)" opacity="0.62"/><circle cx="391.2" cy="213.8" r="0.91" fill="url(#blob)" opacity="0.48"/><circle cx="379.0" cy="225.6" r="0.72" fill="url(#blob)" opacity="0.69"/></g>
<clipPath id="c11"><rect x="401" y="148" width="104" height="78.5"/></clipPath><g clip-path="url(#c11)"><rect x="401" y="148" width="104" height="78.5" fill="#6f717c"/><g fill="none" stroke="#c0c3cc" stroke-linecap="round" filter="url(#soft)"><path d="M420.4,184.5Q426.4,187.3 432.1,190.7" stroke-opacity="0.24" stroke-width="0.6"/><path d="M450.9,215.8Q458.6,220.5 465.7,226.0" stroke-opacity="0.27" stroke-width="0.7"/><path d="M451.6,188.6Q458.0,197.4 464.4,206.1" stroke-opacity="0.15" stroke-width="0.8"/><path d="M429.8,222.3Q443.2,224.6 455.9,229.4" stroke-opacity="0.09" stroke-width="0.6"/><path d="M445.0,208.3Q450.8,211.8 456.3,215.8" stroke-opacity="0.20" stroke-width="0.6"/><path d="M476.0,210.0Q482.7,220.8 489.5,231.4" stroke-opacity="0.12" stroke-width="0.7"/><path d="M437.8,209.6Q446.7,213.4 455.0,218.5" stroke-opacity="0.26" stroke-width="0.8"/><path d="M480.1,201.4Q486.7,212.8 493.3,224.3" stroke-opacity="0.20" stroke-width="0.6"/><path d="M498.9,182.1Q503.5,184.5 508.3,186.5" stroke-opacity="0.17" stroke-width="0.6"/><path d="M415.9,222.1Q421.9,223.5 427.9,224.5" stroke-opacity="0.26" stroke-width="0.7"/><path d="M411.2,171.6Q419.7,175.8 427.6,181.2" stroke-opacity="0.10" stroke-width="0.7"/><path d="M458.8,216.3Q468.9,224.9 478.4,234.3" stroke-opacity="0.24" stroke-width="0.8"/><path d="M490.7,191.1Q497.8,198.6 505.3,205.8" stroke-opacity="0.18" stroke-width="0.7"/><path d="M489.7,202.1Q497.3,213.2 504.6,224.4" stroke-opacity="0.09" stroke-width="0.6"/><path d="M399.4,192.0Q410.1,193.8 420.6,196.2" stroke-opacity="0.19" stroke-width="0.8"/><path d="M413.8,203.0Q424.5,204.9 434.9,208.1" stroke-opacity="0.12" stroke-width="0.8"/><path d="M396.4,182.5Q406.6,184.2 416.6,187.1" stroke-opacity="0.20" stroke-width="0.8"/><path d="M452.0,212.9Q458.4,217.5 464.6,222.5" stroke-opacity="0.18" stroke-width="0.5"/><path d="M460.7,170.2Q467.6,181.1 474.2,192.1" stroke-opacity="0.10" stroke-width="0.6"/><path d="M489.3,146.8Q500.7,148.8 512.1,151.1" stroke-opacity="0.22" stroke-width="0.7"/><path d="M451.5,174.8Q458.9,187.3 466.6,199.8" stroke-opacity="0.14" stroke-width="0.7"/><path d="M465.4,196.9Q470.5,205.2 475.8,213.4" stroke-opacity="0.08" stroke-width="0.7"/><path d="M415.5,206.2Q430.2,208.7 444.2,214.0" stroke-opacity="0.24" stroke-width="0.6"/><path d="M483.6,173.4Q490.0,178.4 496.9,182.9" stroke-opacity="0.19" stroke-width="0.7"/><path d="M467.7,183.6Q472.4,191.4 476.9,199.2" stroke-opacity="0.23" stroke-width="0.6"/><path d="M459.2,144.5Q464.0,148.5 469.1,152.3" stroke-opacity="0.25" stroke-width="0.6"/><path d="M437.3,141.4Q444.0,152.2 450.5,163.0" stroke-opacity="0.15" stroke-width="0.5"/><path d="M417.1,218.8Q429.5,220.9 441.8,223.6" stroke-opacity="0.08" stroke-width="0.8"/><path d="M398.4,183.9Q408.6,185.7 418.5,188.7" stroke-opacity="0.24" stroke-width="0.5"/><path d="M476.5,162.7Q486.5,170.0 497.7,175.4" stroke-opacity="0.27" stroke-width="0.7"/><path d="M392.1,198.1Q401.1,200.6 410.4,202.2" stroke-opacity="0.23" stroke-width="0.7"/><path d="M400.9,190.4Q412.2,192.3 423.3,195.4" stroke-opacity="0.27" stroke-width="0.7"/><path d="M460.9,203.1Q464.9,208.4 469.0,213.6" stroke-opacity="0.25" stroke-width="0.7"/><path d="M460.0,152.8Q467.1,160.2 474.4,167.3" stroke-opacity="0.16" stroke-width="0.6"/><path d="M493.5,206.5Q498.9,214.4 504.3,222.4" stroke-opacity="0.10" stroke-width="0.8"/><path d="M402.9,185.4Q413.3,187.4 423.4,191.0" stroke-opacity="0.25" stroke-width="0.7"/><path d="M456.4,175.5Q463.8,188.3 471.2,201.0" stroke-opacity="0.24" stroke-width="0.6"/><path d="M478.4,214.0Q483.6,222.4 489.0,230.7" stroke-opacity="0.10" stroke-width="0.5"/><path d="M489.1,160.8Q501.5,164.8 514.4,166.9" stroke-opacity="0.12" stroke-width="0.6"/><path d="M411.9,210.9Q417.7,212.0 423.5,213.0" stroke-opacity="0.17" stroke-width="0.7"/><path d="M452.4,144.9Q455.8,148.7 459.3,152.5" stroke-opacity="0.25" stroke-width="0.6"/><path d="M397.0,186.8Q409.7,188.9 422.1,192.5" stroke-opacity="0.14" stroke-width="0.5"/><path d="M408.3,180.8Q420.6,184.6 431.8,190.9" stroke-opacity="0.10" stroke-width="0.7"/><path d="M467.4,184.2Q471.9,191.8 476.4,199.4" stroke-opacity="0.09" stroke-width="0.7"/><path d="M439.2,198.1Q443.9,201.2 448.3,204.6" stroke-opacity="0.11" stroke-width="0.5"/><path d="M445.6,144.3Q451.6,152.6 457.6,161.1" stroke-opacity="0.17" stroke-width="0.6"/><path d="M411.2,218.2Q420.7,220.4 430.4,222.0" stroke-opacity="0.10" stroke-width="0.7"/><path d="M471.9,175.3Q480.4,186.3 488.8,197.4" stroke-opacity="0.25" stroke-width="0.7"/><path d="M393.8,177.5Q403.8,179.3 413.5,182.2" stroke-opacity="0.11" stroke-width="0.6"/><path d="M463.7,196.5Q470.4,207.1 477.4,217.6" stroke-opacity="0.23" stroke-width="0.6"/><path d="M458.4,176.4Q464.6,187.3 470.9,198.2" stroke-opacity="0.10" stroke-width="0.6"/><path d="M471.9,198.5Q475.5,204.8 479.3,211.1" stroke-opacity="0.23" stroke-width="0.7"/><path d="M465.4,179.5Q468.3,184.2 471.1,189.0" stroke-opacity="0.13" stroke-width="0.7"/><path d="M492.7,159.6Q497.9,161.0 503.1,162.1" stroke-opacity="0.15" stroke-width="0.8"/><path d="M410.9,218.7Q423.5,221.5 436.1,223.6" stroke-opacity="0.25" stroke-width="0.8"/><path d="M464.6,157.0Q471.2,163.6 478.1,169.9" stroke-opacity="0.16" stroke-width="0.7"/><path d="M432.9,203.3Q437.8,205.3 442.5,207.7" stroke-opacity="0.12" stroke-width="0.6"/><path d="M405.2,204.4Q418.8,206.6 432.2,209.7" stroke-opacity="0.10" stroke-width="0.6"/><path d="M395.7,165.5Q401.9,167.3 407.9,169.7" stroke-opacity="0.22" stroke-width="0.8"/><path d="M480.8,164.9Q488.5,169.8 496.7,173.7" stroke-opacity="0.13" stroke-width="0.7"/><path d="M415.3,206.3Q424.9,207.9 434.2,210.5" stroke-opacity="0.19" stroke-width="0.8"/><path d="M485.8,164.4Q496.9,169.6 508.9,172.6" stroke-opacity="0.13" stroke-width="0.5"/><path d="M482.4,159.8Q489.4,163.2 496.8,165.7" stroke-opacity="0.22" stroke-width="0.8"/><path d="M433.5,200.0Q441.6,204.0 449.0,208.9" stroke-opacity="0.08" stroke-width="0.7"/><path d="M412.0,158.7Q419.1,164.4 425.7,170.5" stroke-opacity="0.21" stroke-width="0.6"/><path d="M416.4,190.3Q423.9,192.5 430.9,195.7" stroke-opacity="0.19" stroke-width="0.7"/><path d="M418.5,215.8Q433.0,218.0 447.1,222.3" stroke-opacity="0.09" stroke-width="0.5"/><path d="M404.6,184.7Q412.4,186.4 420.0,188.9" stroke-opacity="0.23" stroke-width="0.8"/><path d="M444.5,163.3Q448.1,169.5 451.8,175.7" stroke-opacity="0.26" stroke-width="0.7"/><path d="M487.6,218.2Q492.4,226.5 497.3,234.7" stroke-opacity="0.23" stroke-width="0.6"/><path d="M407.1,200.9Q415.6,202.3 424.2,204.1" stroke-opacity="0.19" stroke-width="0.7"/><path d="M419.6,139.2Q426.2,149.8 432.9,160.2" stroke-opacity="0.23" stroke-width="0.7"/><path d="M427.7,165.7Q435.1,174.3 442.3,182.9" stroke-opacity="0.15" stroke-width="0.7"/><path d="M447.6,178.2Q455.0,189.5 462.6,200.7" stroke-opacity="0.10" stroke-width="0.6"/><path d="M443.7,207.0Q455.7,214.5 466.5,223.8" stroke-opacity="0.26" stroke-width="0.6"/><path d="M429.6,161.5Q433.9,167.4 438.2,173.2" stroke-opacity="0.12" stroke-width="0.5"/><path d="M476.5,177.8Q485.9,189.1 495.5,200.2" stroke-opacity="0.20" stroke-width="0.7"/><path d="M492.3,186.4Q497.9,191.1 503.8,195.4" stroke-opacity="0.16" stroke-width="0.6"/><path d="M405.4,188.3Q418.0,190.8 429.8,195.6" stroke-opacity="0.15" stroke-width="0.5"/><path d="M404.9,174.3Q411.6,176.4 418.0,179.3" stroke-opacity="0.17" stroke-width="0.8"/><path d="M416.2,169.2Q425.3,175.5 433.7,182.6" stroke-opacity="0.11" stroke-width="0.8"/><path d="M494.4,147.4Q503.2,148.9 511.9,150.8" stroke-opacity="0.24" stroke-width="0.5"/><path d="M448.1,201.6Q459.0,211.3 469.2,221.7" stroke-opacity="0.12" stroke-width="0.8"/><path d="M458.7,200.2Q463.1,206.0 467.5,211.7" stroke-opacity="0.09" stroke-width="0.6"/><path d="M489.0,163.6Q503.0,168.6 517.7,171.0" stroke-opacity="0.28" stroke-width="0.6"/><path d="M443.4,220.2Q448.3,222.0 453.1,224.1" stroke-opacity="0.20" stroke-width="0.6"/><path d="M471.8,177.5Q478.4,186.5 484.8,195.6" stroke-opacity="0.16" stroke-width="0.8"/><path d="M476.7,146.7Q486.8,150.4 497.2,152.4" stroke-opacity="0.12" stroke-width="0.8"/><path d="M489.2,200.5Q496.0,210.1 502.5,219.8" stroke-opacity="0.26" stroke-width="0.6"/><path d="M420.2,217.4Q431.6,219.3 442.7,222.1" stroke-opacity="0.14" stroke-width="0.8"/><path d="M458.1,140.9Q469.7,149.5 482.6,155.8" stroke-opacity="0.23" stroke-width="0.7"/><path d="M405.5,145.2Q409.7,149.2 413.8,153.3" stroke-opacity="0.23" stroke-width="0.5"/><path d="M424.5,167.2Q431.0,173.6 437.2,180.3" stroke-opacity="0.14" stroke-width="0.5"/><path d="M449.4,146.1Q454.9,153.2 460.4,160.4" stroke-opacity="0.14" stroke-width="0.5"/><path d="M404.9,204.4Q410.5,205.5 416.2,206.4" stroke-opacity="0.18" stroke-width="0.7"/><path d="M486.6,186.7Q495.4,196.1 504.7,204.9" stroke-opacity="0.25" stroke-width="0.5"/><path d="M399.0,209.6Q406.4,211.9 413.9,213.4" stroke-opacity="0.17" stroke-width="0.6"/><path d="M408.5,175.0Q417.6,178.5 426.0,183.3" stroke-opacity="0.24" stroke-width="0.6"/><path d="M398.1,193.0Q411.6,195.1 424.8,198.5" stroke-opacity="0.16" stroke-width="0.6"/><path d="M489.7,209.0Q492.5,213.5 495.3,218.1" stroke-opacity="0.10" stroke-width="0.7"/><path d="M436.4,179.8Q442.7,186.5 448.7,193.3" stroke-opacity="0.10" stroke-width="0.7"/><path d="M488.0,189.9Q493.4,195.8 498.9,201.7" stroke-opacity="0.22" stroke-width="0.6"/><path d="M401.9,193.2Q412.5,194.9 422.9,197.5" stroke-opacity="0.26" stroke-width="0.6"/><path d="M408.8,191.5Q414.3,192.5 419.7,194.0" stroke-opacity="0.13" stroke-width="0.8"/><path d="M431.0,164.6Q439.8,176.3 448.7,187.9" stroke-opacity="0.10" stroke-width="0.7"/><path d="M473.4,214.7Q477.0,219.9 480.7,225.0" stroke-opacity="0.17" stroke-width="0.6"/><path d="M396.4,158.6Q402.4,160.9 408.0,163.9" stroke-opacity="0.09" stroke-width="0.7"/><path d="M466.7,168.1Q474.8,178.5 482.9,189.0" stroke-opacity="0.25" stroke-width="0.8"/><path d="M416.8,172.6Q422.4,176.0 427.7,179.8" stroke-opacity="0.09" stroke-width="0.8"/><path d="M453.4,191.8Q459.6,200.2 465.9,208.6" stroke-opacity="0.14" stroke-width="0.5"/><path d="M427.3,177.3Q431.7,180.8 435.8,184.5" stroke-opacity="0.13" stroke-width="0.8"/><path d="M399.0,193.3Q408.1,194.9 417.1,196.7" stroke-opacity="0.22" stroke-width="0.7"/><path d="M430.7,223.7Q443.3,225.9 455.4,230.2" stroke-opacity="0.17" stroke-width="0.8"/><path d="M476.5,217.5Q481.8,225.2 487.2,232.9" stroke-opacity="0.12" stroke-width="0.6"/><path d="M465.8,177.8Q469.0,182.9 472.1,188.0" stroke-opacity="0.18" stroke-width="0.5"/><path d="M399.0,200.3Q406.3,201.8 413.7,203.1" stroke-opacity="0.26" stroke-width="0.8"/><path d="M473.2,153.6Q479.4,157.4 486.0,160.5" stroke-opacity="0.18" stroke-width="0.7"/><path d="M445.0,142.7Q449.0,148.1 453.0,153.5" stroke-opacity="0.27" stroke-width="0.6"/><path d="M447.8,216.7Q454.4,220.0 460.5,224.0" stroke-opacity="0.16" stroke-width="0.7"/><path d="M416.9,174.2Q427.8,180.7 437.6,188.7" stroke-opacity="0.24" stroke-width="0.7"/><path d="M478.3,147.2Q483.7,149.1 489.3,150.6" stroke-opacity="0.20" stroke-width="0.7"/><path d="M396.1,177.9Q406.6,179.8 416.6,183.3" stroke-opacity="0.15" stroke-width="0.5"/><path d="M451.8,184.4Q457.7,193.2 463.7,202.0" stroke-opacity="0.12" stroke-width="0.6"/><path d="M397.4,188.7Q404.5,189.9 411.5,191.3" stroke-opacity="0.18" stroke-width="0.8"/><path d="M444.0,158.7Q449.9,169.0 455.9,179.3" stroke-opacity="0.23" stroke-width="0.6"/><path d="M452.5,202.9Q457.2,207.5 461.8,212.3" stroke-opacity="0.22" stroke-width="0.6"/><path d="M432.6,182.7Q443.8,192.4 454.2,203.0" stroke-opacity="0.13" stroke-width="0.6"/><path d="M497.3,153.4Q504.6,154.7 511.8,156.0" stroke-opacity="0.22" stroke-width="0.6"/><path d="M472.0,155.7Q482.9,163.1 494.9,168.2" stroke-opacity="0.14" stroke-width="0.5"/><path d="M454.6,160.5Q459.5,167.9 464.2,175.3" stroke-opacity="0.26" stroke-width="0.8"/><path d="M469.2,187.7Q471.8,192.1 474.4,196.6" stroke-opacity="0.15" stroke-width="0.7"/><path d="M472.2,145.0Q480.9,148.8 490.0,151.3" stroke-opacity="0.22" stroke-width="0.7"/><path d="M442.1,162.9Q447.1,171.4 452.2,179.9" stroke-opacity="0.09" stroke-width="0.8"/><path d="M393.2,156.8Q406.8,162.0 418.9,170.2" stroke-opacity="0.19" stroke-width="0.5"/><path d="M420.9,180.1Q426.2,183.1 431.2,186.5" stroke-opacity="0.08" stroke-width="0.5"/><path d="M397.1,164.3Q407.6,167.8 417.2,173.1" stroke-opacity="0.12" stroke-width="0.6"/><path d="M429.9,178.2Q437.3,184.8 444.3,191.7" stroke-opacity="0.14" stroke-width="0.7"/><path d="M488.0,186.3Q498.2,196.5 509.2,205.7" stroke-opacity="0.18" stroke-width="0.7"/><path d="M434.0,174.7Q440.4,182.0 446.7,189.4" stroke-opacity="0.28" stroke-width="0.6"/><path d="M466.6,203.3Q469.9,208.2 473.2,213.1" stroke-opacity="0.09" stroke-width="0.6"/><path d="M415.6,179.5Q422.2,182.4 428.4,186.1" stroke-opacity="0.19" stroke-width="0.6"/><path d="M409.3,203.6Q423.8,205.8 437.8,210.2" stroke-opacity="0.14" stroke-width="0.7"/><path d="M430.8,218.2Q438.0,219.7 445.0,221.9" stroke-opacity="0.08" stroke-width="0.8"/><path d="M474.6,180.7Q477.8,185.1 481.0,189.5" stroke-opacity="0.15" stroke-width="0.6"/><path d="M455.1,157.2Q459.9,164.1 464.7,171.0" stroke-opacity="0.11" stroke-width="0.6"/><path d="M410.4,175.7Q420.2,179.8 429.3,185.4" stroke-opacity="0.24" stroke-width="0.5"/><path d="M487.6,164.9Q492.5,167.1 497.5,168.9" stroke-opacity="0.21" stroke-width="0.8"/><path d="M487.2,178.3Q498.7,187.4 511.8,194.0" stroke-opacity="0.26" stroke-width="0.6"/><path d="M462.6,194.9Q469.6,206.0 476.8,216.9" stroke-opacity="0.09" stroke-width="0.6"/><path d="M394.9,146.3Q403.1,151.2 410.7,157.0" stroke-opacity="0.11" stroke-width="0.5"/></g><circle cx="434.0" cy="152.3" r="3.75" fill="#a9adb9" opacity="0.40"/><circle cx="434.0" cy="153.2" r="2.25" fill="url(#blob)" opacity="0.98"/><circle cx="433.0" cy="153.1" r="1.40" fill="url(#blob)" opacity="0.93"/><circle cx="434.0" cy="152.6" r="1.63" fill="url(#blob)" opacity="1.00"/><circle cx="459.3" cy="149.8" r="3.75" fill="#a9adb9" opacity="0.40"/><circle cx="460.1" cy="149.3" r="2.25" fill="url(#blob)" opacity="0.95"/><circle cx="458.8" cy="148.4" r="1.74" fill="url(#blob)" opacity="0.96"/><circle cx="458.2" cy="151.0" r="1.58" fill="url(#blob)" opacity="1.00"/><circle cx="441.4" cy="154.5" r="3.00" fill="#a9adb9" opacity="0.36"/><circle cx="440.8" cy="153.7" r="1.80" fill="url(#blob)" opacity="0.88"/><circle cx="422.3" cy="159.8" r="2.70" fill="#a9adb9" opacity="0.32"/><circle cx="421.9" cy="158.8" r="1.62" fill="url(#blob)" opacity="0.80"/><circle cx="422.1" cy="158.9" r="1.03" fill="url(#blob)" opacity="0.79"/><circle cx="417.0" cy="167.2" r="2.70" fill="#a9adb9" opacity="0.32"/><circle cx="417.6" cy="167.4" r="1.62" fill="url(#blob)" opacity="0.81"/><circle cx="418.0" cy="166.6" r="1.24" fill="url(#blob)" opacity="0.76"/><circle cx="465.7" cy="173.5" r="4.50" fill="#a9adb9" opacity="0.40"/><circle cx="464.8" cy="174.1" r="2.70" fill="url(#blob)" opacity="1.00"/><circle cx="466.7" cy="172.6" r="2.17" fill="url(#blob)" opacity="0.91"/><circle cx="466.9" cy="172.5" r="1.79" fill="url(#blob)" opacity="1.00"/><circle cx="466.8" cy="174.8" r="2.36" fill="url(#blob)" opacity="0.98"/><circle cx="465.7" cy="173.5" r="2.70" fill="none" stroke="#e6e9ef" stroke-width="0.8" opacity="0.70"/><circle cx="442.4" cy="171.4" r="3.00" fill="#a9adb9" opacity="0.32"/><circle cx="442.4" cy="171.3" r="1.80" fill="url(#blob)" opacity="0.75"/><circle cx="448.8" cy="178.8" r="3.30" fill="#a9adb9" opacity="0.36"/><circle cx="450.1" cy="178.6" r="1.98" fill="url(#blob)" opacity="1.00"/><circle cx="448.6" cy="178.2" r="1.35" fill="url(#blob)" opacity="1.00"/><circle cx="494.3" cy="184.1" r="4.20" fill="#a9adb9" opacity="0.36"/><circle cx="492.6" cy="185.3" r="2.52" fill="url(#blob)" opacity="0.87"/><circle cx="493.6" cy="184.3" r="2.23" fill="url(#blob)" opacity="1.00"/><circle cx="494.9" cy="182.6" r="1.76" fill="url(#blob)" opacity="0.90"/><circle cx="493.8" cy="185.2" r="1.53" fill="url(#blob)" opacity="0.93"/><circle cx="479.4" cy="180.9" r="2.70" fill="#a9adb9" opacity="0.28"/><circle cx="479.6" cy="179.9" r="1.62" fill="url(#blob)" opacity="0.71"/><circle cx="479.5" cy="181.4" r="1.05" fill="url(#blob)" opacity="0.81"/><circle cx="454.0" cy="187.3" r="2.70" fill="#a9adb9" opacity="0.32"/><circle cx="454.5" cy="187.6" r="1.62" fill="url(#blob)" opacity="0.92"/><circle cx="453.7" cy="187.1" r="1.37" fill="url(#blob)" opacity="0.81"/><circle cx="456.2" cy="195.7" r="3.90" fill="#a9adb9" opacity="0.40"/><circle cx="456.5" cy="194.4" r="2.34" fill="url(#blob)" opacity="1.00"/><circle cx="456.2" cy="195.6" r="2.01" fill="url(#blob)" opacity="1.00"/><circle cx="457.1" cy="195.5" r="1.44" fill="url(#blob)" opacity="1.00"/><circle cx="435.0" cy="194.7" r="3.00" fill="#a9adb9" opacity="0.32"/><circle cx="433.9" cy="193.7" r="1.80" fill="url(#blob)" opacity="0.94"/><circle cx="467.8" cy="209.5" r="3.00" fill="#a9adb9" opacity="0.32"/><circle cx="468.2" cy="208.7" r="1.80" fill="url(#blob)" opacity="0.96"/><circle cx="479.4" cy="211.6" r="3.00" fill="#a9adb9" opacity="0.32"/><circle cx="478.5" cy="211.6" r="1.80" fill="url(#blob)" opacity="0.89"/><circle cx="478.5" cy="212.2" r="1.39" fill="url(#blob)" opacity="0.88"/><circle cx="436.0" cy="220.0" r="3.30" fill="#a9adb9" opacity="0.36"/><circle cx="436.0" cy="218.8" r="1.98" fill="url(#blob)" opacity="0.91"/><circle cx="435.7" cy="220.3" r="1.68" fill="url(#blob)" opacity="1.00"/><circle cx="437.2" cy="219.4" r="1.72" fill="url(#blob)" opacity="1.00"/><circle cx="479.4" cy="221.1" r="3.30" fill="#a9adb9" opacity="0.36"/><circle cx="479.0" cy="220.5" r="1.98" fill="url(#blob)" opacity="1.00"/><circle cx="480.1" cy="221.8" r="1.67" fill="url(#blob)" opacity="0.95"/><circle cx="478.8" cy="219.9" r="1.66" fill="url(#blob)" opacity="0.91"/><circle cx="503.8" cy="162.9" r="2.40" fill="#a9adb9" opacity="0.28"/><circle cx="504.3" cy="162.0" r="1.44" fill="url(#blob)" opacity="0.68"/><circle cx="504.2" cy="162.6" r="1.01" fill="url(#blob)" opacity="0.69"/><circle cx="503.8" cy="162.9" r="1.44" fill="none" stroke="#e6e9ef" stroke-width="0.8" opacity="0.49"/><circle cx="471.0" cy="221.0" r="2.70" fill="#a9adb9" opacity="0.32"/><circle cx="471.3" cy="220.5" r="1.62" fill="url(#blob)" opacity="0.78"/><circle cx="470.9" cy="220.4" r="1.27" fill="url(#blob)" opacity="0.85"/><circle cx="471.0" cy="221.0" r="1.62" fill="none" stroke="#e6e9ef" stroke-width="0.8" opacity="0.56"/><circle cx="442.4" cy="213.7" r="2.40" fill="#a9adb9" opacity="0.28"/><circle cx="443.2" cy="214.3" r="1.44" fill="url(#blob)" opacity="0.83"/><circle cx="442.5" cy="213.8" r="0.94" fill="url(#blob)" opacity="0.75"/><circle cx="452.4" cy="191.7" r="0.99" fill="url(#blob)" opacity="0.3"/><circle cx="434.4" cy="202.4" r="0.79" fill="url(#blob)" opacity="0.31"/><circle cx="443.2" cy="173.9" r="0.6" fill="url(#blob)" opacity="0.39"/><circle cx="494.0" cy="202.1" r="0.88" fill="url(#blob)" opacity="0.3"/><circle cx="446.1" cy="159.3" r="0.94" fill="url(#blob)" opacity="0.29"/><circle cx="431.3" cy="225.0" r="0.7" fill="url(#blob)" opacity="0.49"/><circle cx="465.3" cy="207.8" r="0.88" fill="url(#blob)" opacity="0.25"/><circle cx="475.1" cy="168.3" r="0.74" fill="url(#blob)" opacity="0.24"/><circle cx="407.1" cy="176.9" r="0.51" fill="url(#blob)" opacity="0.32"/><circle cx="489.4" cy="226.4" r="0.75" fill="url(#blob)" opacity="0.23"/><circle cx="437.0" cy="153.0" r="0.63" fill="url(#blob)" opacity="0.39"/><circle cx="465.2" cy="150.5" r="0.79" fill="url(#blob)" opacity="0.33"/><circle cx="442.4" cy="158.6" r="0.74" fill="url(#blob)" opacity="0.23"/><circle cx="472.4" cy="199.0" r="0.88" fill="url(#blob)" opacity="0.32"/><circle cx="500.5" cy="176.9" r="0.62" fill="url(#blob)" opacity="0.31"/><circle cx="495.9" cy="160.4" r="0.96" fill="url(#blob)" opacity="0.48"/><circle cx="489.6" cy="184.6" r="0.77" fill="url(#blob)" opacity="0.46"/><circle cx="474.9" cy="211.3" r="0.61" fill="url(#blob)" opacity="0.38"/><circle cx="477.8" cy="166.7" r="0.62" fill="url(#blob)" opacity="0.45"/><circle cx="460.1" cy="180.2" r="0.79" fill="url(#blob)" opacity="0.28"/><circle cx="426.8" cy="156.4" r="0.74" fill="url(#blob)" opacity="0.24"/><circle cx="494.3" cy="223.0" r="0.85" fill="url(#blob)" opacity="0.23"/><circle cx="463.2" cy="160.2" r="0.72" fill="url(#blob)" opacity="0.24"/><circle cx="452.7" cy="153.9" r="0.67" fill="url(#blob)" opacity="0.27"/><circle cx="449.5" cy="221.0" r="0.85" fill="url(#blob)" opacity="0.43"/><circle cx="476.4" cy="189.7" r="0.54" fill="url(#blob)" opacity="0.22"/><circle cx="415.0" cy="188.5" r="0.7" fill="url(#blob)" opacity="0.48"/><circle cx="421.8" cy="158.3" r="0.88" fill="url(#blob)" opacity="0.38"/><circle cx="406.5" cy="175.0" r="0.77" fill="url(#blob)" opacity="0.45"/><circle cx="482.0" cy="216.6" r="0.82" fill="url(#blob)" opacity="0.48"/><circle cx="449.9" cy="170.7" r="0.58" fill="url(#blob)" opacity="0.45"/><circle cx="468.6" cy="196.4" r="1.09" fill="url(#blob)" opacity="0.39"/><circle cx="433.3" cy="202.6" r="1.06" fill="url(#blob)" opacity="0.25"/><circle cx="499.1" cy="180.7" r="0.57" fill="url(#blob)" opacity="0.35"/><circle cx="482.2" cy="186.6" r="0.66" fill="url(#blob)" opacity="0.43"/><circle cx="411.6" cy="200.7" r="0.72" fill="url(#blob)" opacity="0.38"/><circle cx="453.7" cy="170.0" r="0.62" fill="url(#blob)" opacity="0.45"/><circle cx="448.5" cy="170.3" r="0.86" fill="url(#blob)" opacity="0.43"/><circle cx="410.2" cy="184.0" r="0.59" fill="url(#blob)" opacity="0.43"/><circle cx="405.7" cy="213.4" r="0.84" fill="url(#blob)" opacity="0.35"/><circle cx="456.9" cy="169.9" r="0.77" fill="url(#blob)" opacity="0.25"/><circle cx="438.1" cy="194.8" r="0.87" fill="url(#blob)" opacity="0.3"/><circle cx="465.1" cy="209.6" r="0.97" fill="url(#blob)" opacity="0.2"/><circle cx="453.1" cy="161.4" r="0.99" fill="url(#blob)" opacity="0.37"/><circle cx="446.9" cy="195.9" r="0.81" fill="url(#blob)" opacity="0.26"/><circle cx="496.1" cy="152.4" r="0.52" fill="url(#blob)" opacity="0.29"/><circle cx="415.8" cy="177.3" r="0.87" fill="url(#blob)" opacity="0.32"/><circle cx="501.9" cy="173.6" r="1.06" fill="url(#blob)" opacity="0.49"/><circle cx="458.0" cy="211.3" r="0.55" fill="url(#blob)" opacity="0.48"/><circle cx="446.9" cy="174.5" r="1.05" fill="url(#blob)" opacity="0.32"/><circle cx="410.2" cy="150.1" r="0.98" fill="url(#blob)" opacity="0.25"/><circle cx="467.1" cy="154.8" r="0.99" fill="url(#blob)" opacity="0.49"/><circle cx="439.3" cy="210.4" r="1.04" fill="url(#blob)" opacity="0.27"/><circle cx="450.3" cy="226.3" r="1.07" fill="url(#blob)" opacity="0.37"/><circle cx="458.1" cy="149.6" r="1.0" fill="url(#blob)" opacity="0.48"/></g>
<line x1="286.6" y1="230.5" x2="286.6" y2="309" stroke="#000" stroke-width="1.5" />
<text transform="translate(276.9,268.8) rotate(-90)" x="0" y="0" font-size="13.2" text-anchor="middle" fill="#000" stroke="#000" stroke-width="0.22" textLength="62.6" lengthAdjust="spacingAndGlyphs" >10 µM AZA</text>
<clipPath id="c20"><rect x="292" y="230.5" width="104" height="78.5"/></clipPath><g clip-path="url(#c20)"><rect x="292" y="230.5" width="104" height="78.5" fill="#7c8894"/><g fill="none" stroke="#e0e9ef" stroke-linecap="round" filter="url(#soft)"><path d="M335.5,276.2Q341.3,282.1 347.2,288.0" stroke-opacity="0.13" stroke-width="0.5"/><path d="M324.4,245.1Q330.9,252.0 337.6,258.8" stroke-opacity="0.30" stroke-width="0.7"/><path d="M347.1,279.5Q350.0,282.4 353.0,285.3" stroke-opacity="0.22" stroke-width="0.6"/><path d="M379.0,228.8Q386.2,235.2 393.5,241.3" stroke-opacity="0.10" stroke-width="0.8"/><path d="M320.4,255.2Q327.0,262.3 333.8,269.3" stroke-opacity="0.09" stroke-width="0.5"/><path d="M384.3,268.0Q387.2,270.5 390.0,272.9" stroke-opacity="0.40" stroke-width="0.9"/><path d="M301.0,260.6Q303.7,263.7 306.4,266.8" stroke-opacity="0.18" stroke-width="0.7"/><path d="M306.7,282.6Q309.0,285.2 311.3,287.7" stroke-opacity="0.13" stroke-width="0.8"/><path d="M328.3,257.8Q333.6,263.4 339.1,268.9" stroke-opacity="0.23" stroke-width="0.7"/><path d="M288.3,279.3Q295.1,287.5 302.2,295.7" stroke-opacity="0.39" stroke-width="0.8"/><path d="M323.2,252.8Q329.0,259.0 335.0,265.2" stroke-opacity="0.30" stroke-width="0.5"/><path d="M311.7,253.8Q316.4,259.0 321.2,264.2" stroke-opacity="0.34" stroke-width="0.7"/><path d="M290.8,290.1Q294.9,295.1 299.1,300.0" stroke-opacity="0.25" stroke-width="0.6"/><path d="M330.1,254.4Q336.4,261.0 342.9,267.5" stroke-opacity="0.11" stroke-width="0.7"/><path d="M308.3,282.7Q310.5,285.1 312.7,287.6" stroke-opacity="0.17" stroke-width="0.6"/><path d="M353.4,230.0Q358.2,234.6 363.1,239.2" stroke-opacity="0.15" stroke-width="0.6"/><path d="M336.7,300.9Q341.5,305.8 346.4,310.6" stroke-opacity="0.39" stroke-width="0.6"/><path d="M384.7,256.1Q388.1,259.1 391.5,262.0" stroke-opacity="0.32" stroke-width="0.9"/><path d="M286.8,244.5Q292.7,251.6 298.6,258.6" stroke-opacity="0.19" stroke-width="0.6"/><path d="M287.8,227.5Q292.9,233.7 298.0,239.7" stroke-opacity="0.39" stroke-width="0.9"/><path d="M340.4,228.4Q344.4,232.4 348.3,236.3" stroke-opacity="0.33" stroke-width="0.8"/><path d="M353.3,243.5Q358.5,248.5 363.7,253.5" stroke-opacity="0.23" stroke-width="0.8"/><path d="M312.5,297.3Q319.3,304.8 326.2,312.3" stroke-opacity="0.13" stroke-width="0.6"/><path d="M374.9,245.3Q382.8,252.4 390.8,259.3" stroke-opacity="0.24" stroke-width="0.8"/><path d="M361.4,243.7Q365.3,247.3 369.2,250.9" stroke-opacity="0.16" stroke-width="0.8"/><path d="M356.8,233.9Q364.2,240.9 371.6,247.7" stroke-opacity="0.21" stroke-width="0.6"/><path d="M332.1,302.0Q337.3,307.4 342.5,312.7" stroke-opacity="0.28" stroke-width="0.9"/><path d="M387.2,286.1Q392.0,290.2 396.9,294.3" stroke-opacity="0.27" stroke-width="0.9"/><path d="M369.8,272.2Q374.1,276.1 378.4,279.9" stroke-opacity="0.20" stroke-width="0.8"/><path d="M344.4,225.7Q350.6,231.9 356.8,237.9" stroke-opacity="0.37" stroke-width="0.8"/><path d="M379.9,297.2Q385.3,302.0 390.8,306.7" stroke-opacity="0.33" stroke-width="0.7"/><path d="M298.6,254.1Q302.2,258.2 305.8,262.4" stroke-opacity="0.38" stroke-width="0.8"/><path d="M345.5,276.5Q348.3,279.3 351.2,282.1" stroke-opacity="0.25" stroke-width="0.8"/><path d="M328.7,245.3Q333.0,249.8 337.3,254.3" stroke-opacity="0.18" stroke-width="0.8"/><path d="M303.1,233.5Q306.7,237.6 310.4,241.7" stroke-opacity="0.30" stroke-width="0.8"/><path d="M356.3,299.8Q360.6,303.9 364.9,307.9" stroke-opacity="0.09" stroke-width="0.7"/><path d="M332.3,238.6Q338.1,244.6 344.0,250.5" stroke-opacity="0.19" stroke-width="0.6"/><path d="M324.0,302.4Q326.1,304.6 328.2,306.8" stroke-opacity="0.20" stroke-width="0.6"/><path d="M309.8,260.9Q312.9,264.5 316.1,268.0" stroke-opacity="0.37" stroke-width="0.7"/><path d="M359.7,238.6Q364.6,243.3 369.5,247.8" stroke-opacity="0.27" stroke-width="0.8"/><path d="M311.4,259.3Q318.0,266.6 324.7,273.8" stroke-opacity="0.35" stroke-width="0.6"/><path d="M343.6,285.9Q347.9,290.3 352.3,294.6" stroke-opacity="0.30" stroke-width="0.8"/><path d="M386.7,268.5Q393.1,274.0 399.6,279.4" stroke-opacity="0.19" stroke-width="0.8"/><path d="M321.5,265.4Q325.5,269.8 329.6,274.0" stroke-opacity="0.18" stroke-width="0.6"/><path d="M312.1,269.5Q315.5,273.2 318.9,276.9" stroke-opacity="0.09" stroke-width="0.8"/><path d="M316.4,298.3Q321.7,304.0 327.0,309.7" stroke-opacity="0.20" stroke-width="0.8"/><path d="M382.3,253.1Q385.3,255.7 388.3,258.3" stroke-opacity="0.29" stroke-width="0.8"/><path d="M350.8,287.7Q355.3,292.1 359.8,296.4" stroke-opacity="0.28" stroke-width="0.6"/><path d="M330.1,255.9Q334.3,260.3 338.6,264.7" stroke-opacity="0.21" stroke-width="0.8"/><path d="M306.3,242.8Q309.7,246.6 313.0,250.4" stroke-opacity="0.39" stroke-width="0.7"/><path d="M291.0,288.5Q297.5,296.1 304.0,303.6" stroke-opacity="0.34" stroke-width="0.6"/><path d="M365.4,251.7Q368.4,254.5 371.4,257.3" stroke-opacity="0.36" stroke-width="0.8"/><path d="M311.8,297.2Q314.0,299.6 316.1,301.9" stroke-opacity="0.18" stroke-width="0.5"/><path d="M304.0,236.8Q309.8,243.3 315.6,249.8" stroke-opacity="0.17" stroke-width="0.6"/><path d="M304.6,247.6Q311.1,255.0 317.8,262.3" stroke-opacity="0.27" stroke-width="0.5"/><path d="M358.4,268.1Q363.2,272.6 368.1,277.1" stroke-opacity="0.25" stroke-width="0.8"/><path d="M369.3,264.7Q375.3,270.2 381.3,275.6" stroke-opacity="0.23" stroke-width="0.8"/><path d="M327.5,257.9Q332.4,263.1 337.4,268.2" stroke-opacity="0.31" stroke-width="0.6"/><path d="M380.8,262.6Q388.2,269.1 395.7,275.5" stroke-opacity="0.30" stroke-width="0.9"/><path d="M358.4,259.7Q363.0,264.0 367.5,268.3" stroke-opacity="0.27" stroke-width="0.8"/><path d="M376.6,238.3Q379.3,240.7 381.9,243.0" stroke-opacity="0.11" stroke-width="0.5"/><path d="M294.6,227.4Q297.9,231.2 301.1,234.9" stroke-opacity="0.12" stroke-width="0.8"/><path d="M348.4,298.9Q356.0,306.3 363.8,313.7" stroke-opacity="0.32" stroke-width="0.9"/><path d="M288.2,240.4Q294.9,248.4 301.7,256.3" stroke-opacity="0.23" stroke-width="0.6"/><path d="M365.3,258.8Q370.7,263.8 376.1,268.7" stroke-opacity="0.18" stroke-width="0.6"/><path d="M294.2,270.1Q301.0,278.2 308.1,286.1" stroke-opacity="0.40" stroke-width="0.8"/><path d="M385.0,255.4Q389.1,258.9 393.2,262.4" stroke-opacity="0.38" stroke-width="0.7"/><path d="M358.1,228.2Q361.6,231.5 365.1,234.8" stroke-opacity="0.23" stroke-width="0.8"/><path d="M373.6,286.1Q377.9,290.0 382.2,293.7" stroke-opacity="0.20" stroke-width="0.8"/><path d="M391.4,265.6Q394.9,268.6 398.4,271.5" stroke-opacity="0.28" stroke-width="0.7"/><path d="M325.4,244.2Q329.6,248.6 333.8,253.0" stroke-opacity="0.28" stroke-width="0.6"/><path d="M341.9,298.9Q348.2,305.3 354.7,311.5" stroke-opacity="0.16" stroke-width="0.7"/><path d="M297.4,282.3Q302.6,288.4 308.0,294.4" stroke-opacity="0.14" stroke-width="0.7"/><path d="M349.6,271.6Q354.0,275.8 358.3,280.0" stroke-opacity="0.18" stroke-width="0.6"/><path d="M390.4,251.9Q395.7,256.5 401.1,260.9" stroke-opacity="0.23" stroke-width="0.6"/><path d="M329.7,242.6Q333.6,246.6 337.5,250.6" stroke-opacity="0.20" stroke-width="0.6"/><path d="M385.3,250.1Q389.5,253.8 393.9,257.5" stroke-opacity="0.29" stroke-width="0.7"/><path d="M343.1,278.8Q345.6,281.3 348.2,283.9" stroke-opacity="0.29" stroke-width="0.5"/><path d="M310.7,286.0Q318.0,294.1 325.4,302.1" stroke-opacity="0.30" stroke-width="0.6"/><path d="M330.8,245.7Q337.5,252.7 344.4,259.6" stroke-opacity="0.15" stroke-width="0.6"/><path d="M352.8,275.2Q358.3,280.5 364.0,285.8" stroke-opacity="0.23" stroke-width="0.9"/><path d="M335.4,299.7Q339.7,304.1 344.0,308.4" stroke-opacity="0.23" stroke-width="0.6"/><path d="M362.8,286.1Q366.4,289.5 370.0,292.8" stroke-opacity="0.25" stroke-width="0.8"/><path d="M338.6,276.9Q344.1,282.5 349.8,288.1" stroke-opacity="0.31" stroke-width="0.6"/><path d="M317.0,225.0Q323.9,232.5 330.8,239.8" stroke-opacity="0.33" stroke-width="0.7"/><path d="M389.4,298.6Q392.6,301.3 395.8,304.1" stroke-opacity="0.35" stroke-width="0.7"/><path d="M320.4,246.2Q324.7,250.9 329.0,255.4" stroke-opacity="0.10" stroke-width="0.5"/><path d="M301.4,251.4Q304.1,254.6 307.0,257.8" stroke-opacity="0.12" stroke-width="0.8"/><path d="M326.1,263.3Q331.5,269.0 336.9,274.6" stroke-opacity="0.38" stroke-width="0.6"/><path d="M308.8,290.4Q315.7,298.1 322.7,305.6" stroke-opacity="0.38" stroke-width="0.7"/><path d="M323.1,237.8Q330.1,245.3 337.3,252.7" stroke-opacity="0.32" stroke-width="0.7"/><path d="M368.9,246.1Q374.3,251.0 379.7,255.8" stroke-opacity="0.37" stroke-width="0.5"/><path d="M349.2,238.3Q356.2,245.1 363.2,251.7" stroke-opacity="0.35" stroke-width="0.8"/><path d="M332.5,227.2Q337.3,232.2 342.2,237.1" stroke-opacity="0.19" stroke-width="0.7"/><path d="M295.4,297.3Q300.1,302.8 304.8,308.2" stroke-opacity="0.26" stroke-width="0.8"/><path d="M379.7,268.8Q385.2,273.7 390.8,278.5" stroke-opacity="0.35" stroke-width="0.6"/><path d="M378.6,226.2Q385.6,232.4 392.7,238.5" stroke-opacity="0.25" stroke-width="0.7"/><path d="M390.2,243.7Q395.0,247.8 399.8,251.8" stroke-opacity="0.34" stroke-width="0.8"/><path d="M340.6,285.5Q346.5,291.5 352.5,297.4" stroke-opacity="0.36" stroke-width="0.8"/><path d="M327.3,250.4Q329.8,253.0 332.3,255.7" stroke-opacity="0.12" stroke-width="0.5"/><path d="M387.5,236.5Q393.4,241.6 399.5,246.6" stroke-opacity="0.12" stroke-width="0.9"/><path d="M340.6,237.6Q347.4,244.4 354.3,251.1" stroke-opacity="0.36" stroke-width="0.9"/><path d="M309.7,255.9Q315.2,262.1 320.8,268.2" stroke-opacity="0.17" stroke-width="0.7"/><path d="M357.9,282.9Q364.9,289.5 372.0,296.0" stroke-opacity="0.32" stroke-width="0.6"/><path d="M367.4,261.6Q370.6,264.6 373.8,267.5" stroke-opacity="0.09" stroke-width="0.7"/><path d="M324.5,232.9Q329.2,237.9 334.0,242.9" stroke-opacity="0.21" stroke-width="0.6"/><path d="M345.7,267.7Q350.9,272.8 356.1,277.8" stroke-opacity="0.40" stroke-width="0.9"/><path d="M319.3,294.9Q323.1,299.0 326.8,303.0" stroke-opacity="0.38" stroke-width="0.5"/><path d="M319.4,297.6Q325.1,303.7 330.8,309.7" stroke-opacity="0.31" stroke-width="0.6"/><path d="M302.3,303.2Q304.6,305.8 307.0,308.5" stroke-opacity="0.14" stroke-width="0.7"/><path d="M369.0,276.5Q377.2,283.9 385.4,291.1" stroke-opacity="0.33" stroke-width="0.7"/><path d="M384.2,253.1Q386.8,255.4 389.4,257.6" stroke-opacity="0.39" stroke-width="0.9"/><path d="M357.3,265.0Q360.7,268.2 364.0,271.4" stroke-opacity="0.15" stroke-width="0.5"/><path d="M295.1,260.4Q301.7,268.1 308.5,275.8" stroke-opacity="0.38" stroke-width="0.7"/><path d="M355.4,260.9Q362.0,267.3 368.8,273.5" stroke-opacity="0.31" stroke-width="0.9"/><path d="M374.2,278.6Q379.9,283.7 385.7,288.8" stroke-opacity="0.13" stroke-width="0.7"/><path d="M335.3,239.3Q338.5,242.6 341.8,245.9" stroke-opacity="0.21" stroke-width="0.6"/><path d="M349.1,248.7Q356.9,256.3 364.8,263.8" stroke-opacity="0.30" stroke-width="0.7"/><path d="M333.9,257.9Q337.1,261.3 340.3,264.5" stroke-opacity="0.39" stroke-width="0.9"/><path d="M356.6,278.7Q359.6,281.5 362.6,284.4" stroke-opacity="0.25" stroke-width="0.6"/><path d="M322.7,273.4Q325.7,276.6 328.7,279.8" stroke-opacity="0.15" stroke-width="0.8"/><path d="M339.4,297.3Q342.4,300.3 345.4,303.4" stroke-opacity="0.11" stroke-width="0.9"/><path d="M350.0,279.8Q355.3,285.0 360.7,290.1" stroke-opacity="0.13" stroke-width="0.9"/><path d="M340.6,298.9Q343.5,301.9 346.5,304.8" stroke-opacity="0.17" stroke-width="0.7"/><path d="M314.3,294.2Q317.7,298.0 321.2,301.7" stroke-opacity="0.11" stroke-width="0.6"/><path d="M313.5,297.5Q320.2,304.9 327.1,312.2" stroke-opacity="0.29" stroke-width="0.7"/><path d="M293.7,292.7Q296.3,295.8 298.9,298.8" stroke-opacity="0.14" stroke-width="0.7"/><path d="M379.1,242.5Q381.7,244.9 384.3,247.2" stroke-opacity="0.37" stroke-width="0.5"/><path d="M364.4,237.9Q368.4,241.6 372.3,245.2" stroke-opacity="0.15" stroke-width="0.7"/><path d="M382.3,291.7Q387.8,296.5 393.4,301.2" stroke-opacity="0.11" stroke-width="0.6"/><path d="M315.7,285.2Q322.7,292.9 329.8,300.4" stroke-opacity="0.09" stroke-width="0.6"/><path d="M389.1,240.0Q391.8,242.4 394.6,244.7" stroke-opacity="0.17" stroke-width="0.9"/><path d="M316.7,284.2Q319.4,287.1 322.0,290.0" stroke-opacity="0.29" stroke-width="0.6"/><path d="M346.7,281.8Q353.9,288.8 361.1,295.7" stroke-opacity="0.22" stroke-width="0.9"/><path d="M327.1,297.6Q334.2,305.1 341.5,312.4" stroke-opacity="0.40" stroke-width="0.5"/><path d="M313.6,277.7Q320.4,285.2 327.3,292.5" stroke-opacity="0.16" stroke-width="0.8"/><path d="M339.0,228.2Q341.6,230.8 344.2,233.4" stroke-opacity="0.08" stroke-width="0.6"/><path d="M381.5,277.3Q389.0,283.9 396.5,290.3" stroke-opacity="0.37" stroke-width="0.7"/><path d="M358.2,276.0Q364.4,281.9 370.7,287.7" stroke-opacity="0.11" stroke-width="0.9"/><path d="M302.7,259.1Q308.3,265.5 314.0,271.8" stroke-opacity="0.32" stroke-width="0.8"/><path d="M318.5,247.4Q324.5,253.9 330.5,260.3" stroke-opacity="0.10" stroke-width="0.8"/><path d="M321.0,257.3Q324.8,261.3 328.6,265.3" stroke-opacity="0.31" stroke-width="0.6"/><path d="M303.4,232.7Q306.1,235.7 308.8,238.7" stroke-opacity="0.28" stroke-width="0.9"/><path d="M288.9,262.3Q292.6,266.8 296.4,271.3" stroke-opacity="0.18" stroke-width="0.6"/><path d="M299.9,259.9Q303.2,263.8 306.6,267.6" stroke-opacity="0.10" stroke-width="0.6"/><path d="M380.3,279.8Q388.5,286.9 396.8,293.9" stroke-opacity="0.34" stroke-width="0.8"/><path d="M308.3,231.0Q315.5,239.1 322.9,247.1" stroke-opacity="0.30" stroke-width="0.8"/><path d="M302.1,287.2Q306.9,292.7 311.8,298.1" stroke-opacity="0.11" stroke-width="0.6"/><path d="M389.8,277.0Q392.6,279.4 395.5,281.8" stroke-opacity="0.11" stroke-width="0.8"/><path d="M325.8,265.0Q328.6,268.0 331.5,271.0" stroke-opacity="0.14" stroke-width="0.7"/><path d="M333.5,242.1Q336.4,245.1 339.4,248.1" stroke-opacity="0.22" stroke-width="0.5"/><path d="M296.2,265.1Q298.4,267.7 300.7,270.3" stroke-opacity="0.31" stroke-width="0.8"/><path d="M362.2,302.2Q365.4,305.2 368.5,308.1" stroke-opacity="0.21" stroke-width="0.7"/><path d="M297.4,295.5Q299.5,298.0 301.7,300.5" stroke-opacity="0.39" stroke-width="0.8"/><path d="M386.7,228.6Q394.4,235.3 402.2,241.7" stroke-opacity="0.39" stroke-width="0.8"/><path d="M347.4,276.6Q352.3,281.4 357.3,286.2" stroke-opacity="0.35" stroke-width="0.7"/><path d="M343.2,256.6Q348.9,262.3 354.7,267.9" stroke-opacity="0.27" stroke-width="0.9"/><path d="M365.9,250.5Q372.4,256.4 378.9,262.3" stroke-opacity="0.15" stroke-width="0.7"/><path d="M344.2,285.0Q346.7,287.6 349.3,290.1" stroke-opacity="0.13" stroke-width="0.6"/><path d="M351.1,238.7Q356.4,243.9 361.9,249.0" stroke-opacity="0.36" stroke-width="0.7"/><path d="M311.0,272.7Q315.2,277.4 319.5,282.0" stroke-opacity="0.22" stroke-width="0.6"/><path d="M355.1,250.1Q363.0,257.6 371.0,265.0" stroke-opacity="0.24" stroke-width="0.8"/><path d="M385.8,305.7Q388.1,307.7 390.6,309.8" stroke-opacity="0.38" stroke-width="0.5"/><path d="M386.8,289.1Q390.7,292.4 394.5,295.7" stroke-opacity="0.31" stroke-width="0.7"/><path d="M334.4,275.0Q339.0,279.7 343.7,284.4" stroke-opacity="0.29" stroke-width="0.8"/><path d="M287.0,274.0Q292.6,280.7 298.2,287.3" stroke-opacity="0.36" stroke-width="0.7"/><path d="M345.1,238.7Q348.3,241.9 351.6,245.1" stroke-opacity="0.37" stroke-width="0.5"/><path d="M381.1,236.2Q385.7,240.2 390.3,244.2" stroke-opacity="0.28" stroke-width="0.5"/><path d="M334.2,288.8Q338.5,293.2 342.8,297.5" stroke-opacity="0.14" stroke-width="0.5"/><path d="M384.3,233.2Q390.6,238.7 397.0,244.1" stroke-opacity="0.28" stroke-width="0.6"/><path d="M346.7,281.1Q350.0,284.4 353.3,287.6" stroke-opacity="0.16" stroke-width="0.9"/><path d="M309.2,263.9Q313.6,268.9 318.1,273.8" stroke-opacity="0.33" stroke-width="0.8"/><path d="M366.0,274.7Q371.4,279.7 376.9,284.6" stroke-opacity="0.11" stroke-width="0.7"/><path d="M332.9,285.5Q337.0,289.8 341.2,294.1" stroke-opacity="0.12" stroke-width="0.7"/><path d="M372.2,263.9Q378.4,269.5 384.7,275.0" stroke-opacity="0.10" stroke-width="0.6"/><path d="M317.0,265.6Q319.7,268.5 322.3,271.4" stroke-opacity="0.38" stroke-width="0.6"/><path d="M287.6,243.9Q292.1,249.3 296.6,254.7" stroke-opacity="0.28" stroke-width="0.8"/><path d="M294.6,299.2Q301.0,306.7 307.5,314.1" stroke-opacity="0.24" stroke-width="0.8"/><path d="M321.8,239.9Q323.9,242.2 326.0,244.4" stroke-opacity="0.39" stroke-width="0.9"/><path d="M333.6,272.9Q338.4,277.8 343.2,282.6" stroke-opacity="0.30" stroke-width="0.5"/><path d="M364.7,239.0Q370.4,244.3 376.1,249.4" stroke-opacity="0.28" stroke-width="0.8"/><path d="M349.1,237.9Q355.9,244.5 362.8,251.1" stroke-opacity="0.20" stroke-width="0.7"/><path d="M372.4,304.7Q375.2,307.2 378.1,309.8" stroke-opacity="0.23" stroke-width="0.6"/><path d="M372.4,254.9Q380.0,261.8 387.8,268.5" stroke-opacity="0.33" stroke-width="0.7"/><path d="M368.5,281.2Q371.4,283.8 374.3,286.5" stroke-opacity="0.17" stroke-width="0.6"/><path d="M374.5,257.9Q378.6,261.6 382.6,265.1" stroke-opacity="0.31" stroke-width="0.9"/><path d="M303.5,281.2Q306.7,284.8 309.9,288.4" stroke-opacity="0.33" stroke-width="0.8"/><path d="M369.0,273.6Q371.9,276.3 374.9,278.9" stroke-opacity="0.35" stroke-width="0.5"/><path d="M348.6,302.2Q352.3,305.8 356.0,309.4" stroke-opacity="0.23" stroke-width="0.8"/><path d="M354.6,251.5Q359.2,255.9 363.8,260.2" stroke-opacity="0.37" stroke-width="0.8"/><path d="M303.6,276.5Q310.0,283.9 316.6,291.2" stroke-opacity="0.27" stroke-width="0.9"/><path d="M312.9,245.9Q319.5,253.3 326.3,260.5" stroke-opacity="0.16" stroke-width="0.6"/><path d="M301.1,292.5Q307.4,299.8 313.8,306.9" stroke-opacity="0.14" stroke-width="0.8"/><path d="M310.5,277.0Q312.5,279.3 314.6,281.6" stroke-opacity="0.26" stroke-width="0.8"/><path d="M341.7,277.0Q344.5,279.8 347.3,282.6" stroke-opacity="0.23" stroke-width="0.8"/><path d="M325.4,283.2Q330.8,288.9 336.2,294.5" stroke-opacity="0.34" stroke-width="0.8"/><path d="M317.2,287.8Q323.7,294.8 330.3,301.7" stroke-opacity="0.22" stroke-width="0.8"/><path d="M331.2,271.7Q335.1,275.7 339.0,279.7" stroke-opacity="0.23" stroke-width="0.6"/><path d="M379.1,273.4Q385.0,278.6 391.0,283.8" stroke-opacity="0.25" stroke-width="0.7"/><path d="M305.8,276.4Q310.1,281.3 314.5,286.2" stroke-opacity="0.19" stroke-width="0.7"/><path d="M299.5,274.4Q305.6,281.4 311.7,288.3" stroke-opacity="0.20" stroke-width="0.6"/><path d="M388.5,275.5Q392.7,279.2 396.9,282.7" stroke-opacity="0.11" stroke-width="0.7"/><path d="M309.0,294.5Q314.8,301.1 320.7,307.5" stroke-opacity="0.17" stroke-width="0.7"/><path d="M296.2,242.5Q301.0,248.1 305.9,253.8" stroke-opacity="0.36" stroke-width="0.7"/><path d="M389.2,248.1Q392.1,250.6 395.0,253.1" stroke-opacity="0.35" stroke-width="0.7"/><path d="M315.8,259.6Q321.1,265.4 326.5,271.2" stroke-opacity="0.15" stroke-width="0.5"/><path d="M348.8,276.9Q354.1,282.1 359.5,287.3" stroke-opacity="0.13" stroke-width="0.8"/><path d="M329.7,265.8Q336.7,273.1 343.8,280.2" stroke-opacity="0.12" stroke-width="0.7"/><path d="M332.7,277.2Q336.1,280.6 339.4,284.1" stroke-opacity="0.16" stroke-width="0.6"/><path d="M342.7,246.7Q350.0,254.1 357.6,261.3" stroke-opacity="0.36" stroke-width="0.8"/><path d="M329.0,289.8Q334.3,295.3 339.6,300.7" stroke-opacity="0.33" stroke-width="0.9"/><path d="M297.9,282.5Q304.6,290.3 311.4,297.9" stroke-opacity="0.21" stroke-width="0.6"/><path d="M292.3,297.3Q295.3,300.8 298.3,304.4" stroke-opacity="0.08" stroke-width="0.5"/><path d="M338.4,276.8Q345.6,284.1 352.9,291.3" stroke-opacity="0.29" stroke-width="0.5"/><path d="M381.6,292.7Q388.7,298.9 395.9,305.0" stroke-opacity="0.37" stroke-width="0.8"/><path d="M360.8,288.5Q363.1,290.7 365.4,292.9" stroke-opacity="0.40" stroke-width="0.5"/><path d="M331.3,270.1Q336.2,275.2 341.2,280.3" stroke-opacity="0.19" stroke-width="0.7"/><path d="M322.6,280.1Q324.8,282.4 327.1,284.8" stroke-opacity="0.19" stroke-width="0.8"/><path d="M334.8,227.3Q339.5,232.1 344.2,236.8" stroke-opacity="0.38" stroke-width="0.7"/><path d="M360.1,253.2Q367.9,260.6 376.0,267.9" stroke-opacity="0.25" stroke-width="0.8"/><path d="M352.7,290.1Q357.1,294.4 361.6,298.6" stroke-opacity="0.38" stroke-width="0.9"/><path d="M380.9,297.9Q385.4,301.8 389.9,305.6" stroke-opacity="0.19" stroke-width="0.9"/><path d="M372.3,271.9Q377.9,276.9 383.5,281.9" stroke-opacity="0.08" stroke-width="0.7"/><path d="M295.0,268.2Q298.1,271.8 301.2,275.5" stroke-opacity="0.27" stroke-width="0.6"/><path d="M320.8,285.4Q326.0,291.0 331.3,296.5" stroke-opacity="0.12" stroke-width="0.9"/><path d="M288.7,256.2Q294.2,262.9 299.9,269.5" stroke-opacity="0.27" stroke-width="0.8"/><path d="M380.6,233.4Q385.9,238.1 391.3,242.7" stroke-opacity="0.16" stroke-width="0.7"/><path d="M333.7,273.2Q340.3,279.9 346.9,286.6" stroke-opacity="0.24" stroke-width="0.7"/><path d="M342.5,236.4Q349.8,243.7 357.3,250.9" stroke-opacity="0.20" stroke-width="0.7"/><path d="M371.2,288.6Q379.4,296.0 387.6,303.2" stroke-opacity="0.31" stroke-width="0.7"/><path d="M331.1,285.9Q336.7,291.6 342.3,297.3" stroke-opacity="0.08" stroke-width="0.7"/><path d="M354.6,252.0Q361.5,258.7 368.6,265.2" stroke-opacity="0.32" stroke-width="0.9"/><path d="M317.3,277.0Q322.4,282.5 327.5,287.9" stroke-opacity="0.19" stroke-width="0.6"/><path d="M297.8,292.2Q301.2,296.1 304.6,300.1" stroke-opacity="0.19" stroke-width="0.6"/><path d="M342.8,262.3Q349.9,269.3 357.0,276.2" stroke-opacity="0.11" stroke-width="0.6"/><path d="M376.3,290.5Q378.9,292.8 381.5,295.1" stroke-opacity="0.22" stroke-width="0.9"/><path d="M387.1,249.7Q393.8,255.5 400.7,261.2" stroke-opacity="0.19" stroke-width="0.5"/><path d="M377.1,233.1Q385.3,240.4 393.6,247.5" stroke-opacity="0.22" stroke-width="0.8"/><path d="M335.3,294.8Q341.5,301.2 347.9,307.5" stroke-opacity="0.14" stroke-width="0.5"/><path d="M307.1,275.2Q309.7,278.1 312.3,281.0" stroke-opacity="0.10" stroke-width="0.7"/><path d="M292.4,248.5Q297.6,254.6 302.8,260.7" stroke-opacity="0.15" stroke-width="0.8"/><path d="M314.9,254.5Q319.1,259.1 323.3,263.7" stroke-opacity="0.35" stroke-width="0.5"/><path d="M368.4,230.7Q376.3,238.0 384.4,245.1" stroke-opacity="0.26" stroke-width="0.8"/><path d="M339.5,277.1Q345.5,283.1 351.6,289.1" stroke-opacity="0.13" stroke-width="0.6"/><path d="M382.8,244.5Q386.5,247.7 390.3,250.9" stroke-opacity="0.10" stroke-width="0.8"/><path d="M366.6,226.8Q373.9,233.5 381.3,240.0" stroke-opacity="0.12" stroke-width="0.7"/><path d="M341.5,246.4Q345.4,250.3 349.4,254.3" stroke-opacity="0.24" stroke-width="0.8"/><path d="M311.2,240.8Q318.4,248.8 325.8,256.7" stroke-opacity="0.16" stroke-width="0.5"/><path d="M385.3,300.1Q388.9,303.2 392.5,306.2" stroke-opacity="0.25" stroke-width="0.8"/><path d="M323.3,255.1Q325.4,257.3 327.5,259.5" stroke-opacity="0.12" stroke-width="0.7"/><path d="M339.0,293.5Q343.6,298.2 348.3,302.8" stroke-opacity="0.17" stroke-width="0.7"/><path d="M300.9,261.8Q306.5,268.2 312.2,274.6" stroke-opacity="0.14" stroke-width="0.7"/><path d="M391.5,281.6Q395.8,285.2 400.0,288.7" stroke-opacity="0.29" stroke-width="0.5"/><path d="M297.7,287.4Q303.3,294.0 309.1,300.5" stroke-opacity="0.28" stroke-width="0.7"/><path d="M323.6,291.0Q328.5,296.2 333.4,301.4" stroke-opacity="0.34" stroke-width="0.8"/><path d="M322.8,290.3Q326.8,294.5 330.8,298.7" stroke-opacity="0.28" stroke-width="0.8"/><path d="M387.6,276.3Q391.1,279.3 394.6,282.3" stroke-opacity="0.13" stroke-width="0.8"/><path d="M318.8,236.4Q324.0,242.0 329.2,247.5" stroke-opacity="0.21" stroke-width="0.8"/><path d="M303.6,262.7Q310.7,270.7 317.8,278.6" stroke-opacity="0.14" stroke-width="0.7"/><path d="M330.1,237.7Q333.0,240.7 335.8,243.7" stroke-opacity="0.18" stroke-width="0.7"/><path d="M302.3,275.8Q306.2,280.3 310.2,284.8" stroke-opacity="0.18" stroke-width="0.8"/><path d="M365.4,262.0Q369.1,265.5 372.9,268.9" stroke-opacity="0.24" stroke-width="0.8"/><path d="M368.9,280.4Q371.1,282.5 373.3,284.5" stroke-opacity="0.13" stroke-width="0.9"/><path d="M346.0,268.1Q348.8,270.8 351.6,273.6" stroke-opacity="0.33" stroke-width="0.8"/><path d="M321.8,249.2Q324.3,251.8 326.7,254.4" stroke-opacity="0.18" stroke-width="0.7"/><path d="M335.8,228.5Q338.5,231.2 341.1,233.9" stroke-opacity="0.16" stroke-width="0.8"/><path d="M387.0,293.6Q392.3,298.2 397.6,302.6" stroke-opacity="0.20" stroke-width="0.9"/><path d="M364.3,275.4Q370.6,281.3 377.0,287.0" stroke-opacity="0.38" stroke-width="0.7"/><path d="M311.5,280.4Q318.5,288.1 325.7,295.8" stroke-opacity="0.15" stroke-width="0.7"/><path d="M368.8,291.0Q371.3,293.3 373.8,295.6" stroke-opacity="0.34" stroke-width="0.6"/><path d="M300.8,229.3Q305.2,234.3 309.6,239.3" stroke-opacity="0.23" stroke-width="0.6"/><path d="M358.5,237.9Q366.1,245.1 373.8,252.1" stroke-opacity="0.40" stroke-width="0.6"/><path d="M289.7,230.4Q294.3,236.0 299.1,241.5" stroke-opacity="0.19" stroke-width="0.8"/><path d="M331.5,247.6Q334.5,250.7 337.5,253.8" stroke-opacity="0.40" stroke-width="0.8"/><path d="M358.0,243.4Q362.8,247.9 367.6,252.3" stroke-opacity="0.32" stroke-width="0.8"/><path d="M314.5,251.0Q320.9,258.0 327.4,264.9" stroke-opacity="0.10" stroke-width="0.8"/><path d="M360.0,266.0Q365.4,271.1 370.9,276.1" stroke-opacity="0.38" stroke-width="0.6"/><path d="M363.7,281.2Q370.2,287.3 376.8,293.2" stroke-opacity="0.10" stroke-width="0.8"/><path d="M324.0,233.2Q331.0,240.7 338.2,248.1" stroke-opacity="0.16" stroke-width="0.7"/><path d="M320.3,235.4Q324.0,239.3 327.6,243.2" stroke-opacity="0.28" stroke-width="0.8"/><path d="M365.9,238.9Q369.7,242.5 373.6,245.9" stroke-opacity="0.35" stroke-width="0.7"/><path d="M364.2,262.4Q368.8,266.7 373.5,271.0" stroke-opacity="0.09" stroke-width="0.8"/><path d="M382.5,283.5Q386.1,286.7 389.7,289.7" stroke-opacity="0.28" stroke-width="0.8"/><path d="M314.5,252.6Q321.3,260.1 328.2,267.5" stroke-opacity="0.16" stroke-width="0.7"/><path d="M294.7,229.7Q296.9,232.3 299.1,234.8" stroke-opacity="0.18" stroke-width="0.9"/><path d="M349.1,265.6Q352.1,268.5 355.1,271.4" stroke-opacity="0.26" stroke-width="0.6"/><path d="M295.7,252.8Q298.9,256.7 302.3,260.5" stroke-opacity="0.33" stroke-width="0.7"/><path d="M354.2,248.1Q358.6,252.4 363.1,256.6" stroke-opacity="0.12" stroke-width="0.6"/><path d="M390.9,279.4Q395.3,283.1 399.6,286.7" stroke-opacity="0.28" stroke-width="0.9"/><path d="M373.2,268.9Q376.4,271.7 379.6,274.6" stroke-opacity="0.10" stroke-width="0.5"/><path d="M370.9,286.0Q377.3,291.8 383.8,297.5" stroke-opacity="0.31" stroke-width="0.6"/><path d="M350.0,229.0Q352.3,231.2 354.6,233.5" stroke-opacity="0.28" stroke-width="0.5"/><path d="M328.0,251.0Q334.9,258.2 341.9,265.3" stroke-opacity="0.19" stroke-width="0.6"/><path d="M354.9,235.2Q362.7,242.6 370.7,250.0" stroke-opacity="0.38" stroke-width="0.9"/><path d="M353.0,241.5Q356.3,244.7 359.6,247.9" stroke-opacity="0.31" stroke-width="0.7"/><path d="M359.8,241.8Q365.3,246.9 370.9,252.0" stroke-opacity="0.35" stroke-width="0.6"/><path d="M372.5,236.2Q378.7,241.8 385.0,247.3" stroke-opacity="0.09" stroke-width="0.6"/><path d="M294.8,240.5Q299.5,246.0 304.2,251.4" stroke-opacity="0.34" stroke-width="0.8"/><path d="M379.1,243.0Q387.0,249.9 395.0,256.7" stroke-opacity="0.22" stroke-width="0.8"/><path d="M363.3,248.3Q367.1,251.9 371.0,255.4" stroke-opacity="0.22" stroke-width="0.6"/><path d="M361.7,292.8Q367.8,298.5 373.9,304.1" stroke-opacity="0.10" stroke-width="0.8"/><path d="M368.6,304.7Q371.9,307.7 375.2,310.8" stroke-opacity="0.38" stroke-width="0.7"/><path d="M346.2,242.9Q349.7,246.4 353.3,249.9" stroke-opacity="0.21" stroke-width="0.7"/><path d="M314.3,269.2Q318.6,273.9 322.9,278.6" stroke-opacity="0.15" stroke-width="0.8"/><path d="M321.8,229.7Q325.2,233.4 328.6,236.9" stroke-opacity="0.21" stroke-width="0.7"/><path d="M296.8,297.5Q299.1,300.3 301.5,303.0" stroke-opacity="0.38" stroke-width="0.5"/><path d="M318.3,250.7Q324.0,256.9 329.8,263.0" stroke-opacity="0.11" stroke-width="0.6"/><path d="M375.1,300.3Q377.6,302.6 380.2,304.9" stroke-opacity="0.11" stroke-width="0.6"/><path d="M322.4,276.1Q329.6,283.8 336.9,291.3" stroke-opacity="0.28" stroke-width="0.6"/><path d="M312.6,232.9Q315.0,235.5 317.4,238.1" stroke-opacity="0.36" stroke-width="0.8"/><path d="M323.6,240.6Q330.4,247.9 337.3,255.0" stroke-opacity="0.15" stroke-width="0.7"/><path d="M380.0,228.6Q384.3,232.4 388.8,236.2" stroke-opacity="0.14" stroke-width="0.7"/><path d="M382.4,299.8Q389.2,305.8 396.1,311.6" stroke-opacity="0.35" stroke-width="0.7"/><path d="M361.4,280.8Q368.8,287.8 376.4,294.7" stroke-opacity="0.20" stroke-width="0.8"/><path d="M304.7,268.4Q311.7,276.4 318.8,284.2" stroke-opacity="0.32" stroke-width="0.8"/><path d="M305.8,254.1Q310.7,259.7 315.8,265.3" stroke-opacity="0.34" stroke-width="0.6"/><path d="M342.1,283.0Q348.1,289.0 354.2,294.9" stroke-opacity="0.16" stroke-width="0.5"/><path d="M324.3,240.2Q329.4,245.7 334.6,251.1" stroke-opacity="0.25" stroke-width="0.5"/><path d="M385.9,299.3Q389.4,302.3 392.8,305.3" stroke-opacity="0.17" stroke-width="0.9"/><path d="M291.4,238.5Q295.3,243.1 299.1,247.6" stroke-opacity="0.35" stroke-width="0.5"/><path d="M341.3,284.3Q346.9,290.0 352.7,295.6" stroke-opacity="0.22" stroke-width="0.8"/><path d="M362.2,265.0Q366.0,268.5 369.8,272.0" stroke-opacity="0.28" stroke-width="0.8"/><path d="M298.0,276.2Q302.1,281.0 306.3,285.7" stroke-opacity="0.13" stroke-width="0.6"/><path d="M294.3,289.4Q299.2,295.1 304.1,300.8" stroke-opacity="0.22" stroke-width="0.8"/><path d="M375.7,259.4Q378.1,261.6 380.6,263.7" stroke-opacity="0.27" stroke-width="0.6"/><path d="M348.3,231.8Q355.0,238.3 361.9,244.8" stroke-opacity="0.35" stroke-width="0.6"/><path d="M374.1,235.1Q377.2,237.9 380.3,240.7" stroke-opacity="0.26" stroke-width="0.6"/><path d="M326.6,253.0Q332.8,259.6 339.2,266.1" stroke-opacity="0.33" stroke-width="0.9"/><path d="M310.3,243.8Q316.8,251.0 323.3,258.0" stroke-opacity="0.21" stroke-width="0.5"/><path d="M338.7,243.5Q344.4,249.2 350.1,254.9" stroke-opacity="0.21" stroke-width="0.6"/><path d="M367.0,297.6Q370.1,300.5 373.3,303.3" stroke-opacity="0.15" stroke-width="0.7"/><path d="M304.7,301.1Q309.0,306.0 313.3,310.8" stroke-opacity="0.10" stroke-width="0.6"/><path d="M309.4,244.3Q314.6,250.2 319.9,256.0" stroke-opacity="0.36" stroke-width="0.7"/><path d="M344.2,300.7Q349.2,305.6 354.1,310.5" stroke-opacity="0.20" stroke-width="0.8"/><path d="M355.6,256.6Q362.5,263.2 369.5,269.7" stroke-opacity="0.16" stroke-width="0.5"/><path d="M309.7,249.3Q316.3,256.6 323.0,263.8" stroke-opacity="0.16" stroke-width="0.5"/><path d="M298.7,288.0Q303.3,293.3 307.9,298.6" stroke-opacity="0.38" stroke-width="0.6"/><path d="M301.0,238.0Q306.9,244.8 312.9,251.5" stroke-opacity="0.24" stroke-width="0.8"/><path d="M387.8,266.3Q390.6,268.7 393.5,271.2" stroke-opacity="0.35" stroke-width="0.9"/><path d="M345.1,265.8Q351.7,272.3 358.4,278.7" stroke-opacity="0.19" stroke-width="0.5"/><path d="M387.2,263.5Q391.5,267.2 395.9,270.9" stroke-opacity="0.36" stroke-width="0.9"/><path d="M330.1,280.9Q337.7,288.8 345.5,296.6" stroke-opacity="0.25" stroke-width="0.7"/><path d="M383.1,235.3Q389.6,241.0 396.2,246.5" stroke-opacity="0.15" stroke-width="0.6"/><path d="M365.7,229.6Q373.3,236.6 381.1,243.4" stroke-opacity="0.31" stroke-width="0.9"/><path d="M375.4,273.1Q380.0,277.2 384.7,281.3" stroke-opacity="0.11" stroke-width="0.9"/><path d="M369.1,252.0Q373.0,255.6 376.9,259.2" stroke-opacity="0.39" stroke-width="0.6"/><path d="M304.1,242.1Q309.8,248.6 315.6,255.0" stroke-opacity="0.34" stroke-width="0.6"/><path d="M356.6,271.8Q362.6,277.5 368.7,283.2" stroke-opacity="0.13" stroke-width="0.8"/><path d="M297.6,232.9Q302.7,238.8 307.9,244.7" stroke-opacity="0.37" stroke-width="0.8"/><path d="M374.6,292.1Q380.8,297.7 387.1,303.2" stroke-opacity="0.38" stroke-width="0.9"/><path d="M375.1,238.5Q379.1,242.1 383.0,245.6" stroke-opacity="0.22" stroke-width="0.7"/><path d="M334.7,294.6Q340.4,300.4 346.2,306.2" stroke-opacity="0.38" stroke-width="0.9"/><path d="M289.5,244.7Q296.4,253.1 303.6,261.3" stroke-opacity="0.11" stroke-width="0.7"/><path d="M305.6,277.7Q310.0,282.7 314.4,287.7" stroke-opacity="0.36" stroke-width="0.9"/><path d="M377.8,249.5Q383.9,254.9 390.1,260.2" stroke-opacity="0.40" stroke-width="0.7"/><path d="M332.2,302.8Q337.4,308.2 342.7,313.6" stroke-opacity="0.08" stroke-width="0.7"/><path d="M299.0,225.8Q305.5,233.4 312.2,240.9" stroke-opacity="0.32" stroke-width="0.7"/><path d="M386.7,245.5Q389.3,247.7 391.8,249.9" stroke-opacity="0.10" stroke-width="0.7"/><path d="M311.6,274.6Q318.8,282.6 326.1,290.5" stroke-opacity="0.23" stroke-width="0.8"/><path d="M300.9,283.7Q303.9,287.2 307.0,290.7" stroke-opacity="0.35" stroke-width="0.7"/><path d="M326.1,257.6Q329.4,261.2 332.8,264.6" stroke-opacity="0.31" stroke-width="0.7"/><path d="M302.7,247.8Q306.7,252.4 310.7,256.9" stroke-opacity="0.17" stroke-width="0.6"/><path d="M347.1,284.4Q349.2,286.6 351.4,288.7" stroke-opacity="0.30" stroke-width="0.6"/><path d="M340.2,290.2Q343.9,294.0 347.7,297.8" stroke-opacity="0.35" stroke-width="0.5"/><path d="M321.0,227.5Q323.9,230.7 326.8,233.7" stroke-opacity="0.30" stroke-width="0.9"/><path d="M366.4,242.4Q372.1,247.7 377.9,252.9" stroke-opacity="0.28" stroke-width="0.6"/><path d="M291.9,290.2Q298.7,298.2 305.6,306.1" stroke-opacity="0.19" stroke-width="0.5"/><path d="M372.3,243.4Q374.8,245.6 377.3,247.9" stroke-opacity="0.40" stroke-width="0.6"/><path d="M311.0,275.6Q316.8,282.1 322.8,288.5" stroke-opacity="0.29" stroke-width="0.6"/><path d="M381.9,256.3Q385.4,259.3 388.9,262.4" stroke-opacity="0.33" stroke-width="0.6"/><path d="M331.3,246.3Q336.0,251.1 340.8,256.0" stroke-opacity="0.32" stroke-width="0.6"/><path d="M388.5,263.7Q395.9,270.0 403.5,276.2" stroke-opacity="0.22" stroke-width="0.6"/><path d="M347.5,232.8Q350.8,236.1 354.1,239.3" stroke-opacity="0.12" stroke-width="0.6"/><path d="M312.6,236.3Q319.6,244.0 326.7,251.5" stroke-opacity="0.09" stroke-width="0.6"/><path d="M292.3,269.2Q298.8,276.9 305.4,284.5" stroke-opacity="0.26" stroke-width="0.7"/><path d="M366.9,271.6Q373.3,277.5 379.8,283.3" stroke-opacity="0.31" stroke-width="0.6"/><path d="M296.3,250.5Q299.4,254.1 302.4,257.6" stroke-opacity="0.32" stroke-width="0.8"/><path d="M294.0,270.3Q298.7,275.9 303.5,281.4" stroke-opacity="0.22" stroke-width="0.6"/><path d="M388.4,287.4Q395.4,293.3 402.5,299.1" stroke-opacity="0.34" stroke-width="0.9"/><path d="M378.2,286.4Q384.4,291.9 390.8,297.4" stroke-opacity="0.09" stroke-width="0.6"/><path d="M324.4,289.2Q326.6,291.6 328.9,293.9" stroke-opacity="0.31" stroke-width="0.7"/><path d="M299.3,256.1Q302.6,260.0 306.0,263.9" stroke-opacity="0.29" stroke-width="0.6"/><path d="M313.2,289.6Q317.4,294.2 321.6,298.8" stroke-opacity="0.33" stroke-width="0.6"/><path d="M327.6,240.7Q331.0,244.3 334.5,247.9" stroke-opacity="0.24" stroke-width="0.8"/><path d="M340.4,295.1Q344.4,299.1 348.4,303.1" stroke-opacity="0.10" stroke-width="0.8"/><path d="M316.5,247.3Q322.2,253.5 328.0,259.7" stroke-opacity="0.40" stroke-width="0.7"/><path d="M342.9,246.2Q345.4,248.7 347.9,251.2" stroke-opacity="0.19" stroke-width="0.6"/><path d="M344.7,237.2Q348.3,240.8 351.9,244.3" stroke-opacity="0.17" stroke-width="0.5"/><path d="M368.5,252.7Q374.9,258.6 381.4,264.3" stroke-opacity="0.31" stroke-width="0.8"/><path d="M340.6,240.4Q346.2,245.9 351.8,251.5" stroke-opacity="0.19" stroke-width="0.6"/><path d="M371.3,293.3Q378.5,299.9 385.9,306.4" stroke-opacity="0.37" stroke-width="0.7"/><path d="M371.4,272.9Q378.9,279.7 386.6,286.4" stroke-opacity="0.14" stroke-width="0.6"/><path d="M294.6,253.2Q301.6,261.5 308.8,269.6" stroke-opacity="0.26" stroke-width="0.6"/><path d="M352.9,250.3Q358.5,255.7 364.2,261.0" stroke-opacity="0.31" stroke-width="0.8"/><path d="M349.9,259.5Q353.0,262.6 356.2,265.7" stroke-opacity="0.11" stroke-width="0.5"/><path d="M322.2,289.7Q329.0,296.9 335.9,304.1" stroke-opacity="0.14" stroke-width="0.8"/><path d="M323.4,252.5Q330.4,259.9 337.5,267.2" stroke-opacity="0.27" stroke-width="0.7"/><path d="M383.3,249.7Q387.4,253.2 391.5,256.7" stroke-opacity="0.12" stroke-width="0.6"/><path d="M360.9,230.7Q366.0,235.5 371.2,240.3" stroke-opacity="0.13" stroke-width="0.7"/><path d="M292.9,276.9Q297.3,282.1 301.8,287.3" stroke-opacity="0.36" stroke-width="0.6"/><path d="M303.7,271.8Q307.4,276.0 311.0,280.1" stroke-opacity="0.38" stroke-width="0.8"/><path d="M374.9,272.2Q381.3,277.9 387.8,283.5" stroke-opacity="0.16" stroke-width="0.7"/><path d="M309.6,277.8Q314.0,282.7 318.4,287.5" stroke-opacity="0.37" stroke-width="0.7"/><path d="M359.8,231.4Q367.7,238.9 375.7,246.2" stroke-opacity="0.33" stroke-width="0.6"/><path d="M359.0,280.9Q363.2,284.8 367.4,288.7" stroke-opacity="0.17" stroke-width="0.5"/><path d="M302.0,253.6Q305.4,257.6 308.8,261.4" stroke-opacity="0.14" stroke-width="0.9"/><path d="M310.6,258.1Q313.2,261.0 315.8,263.9" stroke-opacity="0.21" stroke-width="0.5"/><path d="M307.2,292.0Q312.3,297.8 317.5,303.5" stroke-opacity="0.28" stroke-width="0.7"/><path d="M352.1,240.6Q354.5,243.0 356.9,245.3" stroke-opacity="0.26" stroke-width="0.6"/><path d="M288.6,291.6Q293.6,297.7 298.8,303.7" stroke-opacity="0.32" stroke-width="0.6"/><path d="M309.0,287.6Q312.0,290.9 315.0,294.3" stroke-opacity="0.17" stroke-width="0.9"/><path d="M354.2,285.5Q361.1,292.2 368.1,298.7" stroke-opacity="0.11" stroke-width="0.5"/><path d="M311.4,294.5Q318.2,302.1 325.2,309.5" stroke-opacity="0.11" stroke-width="0.7"/><path d="M291.5,260.2Q297.6,267.5 303.9,274.7" stroke-opacity="0.22" stroke-width="0.6"/><path d="M306.8,286.3Q311.5,291.7 316.3,296.9" stroke-opacity="0.09" stroke-width="0.6"/><path d="M298.5,262.9Q301.2,266.0 304.0,269.2" stroke-opacity="0.21" stroke-width="0.6"/><path d="M393.3,286.5Q395.8,288.6 398.4,290.8" stroke-opacity="0.31" stroke-width="0.5"/><path d="M367.1,269.1Q373.8,275.3 380.6,281.3" stroke-opacity="0.22" stroke-width="0.8"/><path d="M327.5,278.7Q331.1,282.4 334.7,286.2" stroke-opacity="0.12" stroke-width="0.8"/><path d="M385.7,275.6Q389.3,278.7 393.0,281.8" stroke-opacity="0.15" stroke-width="0.6"/><path d="M334.7,256.7Q338.6,260.6 342.4,264.5" stroke-opacity="0.27" stroke-width="0.7"/><path d="M308.0,231.2Q313.3,237.2 318.8,243.2" stroke-opacity="0.13" stroke-width="0.8"/><path d="M299.9,257.1Q303.6,261.3 307.2,265.5" stroke-opacity="0.35" stroke-width="0.6"/><path d="M380.5,252.6Q384.1,255.7 387.6,258.8" stroke-opacity="0.24" stroke-width="0.9"/><path d="M344.2,237.2Q351.6,244.6 359.2,251.9" stroke-opacity="0.14" stroke-width="0.8"/><path d="M362.3,297.8Q370.0,305.0 377.9,312.2" stroke-opacity="0.29" stroke-width="0.8"/><path d="M373.2,296.5Q377.4,300.2 381.6,303.9" stroke-opacity="0.34" stroke-width="0.7"/><path d="M350.5,254.1Q356.1,259.5 361.8,264.9" stroke-opacity="0.22" stroke-width="0.6"/><path d="M350.9,244.4Q355.7,249.0 360.4,253.5" stroke-opacity="0.35" stroke-width="0.8"/><path d="M299.2,302.9Q301.6,305.7 304.1,308.5" stroke-opacity="0.15" stroke-width="0.5"/><path d="M378.4,251.9Q381.1,254.3 383.8,256.7" stroke-opacity="0.19" stroke-width="0.8"/><path d="M321.3,228.0Q325.3,232.3 329.3,236.5" stroke-opacity="0.28" stroke-width="0.8"/><path d="M382.9,299.1Q388.4,303.9 393.9,308.6" stroke-opacity="0.16" stroke-width="0.6"/><path d="M378.7,275.1Q384.3,280.1 390.0,285.0" stroke-opacity="0.33" stroke-width="0.7"/><path d="M330.6,272.6Q333.5,275.7 336.5,278.7" stroke-opacity="0.34" stroke-width="0.8"/><path d="M318.5,278.8Q322.5,283.1 326.4,287.3" stroke-opacity="0.13" stroke-width="0.5"/><path d="M318.9,250.2Q325.4,257.3 332.1,264.3" stroke-opacity="0.26" stroke-width="0.9"/><path d="M363.4,248.2Q368.1,252.6 372.9,257.0" stroke-opacity="0.36" stroke-width="0.6"/><path d="M304.0,239.5Q309.6,246.0 315.4,252.3" stroke-opacity="0.39" stroke-width="0.9"/><path d="M374.3,244.6Q382.1,251.6 390.0,258.4" stroke-opacity="0.19" stroke-width="0.6"/><path d="M322.1,298.1Q325.9,302.2 329.8,306.3" stroke-opacity="0.34" stroke-width="0.6"/><path d="M364.5,298.8Q369.4,303.4 374.5,308.0" stroke-opacity="0.30" stroke-width="0.8"/><path d="M312.7,276.2Q316.3,280.2 320.0,284.2" stroke-opacity="0.10" stroke-width="0.5"/><path d="M344.3,234.7Q348.9,239.2 353.5,243.7" stroke-opacity="0.29" stroke-width="0.7"/><path d="M364.4,240.3Q371.1,246.6 377.9,252.7" stroke-opacity="0.30" stroke-width="0.6"/><path d="M333.0,225.2Q338.7,231.1 344.4,236.9" stroke-opacity="0.14" stroke-width="0.9"/><path d="M293.0,273.7Q297.0,278.5 301.1,283.2" stroke-opacity="0.21" stroke-width="0.8"/><path d="M329.7,277.9Q336.6,285.0 343.5,292.0" stroke-opacity="0.36" stroke-width="0.8"/><path d="M389.1,298.2Q394.1,302.5 399.2,306.7" stroke-opacity="0.12" stroke-width="0.5"/><path d="M302.6,277.4Q307.4,282.8 312.2,288.2" stroke-opacity="0.24" stroke-width="0.6"/><path d="M331.2,249.4Q333.6,251.9 336.0,254.4" stroke-opacity="0.24" stroke-width="0.6"/><path d="M322.5,260.0Q326.8,264.6 331.1,269.1" stroke-opacity="0.15" stroke-width="0.8"/><path d="M383.5,271.6Q391.3,278.4 399.3,285.1" stroke-opacity="0.37" stroke-width="0.5"/><path d="M362.5,304.3Q366.2,307.9 370.0,311.4" stroke-opacity="0.31" stroke-width="0.7"/><path d="M385.8,263.9Q393.4,270.5 401.1,276.9" stroke-opacity="0.23" stroke-width="0.5"/><path d="M343.8,258.5Q346.3,261.0 348.8,263.5" stroke-opacity="0.18" stroke-width="0.6"/><path d="M380.3,295.7Q385.8,300.6 391.3,305.3" stroke-opacity="0.37" stroke-width="0.7"/><path d="M352.5,276.6Q360.3,284.1 368.2,291.4" stroke-opacity="0.30" stroke-width="0.6"/><path d="M340.6,286.6Q347.1,293.2 353.8,299.6" stroke-opacity="0.16" stroke-width="0.9"/><path d="M339.8,287.0Q347.3,294.5 354.9,301.9" stroke-opacity="0.35" stroke-width="0.6"/><path d="M335.6,235.3Q338.9,238.7 342.2,242.1" stroke-opacity="0.11" stroke-width="0.6"/><path d="M295.3,279.1Q302.2,287.2 309.3,295.2" stroke-opacity="0.31" stroke-width="0.8"/><path d="M353.1,264.7Q357.8,269.2 362.5,273.7" stroke-opacity="0.09" stroke-width="0.8"/><path d="M302.7,296.5Q306.1,300.3 309.4,304.2" stroke-opacity="0.23" stroke-width="0.8"/><path d="M331.0,256.9Q338.6,264.8 346.4,272.6" stroke-opacity="0.34" stroke-width="0.6"/><path d="M357.0,284.9Q360.9,288.5 364.8,292.2" stroke-opacity="0.12" stroke-width="0.7"/><path d="M326.5,258.4Q332.1,264.4 337.9,270.3" stroke-opacity="0.11" stroke-width="0.7"/><path d="M373.3,287.4Q379.8,293.3 386.3,299.0" stroke-opacity="0.14" stroke-width="0.6"/><path d="M319.4,300.6Q326.1,307.8 332.9,314.9" stroke-opacity="0.26" stroke-width="0.6"/><path d="M357.1,295.9Q364.9,303.3 372.8,310.5" stroke-opacity="0.37" stroke-width="0.6"/><path d="M387.0,279.6Q394.1,285.7 401.3,291.7" stroke-opacity="0.13" stroke-width="0.9"/><path d="M379.3,278.3Q385.6,283.9 392.1,289.4" stroke-opacity="0.26" stroke-width="0.6"/><path d="M370.1,281.6Q376.4,287.4 382.9,293.1" stroke-opacity="0.27" stroke-width="0.8"/><path d="M332.1,284.8Q338.2,291.1 344.3,297.2" stroke-opacity="0.37" stroke-width="0.7"/><path d="M385.6,242.9Q391.0,247.6 396.4,252.2" stroke-opacity="0.24" stroke-width="0.9"/><path d="M358.0,252.8Q361.1,255.8 364.3,258.7" stroke-opacity="0.24" stroke-width="0.7"/><path d="M321.2,254.7Q326.7,260.5 332.2,266.3" stroke-opacity="0.30" stroke-width="0.5"/><path d="M299.0,283.4Q303.4,288.4 307.8,293.4" stroke-opacity="0.34" stroke-width="0.6"/><path d="M376.3,282.0Q382.2,287.4 388.3,292.6" stroke-opacity="0.38" stroke-width="0.6"/><path d="M349.9,305.3Q352.9,308.2 355.8,311.0" stroke-opacity="0.16" stroke-width="0.8"/><path d="M316.5,286.6Q318.5,288.8 320.5,291.0" stroke-opacity="0.12" stroke-width="0.7"/><path d="M317.4,283.2Q323.0,289.3 328.7,295.3" stroke-opacity="0.26" stroke-width="0.5"/><path d="M330.2,234.3Q334.7,239.0 339.2,243.6" stroke-opacity="0.18" stroke-width="0.6"/><path d="M317.4,301.0Q320.8,304.7 324.2,308.4" stroke-opacity="0.35" stroke-width="0.5"/><path d="M354.5,258.7Q359.0,263.0 363.5,267.2" stroke-opacity="0.13" stroke-width="0.8"/><path d="M318.3,257.9Q322.1,262.1 326.0,266.2" stroke-opacity="0.25" stroke-width="0.6"/><path d="M305.0,287.9Q310.3,293.9 315.7,299.8" stroke-opacity="0.33" stroke-width="0.8"/><path d="M317.2,299.7Q322.2,305.1 327.3,310.5" stroke-opacity="0.08" stroke-width="0.7"/><path d="M364.6,228.2Q370.8,234.0 377.1,239.6" stroke-opacity="0.20" stroke-width="0.6"/><path d="M336.6,281.5Q343.3,288.3 350.1,295.0" stroke-opacity="0.38" stroke-width="0.7"/><path d="M300.2,281.9Q304.3,286.6 308.4,291.2" stroke-opacity="0.28" stroke-width="0.7"/><path d="M335.5,273.8Q341.6,280.0 347.7,286.1" stroke-opacity="0.38" stroke-width="0.7"/><path d="M323.6,269.3Q331.0,277.2 338.6,285.0" stroke-opacity="0.19" stroke-width="0.5"/><path d="M292.3,286.9Q299.2,295.1 306.2,303.1" stroke-opacity="0.23" stroke-width="0.6"/><path d="M314.2,262.3Q320.3,269.0 326.4,275.6" stroke-opacity="0.27" stroke-width="0.8"/><path d="M390.1,251.9Q394.6,255.7 399.1,259.4" stroke-opacity="0.10" stroke-width="0.9"/><path d="M380.4,254.0Q388.3,261.0 396.4,267.8" stroke-opacity="0.33" stroke-width="0.8"/><path d="M363.9,279.8Q369.3,284.9 374.8,289.8" stroke-opacity="0.16" stroke-width="0.7"/><path d="M322.6,275.8Q326.0,279.4 329.4,283.1" stroke-opacity="0.35" stroke-width="0.6"/><path d="M296.3,259.1Q303.3,267.3 310.6,275.4" stroke-opacity="0.28" stroke-width="0.6"/><path d="M296.6,232.1Q299.1,235.0 301.7,238.0" stroke-opacity="0.36" stroke-width="0.7"/><path d="M351.6,228.1Q356.2,232.5 360.7,236.9" stroke-opacity="0.16" stroke-width="0.8"/><path d="M325.7,241.4Q333.2,249.3 340.8,257.1" stroke-opacity="0.09" stroke-width="0.5"/><path d="M358.5,296.8Q362.6,300.6 366.7,304.4" stroke-opacity="0.18" stroke-width="0.6"/><path d="M335.3,276.8Q339.9,281.5 344.4,286.1" stroke-opacity="0.08" stroke-width="0.6"/><path d="M352.3,248.0Q358.4,253.9 364.7,259.8" stroke-opacity="0.39" stroke-width="0.7"/><path d="M390.5,229.0Q394.5,232.3 398.4,235.6" stroke-opacity="0.10" stroke-width="0.8"/><path d="M326.3,249.9Q329.5,253.3 332.8,256.7" stroke-opacity="0.32" stroke-width="0.5"/><path d="M357.3,229.9Q364.9,237.1 372.6,244.2" stroke-opacity="0.28" stroke-width="0.7"/><path d="M292.1,226.7Q296.2,231.5 300.3,236.3" stroke-opacity="0.31" stroke-width="0.8"/><path d="M342.4,244.5Q348.9,250.9 355.4,257.2" stroke-opacity="0.28" stroke-width="0.8"/><path d="M378.7,298.2Q382.1,301.1 385.5,304.1" stroke-opacity="0.30" stroke-width="0.8"/><path d="M353.5,262.8Q358.8,267.9 364.1,272.9" stroke-opacity="0.11" stroke-width="0.8"/><path d="M371.1,294.8Q375.4,298.7 379.8,302.5" stroke-opacity="0.37" stroke-width="0.7"/><path d="M372.9,290.3Q377.6,294.6 382.4,298.9" stroke-opacity="0.29" stroke-width="0.7"/><path d="M379.2,228.7Q382.3,231.5 385.4,234.2" stroke-opacity="0.40" stroke-width="0.8"/><path d="M387.5,275.3Q395.8,282.4 404.3,289.4" stroke-opacity="0.32" stroke-width="0.6"/><path d="M358.7,296.0Q366.4,303.3 374.2,310.4" stroke-opacity="0.28" stroke-width="0.9"/><path d="M376.7,229.8Q380.2,232.9 383.7,236.0" stroke-opacity="0.38" stroke-width="0.9"/><path d="M321.2,228.1Q327.5,234.8 333.9,241.5" stroke-opacity="0.22" stroke-width="0.9"/><path d="M373.8,234.4Q379.2,239.3 384.7,244.1" stroke-opacity="0.24" stroke-width="0.5"/><path d="M382.2,259.5Q386.8,263.7 391.6,267.7" stroke-opacity="0.21" stroke-width="0.8"/><path d="M384.2,239.8Q391.5,246.2 399.0,252.5" stroke-opacity="0.26" stroke-width="0.7"/><path d="M289.9,241.6Q296.4,249.3 302.9,256.9" stroke-opacity="0.35" stroke-width="0.7"/><path d="M360.2,241.5Q367.1,247.9 374.0,254.2" stroke-opacity="0.33" stroke-width="0.9"/><path d="M336.6,236.7Q342.7,242.9 349.0,249.1" stroke-opacity="0.35" stroke-width="0.8"/><path d="M359.8,287.6Q365.6,293.0 371.4,298.4" stroke-opacity="0.12" stroke-width="0.5"/><path d="M333.8,292.2Q337.6,296.1 341.4,299.9" stroke-opacity="0.25" stroke-width="0.6"/><path d="M350.1,255.1Q354.0,258.9 358.0,262.7" stroke-opacity="0.25" stroke-width="0.6"/><path d="M385.3,300.3Q389.8,304.3 394.3,308.1" stroke-opacity="0.15" stroke-width="0.8"/><path d="M333.6,292.1Q335.8,294.4 338.0,296.7" stroke-opacity="0.33" stroke-width="0.7"/><path d="M379.4,231.6Q382.2,234.1 385.1,236.6" stroke-opacity="0.35" stroke-width="0.8"/><path d="M310.2,271.3Q316.6,278.5 323.2,285.6" stroke-opacity="0.23" stroke-width="0.8"/><path d="M293.8,230.8Q300.8,239.0 307.9,247.1" stroke-opacity="0.26" stroke-width="0.5"/><path d="M306.0,230.8Q311.7,237.2 317.5,243.6" stroke-opacity="0.11" stroke-width="0.6"/><path d="M327.3,303.0Q331.0,306.9 334.8,310.8" stroke-opacity="0.16" stroke-width="0.7"/><path d="M366.1,302.1Q371.7,307.3 377.4,312.4" stroke-opacity="0.10" stroke-width="0.8"/><path d="M296.6,260.4Q300.2,264.7 303.9,268.9" stroke-opacity="0.34" stroke-width="0.7"/><path d="M335.3,227.1Q338.9,230.8 342.5,234.4" stroke-opacity="0.40" stroke-width="0.5"/><path d="M293.0,274.2Q297.9,279.9 302.8,285.6" stroke-opacity="0.15" stroke-width="0.6"/><path d="M351.0,242.3Q355.1,246.3 359.2,250.3" stroke-opacity="0.15" stroke-width="0.8"/><path d="M370.3,292.8Q375.1,297.2 379.9,301.5" stroke-opacity="0.21" stroke-width="0.7"/><path d="M308.5,302.6Q311.7,306.2 315.0,309.8" stroke-opacity="0.34" stroke-width="0.8"/><path d="M301.5,292.2Q306.9,298.4 312.4,304.6" stroke-opacity="0.15" stroke-width="0.6"/><path d="M334.5,281.6Q341.1,288.4 347.8,295.1" stroke-opacity="0.37" stroke-width="0.7"/><path d="M326.1,277.1Q330.7,282.0 335.4,286.9" stroke-opacity="0.20" stroke-width="0.9"/><path d="M379.1,234.2Q383.0,237.7 387.0,241.2" stroke-opacity="0.09" stroke-width="0.6"/><path d="M293.1,297.1Q297.3,302.1 301.5,307.0" stroke-opacity="0.14" stroke-width="0.6"/><path d="M355.1,249.2Q357.6,251.7 360.2,254.1" stroke-opacity="0.13" stroke-width="0.7"/><path d="M315.1,254.4Q319.5,259.2 323.9,263.9" stroke-opacity="0.35" stroke-width="0.6"/><path d="M307.2,261.5Q312.9,267.9 318.7,274.2" stroke-opacity="0.29" stroke-width="0.6"/><path d="M371.2,224.9Q377.4,230.6 383.7,236.1" stroke-opacity="0.14" stroke-width="0.6"/><path d="M300.1,301.7Q304.2,306.4 308.3,311.0" stroke-opacity="0.38" stroke-width="0.9"/><path d="M324.6,289.3Q327.6,292.5 330.7,295.7" stroke-opacity="0.25" stroke-width="0.9"/><path d="M360.7,283.4Q367.4,289.6 374.1,295.7" stroke-opacity="0.09" stroke-width="0.8"/><path d="M296.9,258.6Q302.5,265.1 308.2,271.6" stroke-opacity="0.30" stroke-width="0.8"/><path d="M390.4,253.6Q393.0,255.8 395.6,258.1" stroke-opacity="0.32" stroke-width="0.7"/><path d="M390.0,269.9Q393.9,273.2 397.8,276.5" stroke-opacity="0.31" stroke-width="0.6"/><path d="M380.1,247.0Q385.6,251.9 391.3,256.7" stroke-opacity="0.15" stroke-width="0.8"/><path d="M320.5,241.2Q322.9,243.7 325.2,246.3" stroke-opacity="0.38" stroke-width="0.9"/></g><g fill="none" stroke="#55606c" stroke-linecap="round" filter="url(#soft)"><path d="M389.2,239.5Q391.7,241.5 394.1,243.6" stroke-opacity="0.22" stroke-width="0.6"/><path d="M301.0,277.6Q304.5,281.6 308.1,285.7" stroke-opacity="0.20" stroke-width="0.6"/><path d="M386.3,250.9Q391.8,255.6 397.3,260.2" stroke-opacity="0.21" stroke-width="0.8"/><path d="M385.6,283.9Q388.1,286.1 390.6,288.3" stroke-opacity="0.20" stroke-width="0.7"/><path d="M318.2,238.9Q324.3,245.4 330.5,251.9" stroke-opacity="0.16" stroke-width="0.9"/><path d="M367.4,301.3Q372.5,306.0 377.7,310.6" stroke-opacity="0.18" stroke-width="0.7"/><path d="M315.4,301.8Q318.9,305.6 322.4,309.4" stroke-opacity="0.19" stroke-width="0.9"/><path d="M353.3,235.6Q359.7,241.7 366.1,247.7" stroke-opacity="0.17" stroke-width="0.6"/><path d="M295.0,269.8Q297.1,272.3 299.2,274.7" stroke-opacity="0.21" stroke-width="0.7"/><path d="M340.4,257.2Q345.8,262.7 351.2,268.0" stroke-opacity="0.21" stroke-width="0.6"/><path d="M327.4,272.6Q330.9,276.2 334.4,279.9" stroke-opacity="0.16" stroke-width="0.7"/><path d="M332.4,278.5Q337.1,283.4 341.8,288.1" stroke-opacity="0.09" stroke-width="0.9"/><path d="M325.0,260.2Q329.0,264.4 333.0,268.6" stroke-opacity="0.21" stroke-width="0.9"/><path d="M342.6,259.4Q345.2,262.0 347.9,264.5" stroke-opacity="0.21" stroke-width="0.6"/><path d="M345.1,254.2Q348.8,257.9 352.6,261.6" stroke-opacity="0.13" stroke-width="0.6"/><path d="M290.3,266.0Q295.8,272.6 301.4,279.0" stroke-opacity="0.17" stroke-width="0.6"/><path d="M359.9,230.6Q364.1,234.6 368.4,238.6" stroke-opacity="0.20" stroke-width="0.9"/><path d="M335.4,292.3Q339.9,297.0 344.5,301.6" stroke-opacity="0.15" stroke-width="0.7"/><path d="M390.3,284.8Q395.1,288.9 399.9,292.9" stroke-opacity="0.18" stroke-width="0.8"/><path d="M322.8,285.7Q328.8,292.1 334.8,298.4" stroke-opacity="0.17" stroke-width="0.9"/><path d="M289.1,264.1Q293.9,269.8 298.7,275.4" stroke-opacity="0.13" stroke-width="0.6"/><path d="M360.4,261.3Q364.0,264.6 367.6,267.9" stroke-opacity="0.09" stroke-width="0.9"/><path d="M325.5,236.5Q328.6,239.8 331.8,243.0" stroke-opacity="0.12" stroke-width="0.8"/><path d="M308.3,249.4Q310.8,252.2 313.2,254.9" stroke-opacity="0.15" stroke-width="0.6"/><path d="M321.3,281.3Q327.8,288.2 334.3,295.0" stroke-opacity="0.20" stroke-width="0.5"/><path d="M329.1,294.8Q331.3,297.1 333.5,299.5" stroke-opacity="0.11" stroke-width="0.7"/><path d="M326.2,283.6Q331.8,289.4 337.4,295.2" stroke-opacity="0.15" stroke-width="0.6"/><path d="M313.7,248.8Q316.0,251.4 318.3,254.0" stroke-opacity="0.17" stroke-width="0.6"/><path d="M381.9,279.0Q384.5,281.2 387.1,283.4" stroke-opacity="0.15" stroke-width="0.7"/><path d="M294.3,266.3Q296.4,268.7 298.5,271.1" stroke-opacity="0.19" stroke-width="0.5"/><path d="M351.3,301.7Q357.7,307.9 364.2,314.0" stroke-opacity="0.11" stroke-width="0.7"/><path d="M300.6,250.6Q306.5,257.4 312.6,264.1" stroke-opacity="0.19" stroke-width="0.5"/><path d="M328.6,277.7Q331.5,280.8 334.4,283.8" stroke-opacity="0.19" stroke-width="0.9"/><path d="M343.0,252.6Q349.3,258.9 355.7,265.2" stroke-opacity="0.15" stroke-width="0.6"/><path d="M314.9,236.5Q320.9,243.0 326.9,249.5" stroke-opacity="0.15" stroke-width="0.8"/><path d="M373.8,304.0Q377.0,306.9 380.2,309.8" stroke-opacity="0.14" stroke-width="0.8"/><path d="M365.6,255.7Q371.2,260.9 376.8,266.0" stroke-opacity="0.11" stroke-width="0.6"/><path d="M294.2,256.8Q297.3,260.3 300.3,263.8" stroke-opacity="0.15" stroke-width="0.9"/><path d="M301.9,267.5Q307.9,274.3 313.9,281.0" stroke-opacity="0.16" stroke-width="0.7"/><path d="M364.8,225.7Q371.8,232.2 379.0,238.7" stroke-opacity="0.18" stroke-width="0.8"/><path d="M375.2,235.9Q377.8,238.2 380.4,240.5" stroke-opacity="0.10" stroke-width="0.7"/><path d="M385.1,298.0Q389.6,301.9 394.1,305.7" stroke-opacity="0.17" stroke-width="0.8"/><path d="M320.0,299.7Q326.5,306.7 333.2,313.6" stroke-opacity="0.18" stroke-width="0.9"/><path d="M371.4,278.2Q375.3,281.7 379.2,285.2" stroke-opacity="0.12" stroke-width="0.6"/><path d="M294.7,299.3Q298.0,303.2 301.3,307.0" stroke-opacity="0.08" stroke-width="0.6"/><path d="M299.2,261.4Q302.7,265.5 306.2,269.5" stroke-opacity="0.10" stroke-width="0.7"/><path d="M329.1,252.0Q335.1,258.3 341.2,264.5" stroke-opacity="0.12" stroke-width="0.7"/><path d="M379.1,302.1Q383.3,305.8 387.5,309.5" stroke-opacity="0.09" stroke-width="0.9"/><path d="M342.7,244.8Q345.5,247.6 348.2,250.3" stroke-opacity="0.11" stroke-width="0.6"/><path d="M299.9,226.8Q306.4,234.4 313.0,241.8" stroke-opacity="0.19" stroke-width="0.5"/><path d="M337.4,288.8Q342.0,293.4 346.6,298.0" stroke-opacity="0.09" stroke-width="0.6"/><path d="M326.7,297.2Q331.6,302.3 336.5,307.4" stroke-opacity="0.14" stroke-width="0.8"/><path d="M291.5,277.8Q297.0,284.4 302.7,290.9" stroke-opacity="0.17" stroke-width="0.6"/><path d="M319.3,228.7Q321.7,231.3 324.2,233.9" stroke-opacity="0.10" stroke-width="0.7"/><path d="M368.3,243.3Q372.9,247.6 377.6,251.8" stroke-opacity="0.17" stroke-width="0.8"/><path d="M289.6,297.3Q294.1,302.8 298.7,308.2" stroke-opacity="0.12" stroke-width="0.6"/><path d="M359.7,300.0Q363.6,303.7 367.6,307.4" stroke-opacity="0.14" stroke-width="0.7"/><path d="M303.9,255.3Q310.2,262.4 316.5,269.4" stroke-opacity="0.16" stroke-width="0.8"/><path d="M313.5,292.4Q319.2,298.7 325.0,304.9" stroke-opacity="0.11" stroke-width="0.7"/><path d="M357.7,270.5Q362.9,275.5 368.2,280.4" stroke-opacity="0.11" stroke-width="0.7"/><path d="M325.0,289.1Q328.9,293.1 332.7,297.2" stroke-opacity="0.22" stroke-width="0.7"/><path d="M313.1,260.2Q315.7,263.1 318.3,266.0" stroke-opacity="0.18" stroke-width="0.5"/><path d="M348.9,248.8Q354.9,254.7 361.0,260.5" stroke-opacity="0.10" stroke-width="0.8"/><path d="M363.4,246.1Q366.2,248.8 369.1,251.5" stroke-opacity="0.13" stroke-width="0.8"/><path d="M315.0,226.7Q319.1,231.2 323.3,235.7" stroke-opacity="0.19" stroke-width="0.6"/><path d="M386.7,267.7Q389.8,270.4 393.0,273.1" stroke-opacity="0.09" stroke-width="0.6"/><path d="M339.0,241.7Q341.5,244.3 344.1,246.8" stroke-opacity="0.15" stroke-width="0.6"/><path d="M332.7,260.2Q338.2,265.9 343.7,271.5" stroke-opacity="0.16" stroke-width="0.6"/><path d="M308.5,295.4Q310.7,297.9 312.9,300.4" stroke-opacity="0.10" stroke-width="0.5"/><path d="M370.9,266.6Q377.9,273.0 385.0,279.2" stroke-opacity="0.17" stroke-width="0.6"/><path d="M333.6,284.7Q336.8,288.0 340.0,291.3" stroke-opacity="0.19" stroke-width="0.7"/><path d="M291.9,252.2Q296.4,257.5 300.9,262.7" stroke-opacity="0.10" stroke-width="0.9"/><path d="M381.3,264.5Q388.3,270.7 395.4,276.7" stroke-opacity="0.18" stroke-width="0.7"/><path d="M302.2,298.2Q308.4,305.3 314.7,312.3" stroke-opacity="0.14" stroke-width="0.7"/><path d="M293.8,272.3Q299.6,279.1 305.5,285.9" stroke-opacity="0.13" stroke-width="0.6"/><path d="M352.7,289.9Q355.7,292.8 358.8,295.7" stroke-opacity="0.12" stroke-width="0.8"/><path d="M292.9,290.6Q296.3,294.6 299.7,298.6" stroke-opacity="0.20" stroke-width="0.7"/><path d="M306.7,229.2Q309.2,232.0 311.7,234.9" stroke-opacity="0.12" stroke-width="0.8"/><path d="M370.8,276.6Q374.6,280.1 378.4,283.5" stroke-opacity="0.17" stroke-width="0.8"/><path d="M325.9,232.3Q330.2,236.9 334.6,241.4" stroke-opacity="0.11" stroke-width="0.6"/><path d="M326.2,229.6Q332.6,236.4 339.1,243.0" stroke-opacity="0.12" stroke-width="0.9"/><path d="M361.9,225.0Q368.7,231.4 375.6,237.6" stroke-opacity="0.19" stroke-width="0.7"/><path d="M381.6,266.0Q384.0,268.1 386.4,270.1" stroke-opacity="0.10" stroke-width="0.6"/><path d="M378.4,293.1Q381.2,295.6 384.1,298.1" stroke-opacity="0.13" stroke-width="0.5"/><path d="M311.8,253.8Q315.7,258.2 319.7,262.5" stroke-opacity="0.10" stroke-width="0.8"/><path d="M312.9,295.7Q317.2,300.4 321.5,305.1" stroke-opacity="0.14" stroke-width="0.8"/><path d="M325.2,247.9Q327.9,250.7 330.5,253.5" stroke-opacity="0.12" stroke-width="0.6"/><path d="M362.6,253.0Q368.4,258.4 374.3,263.7" stroke-opacity="0.12" stroke-width="0.5"/><path d="M317.3,254.4Q323.7,261.3 330.1,268.1" stroke-opacity="0.11" stroke-width="0.6"/><path d="M301.8,243.1Q308.2,250.4 314.7,257.6" stroke-opacity="0.21" stroke-width="0.6"/><path d="M292.6,263.3Q297.2,268.7 301.8,274.1" stroke-opacity="0.10" stroke-width="0.7"/><path d="M366.0,225.2Q371.9,230.6 377.9,236.0" stroke-opacity="0.18" stroke-width="0.8"/><path d="M338.0,262.2Q342.6,266.9 347.3,271.6" stroke-opacity="0.10" stroke-width="0.7"/><path d="M314.7,253.2Q316.9,255.7 319.1,258.1" stroke-opacity="0.10" stroke-width="0.5"/><path d="M343.4,244.2Q348.2,249.1 353.2,253.9" stroke-opacity="0.15" stroke-width="0.6"/><path d="M300.1,271.5Q305.2,277.3 310.3,283.1" stroke-opacity="0.18" stroke-width="0.7"/><path d="M348.6,228.8Q352.3,232.4 356.0,236.0" stroke-opacity="0.19" stroke-width="0.7"/><path d="M297.0,256.9Q302.8,263.6 308.6,270.2" stroke-opacity="0.09" stroke-width="0.5"/><path d="M339.8,294.9Q343.8,299.0 347.9,303.0" stroke-opacity="0.11" stroke-width="0.8"/><path d="M297.1,248.2Q301.8,253.7 306.5,259.1" stroke-opacity="0.20" stroke-width="0.8"/><path d="M322.1,247.4Q325.9,251.4 329.7,255.4" stroke-opacity="0.10" stroke-width="0.6"/><path d="M368.1,304.0Q371.7,307.4 375.3,310.6" stroke-opacity="0.09" stroke-width="0.8"/><path d="M388.0,289.0Q392.5,292.9 397.0,296.6" stroke-opacity="0.18" stroke-width="0.8"/><path d="M362.0,262.4Q369.3,269.2 376.8,275.9" stroke-opacity="0.19" stroke-width="0.6"/><path d="M332.9,233.5Q336.8,237.5 340.7,241.5" stroke-opacity="0.19" stroke-width="0.7"/><path d="M344.0,289.1Q346.5,291.7 349.1,294.2" stroke-opacity="0.13" stroke-width="0.7"/><path d="M336.6,277.5Q343.3,284.3 350.1,291.0" stroke-opacity="0.19" stroke-width="0.7"/><path d="M355.9,266.0Q363.1,272.8 370.4,279.5" stroke-opacity="0.16" stroke-width="0.7"/><path d="M327.4,257.4Q333.2,263.4 339.0,269.4" stroke-opacity="0.13" stroke-width="0.9"/><path d="M361.9,300.1Q367.7,305.5 373.5,310.8" stroke-opacity="0.16" stroke-width="0.6"/><path d="M288.6,276.1Q293.9,282.4 299.2,288.7" stroke-opacity="0.18" stroke-width="0.8"/><path d="M292.5,280.4Q295.7,284.2 298.9,288.0" stroke-opacity="0.13" stroke-width="0.8"/><path d="M331.8,264.7Q334.1,267.2 336.5,269.6" stroke-opacity="0.11" stroke-width="0.6"/><path d="M312.1,269.0Q314.4,271.5 316.6,274.0" stroke-opacity="0.09" stroke-width="0.5"/><path d="M362.2,301.1Q368.3,306.7 374.4,312.2" stroke-opacity="0.15" stroke-width="0.6"/><path d="M370.9,238.3Q373.5,240.7 376.2,243.0" stroke-opacity="0.15" stroke-width="0.8"/><path d="M320.7,294.4Q324.3,298.3 328.0,302.2" stroke-opacity="0.22" stroke-width="0.8"/><path d="M375.4,302.0Q381.9,307.8 388.5,313.5" stroke-opacity="0.11" stroke-width="0.7"/><path d="M345.4,284.0Q348.6,287.2 351.9,290.4" stroke-opacity="0.16" stroke-width="0.6"/><path d="M305.4,259.4Q311.1,265.8 316.9,272.2" stroke-opacity="0.16" stroke-width="0.6"/><path d="M311.6,254.4Q315.5,258.7 319.4,263.0" stroke-opacity="0.12" stroke-width="0.6"/><path d="M310.5,247.9Q315.6,253.6 320.8,259.3" stroke-opacity="0.17" stroke-width="0.8"/><path d="M385.1,280.2Q388.1,282.8 391.1,285.3" stroke-opacity="0.14" stroke-width="0.7"/><path d="M366.9,269.7Q369.6,272.1 372.3,274.6" stroke-opacity="0.15" stroke-width="0.8"/><path d="M370.3,262.5Q373.7,265.5 377.0,268.5" stroke-opacity="0.08" stroke-width="0.7"/><path d="M365.1,234.7Q370.0,239.2 374.9,243.7" stroke-opacity="0.16" stroke-width="0.7"/><path d="M314.0,235.4Q316.1,237.7 318.2,240.1" stroke-opacity="0.12" stroke-width="0.9"/><path d="M329.5,301.7Q335.6,308.0 341.7,314.2" stroke-opacity="0.16" stroke-width="0.7"/><path d="M346.7,292.7Q350.5,296.4 354.3,300.2" stroke-opacity="0.10" stroke-width="0.9"/><path d="M353.4,256.1Q357.6,260.2 361.8,264.2" stroke-opacity="0.09" stroke-width="0.7"/><path d="M367.9,264.3Q373.7,269.7 379.6,274.9" stroke-opacity="0.18" stroke-width="0.6"/><path d="M352.6,301.3Q358.3,306.8 364.2,312.3" stroke-opacity="0.11" stroke-width="0.8"/><path d="M353.3,285.9Q359.0,291.4 364.8,296.8" stroke-opacity="0.21" stroke-width="0.9"/><path d="M311.6,265.7Q313.8,268.1 316.0,270.6" stroke-opacity="0.22" stroke-width="0.5"/><path d="M332.2,274.6Q336.3,278.9 340.5,283.2" stroke-opacity="0.10" stroke-width="0.7"/><path d="M309.9,263.0Q315.2,269.0 320.6,274.9" stroke-opacity="0.12" stroke-width="0.7"/><path d="M351.5,266.3Q357.7,272.3 364.0,278.2" stroke-opacity="0.20" stroke-width="0.9"/><path d="M306.6,265.5Q309.2,268.4 311.7,271.2" stroke-opacity="0.18" stroke-width="0.7"/><path d="M373.9,262.7Q380.3,268.5 386.8,274.1" stroke-opacity="0.08" stroke-width="0.7"/><path d="M332.4,293.2Q335.0,295.9 337.6,298.5" stroke-opacity="0.09" stroke-width="0.8"/><path d="M321.9,260.4Q325.9,264.6 329.9,268.9" stroke-opacity="0.22" stroke-width="0.7"/><path d="M371.9,290.4Q378.6,296.4 385.3,302.3" stroke-opacity="0.14" stroke-width="0.6"/><path d="M339.1,294.2Q345.5,300.7 352.1,307.2" stroke-opacity="0.15" stroke-width="0.9"/><path d="M365.8,228.6Q371.3,233.7 376.8,238.7" stroke-opacity="0.19" stroke-width="0.5"/><path d="M326.7,276.4Q331.2,281.2 335.8,285.9" stroke-opacity="0.15" stroke-width="0.5"/><path d="M315.5,294.7Q319.2,298.7 322.9,302.7" stroke-opacity="0.15" stroke-width="0.7"/><path d="M317.0,258.2Q321.4,263.0 325.9,267.8" stroke-opacity="0.20" stroke-width="0.8"/><path d="M304.9,263.8Q310.4,270.0 315.9,276.1" stroke-opacity="0.21" stroke-width="0.7"/><path d="M352.2,275.9Q357.7,281.2 363.2,286.5" stroke-opacity="0.21" stroke-width="0.9"/><path d="M389.0,235.1Q395.1,240.3 401.3,245.4" stroke-opacity="0.13" stroke-width="0.6"/><path d="M296.3,295.0Q302.4,302.0 308.5,309.0" stroke-opacity="0.15" stroke-width="0.7"/><path d="M307.8,297.1Q313.3,303.3 318.9,309.4" stroke-opacity="0.10" stroke-width="0.7"/><path d="M391.3,247.5Q395.6,251.2 399.9,254.8" stroke-opacity="0.13" stroke-width="0.6"/><path d="M301.1,276.3Q304.2,279.8 307.3,283.4" stroke-opacity="0.18" stroke-width="0.7"/><path d="M372.9,283.1Q379.6,289.1 386.4,295.1" stroke-opacity="0.10" stroke-width="0.8"/><path d="M370.3,251.4Q372.6,253.4 374.8,255.4" stroke-opacity="0.09" stroke-width="0.8"/><path d="M389.1,232.7Q392.7,235.8 396.3,238.8" stroke-opacity="0.14" stroke-width="0.5"/><path d="M352.3,291.7Q358.7,297.9 365.1,303.9" stroke-opacity="0.11" stroke-width="0.9"/><path d="M367.1,236.7Q373.7,242.8 380.4,248.7" stroke-opacity="0.21" stroke-width="0.9"/><path d="M365.2,290.0Q370.1,294.6 375.1,299.2" stroke-opacity="0.08" stroke-width="0.8"/></g><circle cx="300.1" cy="247.3" r="0.88" fill="url(#blob)" opacity="0.76"/><circle cx="343.6" cy="287.0" r="0.76" fill="url(#blob)" opacity="0.6"/><circle cx="379.7" cy="271.5" r="1.27" fill="url(#blob)" opacity="0.75"/><circle cx="330.6" cy="230.6" r="1.15" fill="url(#blob)" opacity="0.45"/><circle cx="293.0" cy="287.9" r="1.21" fill="url(#blob)" opacity="0.73"/><circle cx="391.2" cy="246.3" r="0.75" fill="url(#blob)" opacity="0.45"/><circle cx="393.7" cy="239.3" r="0.8" fill="url(#blob)" opacity="0.41"/><circle cx="297.1" cy="233.5" r="0.91" fill="url(#blob)" opacity="0.47"/><circle cx="324.2" cy="303.4" r="0.8" fill="url(#blob)" opacity="0.73"/></g>
<clipPath id="c21"><rect x="401" y="230.5" width="104" height="78.5"/></clipPath><g clip-path="url(#c21)"><rect x="401" y="230.5" width="104" height="78.5" fill="#6d717f"/><g fill="none" stroke="#c0c3cc" stroke-linecap="round" filter="url(#soft)"><path d="M494.8,244.1Q503.0,235.0 510.2,225.1" stroke-opacity="0.18" stroke-width="0.8"/><path d="M436.8,303.3Q443.3,302.2 449.9,303.0" stroke-opacity="0.28" stroke-width="0.6"/><path d="M409.0,255.5Q420.0,259.1 431.3,256.9" stroke-opacity="0.09" stroke-width="0.6"/><path d="M395.5,236.4Q402.2,235.4 408.8,236.5" stroke-opacity="0.13" stroke-width="0.6"/><path d="M470.1,269.9Q481.6,262.6 494.3,257.6" stroke-opacity="0.26" stroke-width="0.8"/><path d="M488.5,272.0Q499.7,275.2 510.3,280.4" stroke-opacity="0.26" stroke-width="0.7"/><path d="M406.0,274.6Q416.0,271.9 425.1,267.0" stroke-opacity="0.12" stroke-width="0.5"/><path d="M412.5,295.9Q420.0,285.1 428.3,275.0" stroke-opacity="0.21" stroke-width="0.6"/><path d="M392.8,233.7Q403.8,229.6 415.5,230.5" stroke-opacity="0.19" stroke-width="0.6"/><path d="M412.6,237.5Q418.9,240.1 425.0,243.0" stroke-opacity="0.11" stroke-width="0.7"/><path d="M427.3,281.5Q432.8,273.9 438.8,266.9" stroke-opacity="0.19" stroke-width="0.7"/><path d="M473.7,254.2Q482.1,242.2 490.7,230.4" stroke-opacity="0.25" stroke-width="0.7"/><path d="M435.1,304.6Q448.4,303.4 460.5,309.4" stroke-opacity="0.13" stroke-width="0.7"/><path d="M476.4,284.2Q489.2,290.1 502.5,294.0" stroke-opacity="0.19" stroke-width="0.7"/><path d="M403.7,286.4Q408.9,282.6 414.1,278.8" stroke-opacity="0.22" stroke-width="0.8"/><path d="M434.5,234.2Q439.6,236.3 444.9,237.3" stroke-opacity="0.18" stroke-width="0.5"/><path d="M467.9,279.0Q477.9,277.2 487.7,280.0" stroke-opacity="0.21" stroke-width="0.5"/><path d="M438.6,231.5Q448.5,235.4 459.1,234.3" stroke-opacity="0.24" stroke-width="0.5"/><path d="M465.0,305.4Q472.4,309.1 480.6,310.5" stroke-opacity="0.12" stroke-width="0.6"/><path d="M480.3,247.3Q487.6,236.7 495.2,226.6" stroke-opacity="0.13" stroke-width="0.7"/><path d="M486.6,295.1Q493.1,297.6 500.1,297.9" stroke-opacity="0.19" stroke-width="0.6"/><path d="M486.4,257.2Q492.0,253.6 497.8,250.2" stroke-opacity="0.16" stroke-width="0.5"/><path d="M419.4,292.4Q424.1,285.7 429.0,279.0" stroke-opacity="0.12" stroke-width="0.8"/><path d="M420.1,301.6Q428.4,293.2 435.7,283.9" stroke-opacity="0.19" stroke-width="0.7"/><path d="M449.6,295.3Q461.7,295.1 472.6,300.6" stroke-opacity="0.13" stroke-width="0.7"/><path d="M447.7,301.7Q453.9,302.5 459.6,304.9" stroke-opacity="0.17" stroke-width="0.8"/><path d="M398.3,297.7Q407.8,287.3 418.2,278.0" stroke-opacity="0.20" stroke-width="0.5"/><path d="M475.0,258.9Q481.9,251.3 488.0,243.2" stroke-opacity="0.24" stroke-width="0.6"/><path d="M418.7,236.2Q426.3,239.9 434.3,242.6" stroke-opacity="0.10" stroke-width="0.7"/><path d="M481.3,243.2Q487.2,234.8 493.6,226.7" stroke-opacity="0.24" stroke-width="0.7"/><path d="M420.3,280.6Q428.4,271.9 437.2,264.0" stroke-opacity="0.18" stroke-width="0.8"/><path d="M489.5,307.4Q495.8,306.6 501.7,304.6" stroke-opacity="0.08" stroke-width="0.7"/><path d="M456.5,257.1Q461.1,251.3 466.0,245.7" stroke-opacity="0.24" stroke-width="0.7"/><path d="M390.3,239.8Q402.7,238.5 414.0,243.7" stroke-opacity="0.16" stroke-width="0.5"/><path d="M494.1,257.7Q499.7,256.1 505.4,255.6" stroke-opacity="0.16" stroke-width="0.6"/><path d="M462.5,289.7Q468.3,290.2 473.8,292.2" stroke-opacity="0.17" stroke-width="0.8"/><path d="M437.7,300.8Q451.8,298.0 465.0,303.9" stroke-opacity="0.24" stroke-width="0.7"/><path d="M406.6,313.2Q412.5,307.7 418.1,302.0" stroke-opacity="0.14" stroke-width="0.7"/><path d="M446.5,293.0Q456.6,289.9 467.0,291.2" stroke-opacity="0.26" stroke-width="0.7"/><path d="M461.7,261.4Q468.2,252.0 474.9,242.9" stroke-opacity="0.18" stroke-width="0.7"/><path d="M421.1,301.4Q429.8,292.9 437.5,283.6" stroke-opacity="0.12" stroke-width="0.8"/><path d="M446.6,272.0Q451.4,265.1 456.3,258.3" stroke-opacity="0.16" stroke-width="0.7"/><path d="M486.7,266.9Q497.1,266.2 506.8,270.2" stroke-opacity="0.17" stroke-width="0.5"/><path d="M488.2,264.2Q493.4,263.2 498.7,263.4" stroke-opacity="0.13" stroke-width="0.6"/><path d="M478.9,249.8Q482.7,244.5 486.5,239.1" stroke-opacity="0.26" stroke-width="0.6"/><path d="M494.4,236.1Q497.8,231.3 501.2,226.5" stroke-opacity="0.12" stroke-width="0.6"/><path d="M448.3,268.0Q456.7,256.0 466.4,245.0" stroke-opacity="0.27" stroke-width="0.7"/><path d="M488.9,297.8Q503.7,300.2 517.7,294.3" stroke-opacity="0.20" stroke-width="0.5"/><path d="M451.0,235.6Q460.1,235.0 468.7,231.7" stroke-opacity="0.28" stroke-width="0.6"/><path d="M461.2,300.2Q472.0,305.9 483.8,308.6" stroke-opacity="0.16" stroke-width="0.7"/><path d="M407.1,301.3Q413.6,291.9 420.6,282.7" stroke-opacity="0.14" stroke-width="0.6"/><path d="M485.5,240.2Q489.6,234.3 494.0,228.6" stroke-opacity="0.21" stroke-width="0.7"/><path d="M453.0,282.7Q457.3,280.0 461.7,277.4" stroke-opacity="0.19" stroke-width="0.7"/><path d="M401.1,272.8Q408.7,272.6 415.9,270.3" stroke-opacity="0.15" stroke-width="0.7"/><path d="M484.3,236.1Q487.9,231.4 491.8,227.0" stroke-opacity="0.21" stroke-width="0.8"/><path d="M459.4,267.3Q466.9,257.4 474.0,247.1" stroke-opacity="0.26" stroke-width="0.5"/><path d="M393.4,260.9Q404.5,266.4 416.8,265.7" stroke-opacity="0.18" stroke-width="0.6"/><path d="M412.6,241.2Q417.5,243.5 422.5,245.7" stroke-opacity="0.17" stroke-width="0.6"/><path d="M455.9,273.4Q461.5,267.4 466.6,260.9" stroke-opacity="0.23" stroke-width="0.6"/><path d="M442.1,276.1Q449.0,266.2 456.1,256.6" stroke-opacity="0.28" stroke-width="0.7"/><path d="M393.0,295.8Q401.0,289.5 409.1,283.2" stroke-opacity="0.21" stroke-width="0.5"/><path d="M396.5,233.0Q402.5,231.4 408.7,231.1" stroke-opacity="0.10" stroke-width="0.7"/><path d="M474.4,266.4Q480.5,262.5 486.7,258.9" stroke-opacity="0.17" stroke-width="0.5"/><path d="M413.8,271.2Q426.8,266.0 438.7,258.5" stroke-opacity="0.23" stroke-width="0.5"/><path d="M470.6,304.0Q483.8,309.5 497.7,306.4" stroke-opacity="0.11" stroke-width="0.7"/><path d="M489.9,255.5Q499.2,250.0 509.2,246.1" stroke-opacity="0.21" stroke-width="0.8"/><path d="M476.3,269.8Q486.8,266.1 497.8,267.1" stroke-opacity="0.12" stroke-width="0.7"/><path d="M422.6,287.9Q426.3,282.6 430.1,277.4" stroke-opacity="0.23" stroke-width="0.7"/><path d="M405.9,261.2Q412.3,262.9 419.0,262.6" stroke-opacity="0.18" stroke-width="0.6"/><path d="M492.6,294.8Q498.1,296.3 503.7,296.2" stroke-opacity="0.13" stroke-width="0.6"/><path d="M404.3,279.1Q415.6,274.4 426.0,267.9" stroke-opacity="0.18" stroke-width="0.7"/><path d="M405.4,268.2Q419.0,267.7 431.2,261.8" stroke-opacity="0.10" stroke-width="0.6"/><path d="M450.9,275.1Q455.4,269.7 459.5,264.2" stroke-opacity="0.23" stroke-width="0.8"/><path d="M437.4,305.4Q451.8,306.7 464.7,313.8" stroke-opacity="0.23" stroke-width="0.6"/><path d="M446.2,300.8Q459.5,303.3 471.5,309.7" stroke-opacity="0.17" stroke-width="0.6"/><path d="M415.3,264.5Q428.1,262.3 439.6,256.2" stroke-opacity="0.16" stroke-width="0.7"/><path d="M415.1,266.5Q421.6,265.3 427.7,262.8" stroke-opacity="0.09" stroke-width="0.6"/><path d="M446.5,287.9Q457.1,281.3 468.8,276.6" stroke-opacity="0.16" stroke-width="0.7"/><path d="M491.1,242.2Q497.4,233.7 503.4,225.0" stroke-opacity="0.13" stroke-width="0.8"/><path d="M408.0,253.5Q416.0,256.9 424.7,257.2" stroke-opacity="0.23" stroke-width="0.7"/><path d="M397.8,266.2Q406.0,268.6 414.5,267.7" stroke-opacity="0.11" stroke-width="0.5"/><path d="M435.8,298.6Q449.8,292.2 465.0,294.1" stroke-opacity="0.12" stroke-width="0.6"/><path d="M459.0,279.9Q466.7,275.8 475.0,273.1" stroke-opacity="0.11" stroke-width="0.7"/><path d="M430.8,256.8Q440.5,253.8 449.4,249.0" stroke-opacity="0.10" stroke-width="0.6"/><path d="M402.2,252.0Q412.4,257.4 423.8,258.1" stroke-opacity="0.23" stroke-width="0.8"/><path d="M464.1,245.6Q472.2,237.7 480.8,230.4" stroke-opacity="0.13" stroke-width="0.6"/><path d="M461.1,267.7Q469.8,256.9 477.6,245.5" stroke-opacity="0.18" stroke-width="0.5"/><path d="M400.7,232.7Q415.2,232.4 428.0,239.5" stroke-opacity="0.27" stroke-width="0.6"/><path d="M485.0,282.8Q495.9,288.6 507.9,291.0" stroke-opacity="0.21" stroke-width="0.7"/><path d="M401.1,286.1Q409.3,281.1 417.2,275.6" stroke-opacity="0.16" stroke-width="0.6"/><path d="M456.1,290.4Q467.9,290.1 478.6,295.4" stroke-opacity="0.09" stroke-width="0.5"/><path d="M463.1,282.7Q468.9,281.4 474.8,281.6" stroke-opacity="0.09" stroke-width="0.8"/><path d="M493.1,300.6Q504.3,300.5 514.7,296.2" stroke-opacity="0.09" stroke-width="0.6"/><path d="M419.7,272.7Q431.6,265.0 443.0,256.7" stroke-opacity="0.27" stroke-width="0.6"/><path d="M442.6,298.6Q457.8,297.4 471.3,304.8" stroke-opacity="0.19" stroke-width="0.6"/><path d="M464.5,246.7Q473.1,237.7 482.6,229.4" stroke-opacity="0.25" stroke-width="0.8"/><path d="M473.4,254.0Q479.3,245.6 485.1,237.3" stroke-opacity="0.13" stroke-width="0.5"/><path d="M479.3,244.6Q485.5,235.6 492.5,227.1" stroke-opacity="0.14" stroke-width="0.7"/><path d="M428.0,292.3Q436.9,281.0 445.0,269.2" stroke-opacity="0.10" stroke-width="0.7"/><path d="M445.4,301.4Q453.6,301.9 461.1,305.2" stroke-opacity="0.27" stroke-width="0.7"/><path d="M393.6,241.2Q403.9,241.9 413.2,246.6" stroke-opacity="0.20" stroke-width="0.8"/><path d="M442.2,298.5Q453.0,296.7 463.4,300.2" stroke-opacity="0.16" stroke-width="0.8"/><path d="M459.8,254.6Q465.4,247.4 471.6,240.8" stroke-opacity="0.10" stroke-width="0.8"/><path d="M488.3,310.9Q498.2,308.3 507.2,303.6" stroke-opacity="0.13" stroke-width="0.7"/><path d="M457.0,303.6Q464.9,307.3 473.0,310.5" stroke-opacity="0.25" stroke-width="0.6"/><path d="M449.4,290.3Q458.9,287.1 469.0,287.6" stroke-opacity="0.09" stroke-width="0.6"/><path d="M462.6,283.9Q471.3,282.6 479.8,284.8" stroke-opacity="0.15" stroke-width="0.7"/><path d="M422.9,240.2Q429.1,243.1 435.9,244.4" stroke-opacity="0.20" stroke-width="0.6"/><path d="M441.5,307.2Q446.8,308.1 451.7,310.0" stroke-opacity="0.23" stroke-width="0.6"/><path d="M429.8,249.3Q437.7,249.6 445.4,247.4" stroke-opacity="0.09" stroke-width="0.5"/><path d="M440.7,305.1Q446.3,305.3 451.7,307.0" stroke-opacity="0.21" stroke-width="0.6"/><path d="M432.1,249.9Q443.1,249.0 453.3,244.5" stroke-opacity="0.14" stroke-width="0.6"/><path d="M403.5,268.4Q416.3,268.7 428.0,263.5" stroke-opacity="0.13" stroke-width="0.7"/><path d="M419.2,269.1Q426.2,265.9 432.8,262.1" stroke-opacity="0.24" stroke-width="0.5"/><path d="M474.4,242.5Q481.8,233.5 490.1,225.2" stroke-opacity="0.14" stroke-width="0.6"/><path d="M410.3,259.7Q421.7,261.5 432.6,258.0" stroke-opacity="0.21" stroke-width="0.7"/><path d="M412.4,278.5Q423.7,271.0 434.7,263.0" stroke-opacity="0.17" stroke-width="0.8"/><path d="M477.9,246.3Q483.8,237.8 490.2,229.7" stroke-opacity="0.16" stroke-width="0.7"/><path d="M394.2,295.5Q405.5,286.3 417.0,277.3" stroke-opacity="0.25" stroke-width="0.8"/><path d="M407.4,261.1Q415.6,262.9 423.9,261.5" stroke-opacity="0.22" stroke-width="0.5"/><path d="M495.5,262.1Q503.4,262.1 510.9,264.8" stroke-opacity="0.21" stroke-width="0.7"/><path d="M476.5,261.7Q485.1,254.5 493.3,246.8" stroke-opacity="0.17" stroke-width="0.6"/><path d="M459.8,300.8Q464.7,302.8 469.4,305.1" stroke-opacity="0.27" stroke-width="0.6"/><path d="M443.9,285.7Q452.1,278.4 459.8,270.7" stroke-opacity="0.25" stroke-width="0.6"/><path d="M446.5,285.5Q451.6,281.5 456.8,277.5" stroke-opacity="0.16" stroke-width="0.7"/><path d="M396.5,237.2Q405.0,236.8 413.1,239.7" stroke-opacity="0.19" stroke-width="0.6"/><path d="M459.3,277.0Q468.7,270.4 478.6,264.4" stroke-opacity="0.26" stroke-width="0.7"/><path d="M407.7,238.2Q416.6,241.5 425.3,245.6" stroke-opacity="0.11" stroke-width="0.6"/><path d="M404.1,265.9Q411.6,267.0 419.1,265.5" stroke-opacity="0.16" stroke-width="0.7"/><path d="M490.5,246.5Q497.7,238.3 504.1,229.4" stroke-opacity="0.24" stroke-width="0.6"/><path d="M480.9,263.7Q494.3,256.9 509.3,256.8" stroke-opacity="0.15" stroke-width="0.7"/><path d="M462.3,270.7Q472.1,261.4 480.7,251.0" stroke-opacity="0.11" stroke-width="0.7"/><path d="M472.4,298.9Q482.3,303.9 493.3,304.5" stroke-opacity="0.24" stroke-width="0.6"/><path d="M474.1,250.3Q482.2,238.5 491.3,227.4" stroke-opacity="0.27" stroke-width="0.5"/><path d="M485.4,277.1Q496.9,281.8 508.5,286.3" stroke-opacity="0.28" stroke-width="0.6"/><path d="M462.7,289.3Q473.0,290.9 482.3,295.7" stroke-opacity="0.24" stroke-width="0.8"/><path d="M474.5,296.2Q484.5,301.4 495.8,302.2" stroke-opacity="0.09" stroke-width="0.5"/><path d="M471.9,283.3Q485.1,287.1 497.5,292.9" stroke-opacity="0.13" stroke-width="0.7"/><path d="M407.5,315.5Q418.1,307.8 428.9,300.5" stroke-opacity="0.24" stroke-width="0.8"/><path d="M488.8,247.5Q496.4,238.6 503.1,229.1" stroke-opacity="0.16" stroke-width="0.7"/><path d="M399.3,262.7Q413.8,267.1 428.2,262.1" stroke-opacity="0.21" stroke-width="0.7"/><path d="M476.7,285.4Q482.3,287.3 487.6,289.9" stroke-opacity="0.18" stroke-width="0.7"/><path d="M478.8,264.7Q483.8,261.9 489.1,259.6" stroke-opacity="0.14" stroke-width="0.7"/><path d="M417.3,227.6Q430.6,232.6 443.9,237.7" stroke-opacity="0.24" stroke-width="0.6"/><path d="M466.7,277.4Q479.3,273.4 492.1,276.6" stroke-opacity="0.10" stroke-width="0.7"/><path d="M479.7,282.0Q493.1,288.5 507.5,292.0" stroke-opacity="0.14" stroke-width="0.7"/><path d="M405.8,232.3Q412.7,232.5 419.2,234.9" stroke-opacity="0.24" stroke-width="0.8"/><path d="M495.0,285.2Q500.0,287.5 505.4,288.8" stroke-opacity="0.24" stroke-width="0.7"/><path d="M411.1,241.1Q417.4,244.0 423.7,246.7" stroke-opacity="0.27" stroke-width="0.6"/><path d="M458.0,236.4Q465.3,234.2 472.1,230.9" stroke-opacity="0.27" stroke-width="0.7"/></g><circle cx="478.4" cy="248.0" r="4.50" fill="#a9adb9" opacity="0.40"/><circle cx="479.4" cy="248.9" r="2.70" fill="url(#blob)" opacity="0.96"/><circle cx="479.1" cy="248.4" r="1.78" fill="url(#blob)" opacity="1.00"/><circle cx="480.1" cy="246.7" r="2.39" fill="url(#blob)" opacity="1.00"/><circle cx="478.4" cy="248.0" r="2.70" fill="none" stroke="#e6e9ef" stroke-width="0.8" opacity="0.70"/><circle cx="465.7" cy="244.9" r="3.90" fill="#a9adb9" opacity="0.40"/><circle cx="466.1" cy="245.5" r="2.34" fill="url(#blob)" opacity="0.97"/><circle cx="466.7" cy="244.7" r="1.90" fill="url(#blob)" opacity="0.93"/><circle cx="465.7" cy="244.9" r="2.34" fill="none" stroke="#e6e9ef" stroke-width="0.8" opacity="0.70"/><circle cx="406.5" cy="252.3" r="3.00" fill="#a9adb9" opacity="0.32"/><circle cx="407.4" cy="253.2" r="1.80" fill="url(#blob)" opacity="0.78"/><circle cx="431.8" cy="250.2" r="2.70" fill="#a9adb9" opacity="0.32"/><circle cx="432.6" cy="250.5" r="1.62" fill="url(#blob)" opacity="0.80"/><circle cx="431.8" cy="249.5" r="1.41" fill="url(#blob)" opacity="0.94"/><circle cx="444.5" cy="246.0" r="2.70" fill="#a9adb9" opacity="0.32"/><circle cx="444.4" cy="246.8" r="1.62" fill="url(#blob)" opacity="0.73"/><circle cx="444.5" cy="246.0" r="1.62" fill="none" stroke="#e6e9ef" stroke-width="0.8" opacity="0.56"/><circle cx="408.6" cy="238.5" r="2.40" fill="#a9adb9" opacity="0.28"/><circle cx="408.4" cy="239.2" r="1.44" fill="url(#blob)" opacity="0.66"/><circle cx="408.6" cy="238.5" r="1.44" fill="none" stroke="#e6e9ef" stroke-width="0.8" opacity="0.49"/><circle cx="437.1" cy="241.7" r="2.40" fill="#a9adb9" opacity="0.28"/><circle cx="437.1" cy="242.4" r="1.44" fill="url(#blob)" opacity="0.74"/><circle cx="437.2" cy="242.5" r="0.99" fill="url(#blob)" opacity="0.66"/><circle cx="445.6" cy="260.7" r="2.70" fill="#a9adb9" opacity="0.32"/><circle cx="445.1" cy="260.3" r="1.62" fill="url(#blob)" opacity="0.84"/><circle cx="445.6" cy="260.7" r="1.62" fill="none" stroke="#e6e9ef" stroke-width="0.8" opacity="0.56"/><circle cx="457.2" cy="260.7" r="2.70" fill="#a9adb9" opacity="0.32"/><circle cx="457.6" cy="260.1" r="1.62" fill="url(#blob)" opacity="0.92"/><circle cx="457.8" cy="260.7" r="1.38" fill="url(#blob)" opacity="0.95"/><circle cx="436.1" cy="266.0" r="2.70" fill="#a9adb9" opacity="0.32"/><circle cx="437.1" cy="264.9" r="1.62" fill="url(#blob)" opacity="0.87"/><circle cx="435.5" cy="266.2" r="1.07" fill="url(#blob)" opacity="0.87"/><circle cx="454.0" cy="273.4" r="3.30" fill="#a9adb9" opacity="0.36"/><circle cx="453.0" cy="274.3" r="1.98" fill="url(#blob)" opacity="0.87"/><circle cx="454.2" cy="274.2" r="1.61" fill="url(#blob)" opacity="0.95"/><circle cx="463.6" cy="273.4" r="2.70" fill="#a9adb9" opacity="0.32"/><circle cx="463.3" cy="272.5" r="1.62" fill="url(#blob)" opacity="0.93"/><circle cx="445.6" cy="273.4" r="2.40" fill="#a9adb9" opacity="0.28"/><circle cx="446.0" cy="273.0" r="1.44" fill="url(#blob)" opacity="0.73"/><circle cx="445.0" cy="273.0" r="1.21" fill="url(#blob)" opacity="0.77"/><circle cx="445.6" cy="273.4" r="1.44" fill="none" stroke="#e6e9ef" stroke-width="0.8" opacity="0.49"/><circle cx="458.3" cy="276.6" r="2.40" fill="#a9adb9" opacity="0.28"/><circle cx="458.1" cy="277.0" r="1.44" fill="url(#blob)" opacity="0.64"/><circle cx="458.9" cy="277.5" r="1.04" fill="url(#blob)" opacity="0.72"/><circle cx="503.8" cy="266.0" r="3.75" fill="#a9adb9" opacity="0.40"/><circle cx="504.1" cy="265.5" r="2.25" fill="url(#blob)" opacity="0.91"/><circle cx="503.4" cy="266.3" r="1.30" fill="url(#blob)" opacity="0.93"/><circle cx="503.8" cy="266.0" r="2.25" fill="none" stroke="#e6e9ef" stroke-width="0.8" opacity="0.70"/><circle cx="491.0" cy="237.5" r="2.40" fill="#a9adb9" opacity="0.28"/><circle cx="490.7" cy="238.3" r="1.44" fill="url(#blob)" opacity="0.74"/><circle cx="453.0" cy="294.6" r="3.30" fill="#a9adb9" opacity="0.36"/><circle cx="453.6" cy="294.8" r="1.98" fill="url(#blob)" opacity="0.82"/><circle cx="454.3" cy="295.0" r="1.24" fill="url(#blob)" opacity="1.00"/><circle cx="451.9" cy="295.8" r="1.65" fill="url(#blob)" opacity="0.89"/><circle cx="428.7" cy="298.8" r="3.60" fill="#a9adb9" opacity="0.40"/><circle cx="429.1" cy="297.8" r="2.16" fill="url(#blob)" opacity="1.00"/><circle cx="429.2" cy="299.5" r="1.59" fill="url(#blob)" opacity="1.00"/><circle cx="442.4" cy="292.5" r="2.70" fill="#a9adb9" opacity="0.32"/><circle cx="442.3" cy="291.6" r="1.62" fill="url(#blob)" opacity="0.87"/><circle cx="402.2" cy="297.8" r="2.70" fill="#a9adb9" opacity="0.32"/><circle cx="401.4" cy="298.5" r="1.62" fill="url(#blob)" opacity="0.85"/><circle cx="402.3" cy="298.0" r="1.18" fill="url(#blob)" opacity="0.88"/><circle cx="501.7" cy="304.1" r="2.70" fill="#a9adb9" opacity="0.32"/><circle cx="501.4" cy="304.6" r="1.62" fill="url(#blob)" opacity="0.95"/><circle cx="501.0" cy="303.3" r="1.21" fill="url(#blob)" opacity="0.84"/><circle cx="501.7" cy="304.1" r="1.62" fill="none" stroke="#e6e9ef" stroke-width="0.8" opacity="0.56"/><circle cx="434.0" cy="303.0" r="2.40" fill="#a9adb9" opacity="0.28"/><circle cx="434.9" cy="303.4" r="1.44" fill="url(#blob)" opacity="0.75"/><circle cx="434.2" cy="303.0" r="1.17" fill="url(#blob)" opacity="0.78"/><circle cx="481.6" cy="284.0" r="2.40" fill="#a9adb9" opacity="0.28"/><circle cx="481.9" cy="283.2" r="1.44" fill="url(#blob)" opacity="0.66"/><circle cx="491.0" cy="257.6" r="2.40" fill="#a9adb9" opacity="0.28"/><circle cx="490.1" cy="257.5" r="1.44" fill="url(#blob)" opacity="0.67"/><circle cx="491.8" cy="256.8" r="0.94" fill="url(#blob)" opacity="0.63"/><circle cx="497.5" cy="244.1" r="1.08" fill="url(#blob)" opacity="0.27"/><circle cx="449.3" cy="301.0" r="0.71" fill="url(#blob)" opacity="0.35"/><circle cx="417.8" cy="306.0" r="1.09" fill="url(#blob)" opacity="0.25"/><circle cx="413.8" cy="267.6" r="0.81" fill="url(#blob)" opacity="0.43"/><circle cx="436.6" cy="276.8" r="0.6" fill="url(#blob)" opacity="0.26"/><circle cx="409.2" cy="273.3" r="0.84" fill="url(#blob)" opacity="0.39"/><circle cx="498.3" cy="254.6" r="0.71" fill="url(#blob)" opacity="0.34"/><circle cx="499.4" cy="254.6" r="0.67" fill="url(#blob)" opacity="0.33"/><circle cx="472.7" cy="252.5" r="0.6" fill="url(#blob)" opacity="0.42"/><circle cx="460.8" cy="276.0" r="0.51" fill="url(#blob)" opacity="0.27"/><circle cx="411.6" cy="259.2" r="1.04" fill="url(#blob)" opacity="0.5"/><circle cx="489.0" cy="259.5" r="0.84" fill="url(#blob)" opacity="0.47"/><circle cx="436.7" cy="261.8" r="0.93" fill="url(#blob)" opacity="0.3"/><circle cx="450.3" cy="258.9" r="0.99" fill="url(#blob)" opacity="0.36"/><circle cx="411.2" cy="231.8" r="0.89" fill="url(#blob)" opacity="0.23"/><circle cx="470.6" cy="248.0" r="0.82" fill="url(#blob)" opacity="0.3"/><circle cx="469.1" cy="240.9" r="0.75" fill="url(#blob)" opacity="0.4"/><circle cx="428.0" cy="308.3" r="1.09" fill="url(#blob)" opacity="0.49"/><circle cx="497.9" cy="304.4" r="0.84" fill="url(#blob)" opacity="0.45"/><circle cx="443.2" cy="235.7" r="1.06" fill="url(#blob)" opacity="0.48"/><circle cx="427.8" cy="260.0" r="0.64" fill="url(#blob)" opacity="0.41"/><circle cx="418.6" cy="294.4" r="0.52" fill="url(#blob)" opacity="0.32"/><circle cx="482.3" cy="268.7" r="0.58" fill="url(#blob)" opacity="0.21"/><circle cx="471.8" cy="236.4" r="0.67" fill="url(#blob)" opacity="0.38"/><circle cx="433.1" cy="233.4" r="0.98" fill="url(#blob)" opacity="0.42"/><circle cx="464.7" cy="238.4" r="0.79" fill="url(#blob)" opacity="0.49"/><circle cx="454.2" cy="250.5" r="1.06" fill="url(#blob)" opacity="0.3"/><circle cx="455.4" cy="243.4" r="1.02" fill="url(#blob)" opacity="0.4"/><circle cx="456.2" cy="269.2" r="0.7" fill="url(#blob)" opacity="0.34"/><circle cx="454.2" cy="232.0" r="0.93" fill="url(#blob)" opacity="0.43"/><circle cx="403.9" cy="241.1" r="0.93" fill="url(#blob)" opacity="0.3"/><circle cx="415.7" cy="285.3" r="1.09" fill="url(#blob)" opacity="0.31"/><circle cx="462.5" cy="273.7" r="0.83" fill="url(#blob)" opacity="0.38"/><circle cx="496.1" cy="298.2" r="1.03" fill="url(#blob)" opacity="0.41"/><circle cx="480.2" cy="289.8" r="0.95" fill="url(#blob)" opacity="0.41"/><circle cx="479.9" cy="235.1" r="0.6" fill="url(#blob)" opacity="0.4"/><circle cx="445.0" cy="248.5" r="0.89" fill="url(#blob)" opacity="0.26"/><circle cx="479.7" cy="255.5" r="1.05" fill="url(#blob)" opacity="0.29"/><circle cx="501.3" cy="256.2" r="0.97" fill="url(#blob)" opacity="0.24"/><circle cx="453.3" cy="258.5" r="1.02" fill="url(#blob)" opacity="0.41"/><circle cx="460.4" cy="239.4" r="0.81" fill="url(#blob)" opacity="0.27"/><circle cx="411.5" cy="285.7" r="0.83" fill="url(#blob)" opacity="0.5"/><circle cx="488.7" cy="233.9" r="1.07" fill="url(#blob)" opacity="0.36"/><circle cx="504.1" cy="254.7" r="0.78" fill="url(#blob)" opacity="0.41"/><circle cx="427.5" cy="262.4" r="0.7" fill="url(#blob)" opacity="0.3"/><circle cx="457.2" cy="269.8" r="1.03" fill="url(#blob)" opacity="0.27"/><circle cx="426.1" cy="253.2" r="0.5" fill="url(#blob)" opacity="0.3"/><circle cx="437.2" cy="237.9" r="0.81" fill="url(#blob)" opacity="0.23"/><circle cx="483.6" cy="304.5" r="0.87" fill="url(#blob)" opacity="0.26"/><circle cx="416.9" cy="235.3" r="0.61" fill="url(#blob)" opacity="0.45"/><circle cx="480.6" cy="298.1" r="0.72" fill="url(#blob)" opacity="0.37"/><circle cx="475.3" cy="282.3" r="0.89" fill="url(#blob)" opacity="0.21"/><circle cx="504.6" cy="275.9" r="0.67" fill="url(#blob)" opacity="0.3"/><circle cx="480.2" cy="303.1" r="0.52" fill="url(#blob)" opacity="0.26"/><circle cx="406.2" cy="281.2" r="0.86" fill="url(#blob)" opacity="0.39"/></g>
<line x1="259.8" y1="146" x2="259.8" y2="307.5" stroke="#000" stroke-width="1.5" />
<text transform="translate(251.9,227) rotate(-90)" x="0" y="0" font-size="13.2" text-anchor="middle" fill="#000" stroke="#000" stroke-width="0.22" textLength="30.5" lengthAdjust="spacingAndGlyphs" >day 6</text>
<text x="269.5" y="347.3" font-size="19" text-anchor="start" fill="#000" stroke="#000" stroke-width="0.22" >D</text>
<text x="290.6" y="369.4" font-size="12" text-anchor="start" fill="#000" stroke="#000" stroke-width="0.22" textLength="72.4" lengthAdjust="spacingAndGlyphs" >Healthy MSC</text>
<text x="384.0" y="369.4" font-size="12" text-anchor="start" fill="#000" stroke="#000" stroke-width="0.22" textLength="56.0" lengthAdjust="spacingAndGlyphs" >MDS MSC</text>
<line x1="292" y1="378" x2="361.3" y2="378" stroke="#000" stroke-width="1.5" />
<line x1="377" y1="378" x2="446.5" y2="378" stroke="#000" stroke-width="1.5" />
<clipPath id="h00"><rect x="291.5" y="383.5" width="70.3" height="69.3"/></clipPath><g clip-path="url(#h00)" fill="none" stroke-width="1.05" stroke-linejoin="round"><polyline points="291.8,409.5 293.6,402.5 295.5,399.5 297.5,405.6 299.0,416.4 301.3,427.2 303.6,437.9 305.9,445.6 308.2,450.2 311.3,452.2" stroke="#6cb044"/><polyline points="304.4,452.2 308.2,450.2 311.3,445.6 313.6,437.9 315.9,430.2 319.0,421.0 321.3,410.2 322.8,402.5 324.1,399.8 325.6,402.5 327.2,411.8 328.7,424.1 330.5,431.8 332.1,437.9 334.4,444.1 336.7,448.7 339.8,451.5 342.8,452.2" stroke="#33589a"/><polyline points="299.8,452.2 302.8,449.5 305.9,445.6 309.0,437.9 312.1,424.1 314.4,416.4 316.7,410.2 318.2,404.1 319.8,402.5 321.6,399.8 323.2,402.5 324.1,410.2 325.9,414.8 327.5,424.1 329.0,428.7 330.5,434.8 332.4,441.0 334.4,447.2 336.7,451.0 339.8,452.2" stroke="#c3173f"/></g>
<rect x="291.5" y="383.5" width="70.3" height="69.3" fill="none" stroke="#000" stroke-width="1.5"/>
<clipPath id="h01"><rect x="376.7" y="383.5" width="70.3" height="69.3"/></clipPath><g clip-path="url(#h01)" fill="none" stroke-width="1.05" stroke-linejoin="round"><polyline points="377.1,438.7 378.6,431.8 380.2,419.5 381.7,407.2 382.9,403.3 384.0,406.4 384.8,413.3 385.5,417.9 386.6,419.5 387.5,425.6 388.6,434.8 390.2,442.5 391.7,447.9 393.2,451.0 395.5,452.1 400.9,452.2" stroke="#6cb044"/><polyline points="387.8,452.2 392.5,451.8 395.5,448.7 397.8,444.1 400.2,436.4 402.5,430.2 404.8,424.1 407.1,416.4 408.2,405.6 409.1,399.5 410.2,404.1 411.7,397.2 413.2,401.0 414.3,399.5 415.2,407.2 416.8,416.4 417.8,421.0 418.9,430.2 420.2,437.9 421.7,444.1 424.0,447.2 427.1,450.2 430.9,452.2" stroke="#33589a"/><polyline points="390.9,452.2 394.0,451.0 397.1,448.7 400.2,447.2 402.5,441.0 404.8,431.8 406.6,422.5 408.2,413.3 409.7,415.6 410.9,411.8 412.5,407.9 413.7,411.8 414.8,421.0 415.8,430.2 417.8,437.9 420.2,444.1 423.2,447.2 426.3,449.5 429.4,451.0 432.5,452.2" stroke="#c3173f"/></g>
<rect x="376.7" y="383.5" width="70.3" height="69.3" fill="none" stroke="#000" stroke-width="1.5"/>
<line x1="277.5" y1="440.8" x2="277.5" y2="467.75" stroke="#000" stroke-width="1.5" />
<line x1="276.75" y1="467.0" x2="385.3" y2="467.0" stroke="#000" stroke-width="1.5" />
<text transform="translate(282.6,417.8) rotate(-90)" x="0" y="0" font-size="16" text-anchor="middle" fill="#000" stroke="#000" stroke-width="0.22" textLength="42.6" lengthAdjust="spacingAndGlyphs" >Count</text>
<text x="393.0" y="472.0" font-size="15" text-anchor="start" fill="#000" stroke="#000" stroke-width="0.22" textLength="37.3" lengthAdjust="spacingAndGlyphs" >CD73</text>
<clipPath id="h10"><rect x="291.5" y="491.9" width="70.3" height="69.3"/></clipPath><g clip-path="url(#h10)" fill="none" stroke-width="1.05" stroke-linejoin="round"><polyline points="291.8,524.4 292.8,518.2 294.4,512.1 295.9,499.8 296.7,502.1 297.5,505.9 298.7,507.5 299.8,513.6 301.0,522.8 302.5,532.1 304.1,541.3 305.9,550.5 307.8,557.5 309.8,559.8 312.1,560.6" stroke="#6cb044"/><polyline points="314.4,560.6 319.8,560.1 323.6,558.2 326.7,555.2 329.0,550.5 331.3,542.8 332.8,535.2 334.4,527.5 335.9,519.8 337.9,510.5 339.8,505.9 341.3,502.1 342.1,507.5 343.6,511.3 345.2,512.1 346.2,519.8 347.8,524.4 349.8,528.2 351.3,535.2 352.8,539.8 354.4,545.9 356.7,550.5 359.0,555.2 360.5,558.2" stroke="#33589a"/><polyline points="312.1,560.6 315.9,560.1 319.8,559.0 322.8,556.7 325.9,552.1 328.2,545.9 329.8,535.2 330.8,524.4 332.1,513.6 333.6,504.4 335.9,497.5 337.5,499.8 339.0,503.6 340.5,505.9 342.1,508.2 343.6,514.4 345.6,517.5 347.2,522.1 349.0,526.7 350.5,532.1 352.1,538.2 353.6,544.4 355.9,550.5 358.2,555.2 360.5,559.0" stroke="#c3173f"/></g>
<rect x="291.5" y="491.9" width="70.3" height="69.3" fill="none" stroke="#000" stroke-width="1.5"/>
<clipPath id="h11"><rect x="376.7" y="491.9" width="70.3" height="69.3"/></clipPath><g clip-path="url(#h11)" fill="none" stroke-width="1.05" stroke-linejoin="round"><polyline points="377.4,531.3 378.3,525.9 379.8,524.4 380.9,510.5 382.5,506.7 384.0,505.2 385.1,503.6 386.0,509.0 387.1,513.6 388.2,524.4 389.4,533.6 390.9,541.3 392.5,549.0 394.8,556.7 397.1,560.1 400.9,560.6" stroke="#6cb044"/><polyline points="378.6,560.6 383.2,560.5 387.8,559.0 390.9,555.2 393.2,551.3 395.5,542.8 397.8,533.6 400.2,522.8 402.5,512.1 404.0,504.4 404.8,500.5 405.5,505.9 406.6,512.1 407.8,510.5 409.1,515.2 410.6,524.4 412.2,533.6 414.0,542.8 416.3,552.1 418.6,557.5 421.7,560.1 424.8,560.6" stroke="#33589a"/><polyline points="378.6,560.6 383.2,560.5 387.8,559.0 390.9,554.4 393.2,550.5 395.5,542.1 397.8,532.8 400.2,521.3 402.5,510.5 404.0,505.9 405.2,502.8 406.3,505.9 407.5,509.0 408.8,513.6 410.6,522.8 412.2,533.6 414.0,542.8 416.3,552.1 418.6,558.2 421.7,560.1 424.8,560.6" stroke="#c3173f"/></g>
<rect x="376.7" y="491.9" width="70.3" height="69.3" fill="none" stroke="#000" stroke-width="1.5"/>
<line x1="277.5" y1="549.6" x2="277.5" y2="576.55" stroke="#000" stroke-width="1.5" />
<line x1="276.75" y1="575.8" x2="385.3" y2="575.8" stroke="#000" stroke-width="1.5" />
<text transform="translate(282.6,526.6) rotate(-90)" x="0" y="0" font-size="16" text-anchor="middle" fill="#000" stroke="#000" stroke-width="0.22" textLength="42.6" lengthAdjust="spacingAndGlyphs" >Count</text>
<text x="393.0" y="580.5" font-size="15" text-anchor="start" fill="#000" stroke="#000" stroke-width="0.22" textLength="37.3" lengthAdjust="spacingAndGlyphs" >CD90</text>
<clipPath id="h20"><rect x="291.5" y="600.8" width="70.3" height="69.3"/></clipPath><g clip-path="url(#h20)" fill="none" stroke-width="1.05" stroke-linejoin="round"><polyline points="292.1,628.8 293.3,626.5 294.4,616.5 295.5,611.1 296.4,610.3 297.5,614.9 298.5,622.6 299.8,628.8 301.0,638.0 302.5,647.2 304.4,653.4 306.7,661.1 309.0,665.7 312.1,668.8 315.9,669.5" stroke="#6cb044"/><polyline points="299.8,669.5 302.8,668.0 306.7,664.2 309.0,658.0 310.5,650.3 312.1,642.6 313.6,634.9 315.2,628.8 316.4,627.2 317.5,618.0 318.5,612.6 319.5,617.2 320.5,621.1 321.6,622.6 322.8,626.5 324.4,630.3 325.9,638.0 327.5,645.7 329.0,653.4 330.5,659.5 332.8,665.7 335.2,668.8 337.5,669.5" stroke="#33589a"/><polyline points="296.7,669.5 299.8,668.8 303.6,665.7 305.2,661.1 306.7,651.8 308.2,644.2 309.8,638.0 311.3,631.8 312.4,622.6 313.3,616.5 314.4,618.8 315.9,617.2 317.0,615.7 318.2,618.0 319.5,615.7 320.5,622.6 322.1,628.8 323.6,636.5 325.2,644.2 326.7,651.8 328.2,658.8 329.8,664.2 332.1,667.5 335.2,669.5" stroke="#c3173f"/></g>
<rect x="291.5" y="600.8" width="70.3" height="69.3" fill="none" stroke="#000" stroke-width="1.5"/>
<clipPath id="h21"><rect x="376.7" y="600.8" width="70.3" height="69.3"/></clipPath><g clip-path="url(#h21)" fill="none" stroke-width="1.05" stroke-linejoin="round"><polyline points="377.4,664.2 378.6,656.5 380.2,644.2 381.7,628.8 382.9,618.0 384.0,612.6 385.1,612.2 386.3,614.2 387.5,618.8 388.6,621.1 389.4,628.8 390.6,639.5 392.2,650.3 394.0,659.5 396.3,666.5 398.6,669.5 401.7,669.5" stroke="#6cb044"/><polyline points="384.8,669.5 387.8,668.0 392.5,665.7 397.1,662.6 399.4,661.1 402.5,660.3 405.5,658.8 408.6,654.9 410.2,650.3 411.7,642.6 413.2,631.8 414.3,621.1 415.2,608.8 415.8,607.2 416.8,613.4 417.8,625.7 418.9,641.1 420.2,653.4 421.7,664.2 423.2,669.5" stroke="#33589a"/><polyline points="384.8,669.5 387.8,668.0 392.5,665.7 397.1,663.4 399.4,663.4 401.7,664.2 404.0,661.8 405.5,656.5 406.6,644.2 407.8,628.8 409.1,616.5 410.2,611.1 410.9,608.0 411.7,610.3 412.5,611.8 413.2,618.0 414.0,631.8 415.2,644.2 416.3,656.5 417.8,665.7 419.4,669.5" stroke="#c3173f"/></g>
<rect x="376.7" y="600.8" width="70.3" height="69.3" fill="none" stroke="#000" stroke-width="1.5"/>
<line x1="277.5" y1="658.4" x2="277.5" y2="685.35" stroke="#000" stroke-width="1.5" />
<line x1="276.75" y1="684.6" x2="385.3" y2="684.6" stroke="#000" stroke-width="1.5" />
<text transform="translate(282.6,635.4) rotate(-90)" x="0" y="0" font-size="16" text-anchor="middle" fill="#000" stroke="#000" stroke-width="0.22" textLength="42.6" lengthAdjust="spacingAndGlyphs" >Count</text>
<text x="388.2" y="690.0" font-size="15" text-anchor="start" fill="#000" stroke="#000" stroke-width="0.22" textLength="46.0" lengthAdjust="spacingAndGlyphs" >CD105</text>
<clipPath id="h30"><rect x="291.5" y="709.2" width="70.3" height="69.3"/></clipPath><g clip-path="url(#h30)" fill="none" stroke-width="1.05" stroke-linejoin="round"><polyline points="292.1,739.3 293.3,737.8 294.4,743.9 295.2,737.8 295.9,730.8 296.7,731.6 297.5,727.0 298.2,721.6 299.5,717.8 300.5,717.8 301.6,720.8 302.8,728.5 304.1,737.8 305.2,745.5 306.7,753.2 308.2,760.8 309.8,768.5 311.3,774.7 313.3,777.9 315.9,777.9" stroke="#6cb044"/><polyline points="307.5,777.9 309.8,776.2 312.1,771.6 313.6,763.9 315.2,753.2 316.4,740.8 317.5,728.5 318.7,717.8 319.8,715.5 320.8,716.2 321.6,722.4 322.5,734.7 323.6,747.0 324.7,759.3 325.9,770.1 327.2,777.0 328.2,777.9" stroke="#33589a"/><polyline points="304.4,777.9 306.7,776.2 309.0,771.6 310.5,765.5 311.8,754.7 312.8,742.4 313.9,730.1 314.8,719.3 315.6,714.7 316.7,716.2 317.9,720.8 318.7,731.6 319.5,743.9 320.5,756.2 321.6,768.5 322.8,775.5 324.4,777.9" stroke="#c3173f"/></g>
<rect x="291.5" y="709.2" width="70.3" height="69.3" fill="none" stroke="#000" stroke-width="1.5"/>
<clipPath id="h31"><rect x="376.7" y="709.2" width="70.3" height="69.3"/></clipPath><g clip-path="url(#h31)" fill="none" stroke-width="1.05" stroke-linejoin="round"><polyline points="377.1,737.8 378.3,739.3 379.4,744.7 380.2,740.8 380.9,731.6 381.7,732.4 382.5,727.0 383.5,721.6 384.8,717.8 385.8,718.5 386.8,722.4 387.8,730.1 389.1,737.8 390.2,743.9 391.2,751.6 392.5,759.3 394.0,765.5 395.5,771.6 397.1,775.9 398.9,777.9 401.7,777.9" stroke="#6cb044"/><polyline points="391.7,777.9 394.0,775.5 396.3,770.1 398.3,763.9 400.2,756.2 402.0,747.0 404.0,734.7 405.5,723.9 406.6,717.0 407.5,717.8 408.2,727.0 409.1,740.8 409.8,753.2 410.6,765.5 411.7,774.7 413.2,777.9" stroke="#33589a"/><polyline points="391.7,777.9 394.0,776.2 396.3,771.6 398.3,765.5 400.2,756.2 401.7,745.5 402.9,731.6 403.8,720.8 404.5,715.5 405.2,717.0 406.0,722.4 406.8,733.2 407.5,747.0 408.3,759.3 409.4,771.6 410.6,777.5 411.7,777.9" stroke="#c3173f"/></g>
<rect x="376.7" y="709.2" width="70.3" height="69.3" fill="none" stroke="#000" stroke-width="1.5"/>
<line x1="277.5" y1="767.2" x2="277.5" y2="794.15" stroke="#000" stroke-width="1.5" />
<line x1="276.75" y1="793.4" x2="385.3" y2="793.4" stroke="#000" stroke-width="1.5" />
<text transform="translate(282.6,744.2) rotate(-90)" x="0" y="0" font-size="16" text-anchor="middle" fill="#000" stroke="#000" stroke-width="0.22" textLength="42.6" lengthAdjust="spacingAndGlyphs" >Count</text>
<text x="388.2" y="798.2" font-size="15" text-anchor="start" fill="#000" stroke="#000" stroke-width="0.22" textLength="45.2" lengthAdjust="spacingAndGlyphs" >CD271</text>
<rect x="290.3" y="810.9" width="7.6" height="7.4" fill="#6fb545" stroke="#000" stroke-width="1.4"/>
<text x="302.8" y="818.7" font-size="12.2" text-anchor="start" fill="#000" stroke="#000" stroke-width="0.22" textLength="59.2" lengthAdjust="spacingAndGlyphs" >IgG control</text>
<rect x="380.2" y="810.9" width="7.6" height="7.4" fill="#2f5090" stroke="#000" stroke-width="1.4"/>
<text x="392.0" y="818.7" font-size="12.2" text-anchor="start" fill="#000" stroke="#000" stroke-width="0.22" textLength="52.8" lengthAdjust="spacingAndGlyphs" >untreated</text>
<rect x="290.3" y="830.6" width="7.6" height="7.4" fill="#c0002f" stroke="#000" stroke-width="1.4"/>
<text x="302.8" y="838.5" font-size="12.2" text-anchor="start" fill="#000" stroke="#000" stroke-width="0.22" textLength="37.4" lengthAdjust="spacingAndGlyphs" >(+)AZA</text>
</svg>
<div class="frame"></div>
</body></html>
